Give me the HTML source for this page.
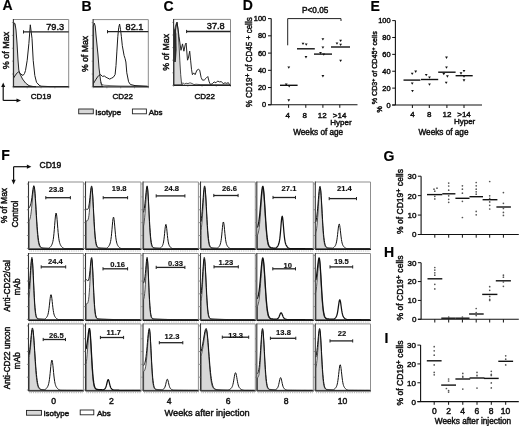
<!DOCTYPE html>
<html><head><meta charset="utf-8"><title>Figure</title>
<style>html,body{margin:0;padding:0;background:#fff;width:520px;height:426px;overflow:hidden}svg{will-change:transform;filter:blur(0.3px)}svg text{font-family:'Liberation Sans',sans-serif;stroke:#111;stroke-width:0.45px}</style>
</head><body>
<svg width="520" height="426" viewBox="0 0 520 426" style="display:block"><text x="2.60" y="10.40" font-size="14" text-anchor="start" font-weight="bold" fill="#000" style="stroke-width:0.2px;">A</text>
<text x="81.60" y="10.60" font-size="14" text-anchor="start" font-weight="bold" fill="#000" style="stroke-width:0.2px;">B</text>
<text x="163.40" y="10.60" font-size="14" text-anchor="start" font-weight="bold" fill="#000" style="stroke-width:0.2px;">C</text>
<text x="242.80" y="10.40" font-size="14" text-anchor="start" font-weight="bold" fill="#000" style="stroke-width:0.2px;">D</text>
<text x="370.60" y="10.70" font-size="14" text-anchor="start" font-weight="bold" fill="#000" style="stroke-width:0.2px;">E</text>
<text x="1.20" y="159.80" font-size="14" text-anchor="start" font-weight="bold" fill="#000" style="stroke-width:0.2px;">F</text>
<text x="383.60" y="160.80" font-size="14" text-anchor="start" font-weight="bold" fill="#000" style="stroke-width:0.2px;">G</text>
<text x="384.00" y="256.60" font-size="14" text-anchor="start" font-weight="bold" fill="#000" style="stroke-width:0.2px;">H</text>
<text x="384.60" y="342.60" font-size="14" text-anchor="start" font-weight="bold" fill="#000" style="stroke-width:0.2px;">I</text>
<path d="M13.60,86.60 L13.60,27.00 L14.10,23.00 L15.00,23.50 L16.00,30.00 L17.00,43.00 L18.00,60.00 L18.80,70.00 L20.00,74.00 L22.50,79.00 L25.50,83.00 L29.00,85.70 L33.00,86.50 L36.00,86.60 Z" fill="#d8d8d8" stroke="#1a1a1a" stroke-width="0.95" stroke-linejoin="round"/>
<path d="M13.60,78.00 L15.50,75.00 L17.50,72.50 L18.80,71.80 L20.50,73.80 L23.00,75.50 L24.50,73.50 L25.50,70.50 L27.20,60.30 L28.90,43.40 L30.30,24.80 L32.00,38.30 L33.20,60.30 L34.80,75.50 L36.50,82.30 L39.10,85.20 L41.00,86.20 L50.00,86.60 L68.00,86.60" fill="none" stroke="#1a1a1a" stroke-width="1.0" stroke-linejoin="round"/>
<line x1="11.90" y1="86.90" x2="13.40" y2="86.90" stroke="#888" stroke-width="0.7"/>
<line x1="11.90" y1="74.02" x2="13.40" y2="74.02" stroke="#888" stroke-width="0.7"/>
<line x1="11.90" y1="61.14" x2="13.40" y2="61.14" stroke="#888" stroke-width="0.7"/>
<line x1="11.90" y1="48.26" x2="13.40" y2="48.26" stroke="#888" stroke-width="0.7"/>
<line x1="11.90" y1="35.38" x2="13.40" y2="35.38" stroke="#888" stroke-width="0.7"/>
<line x1="11.90" y1="22.50" x2="13.40" y2="22.50" stroke="#888" stroke-width="0.7"/>
<line x1="13.40" y1="86.90" x2="13.40" y2="88.40" stroke="#999" stroke-width="0.7"/>
<line x1="27.23" y1="86.90" x2="27.23" y2="88.40" stroke="#999" stroke-width="0.7"/>
<line x1="41.05" y1="86.90" x2="41.05" y2="88.40" stroke="#999" stroke-width="0.7"/>
<line x1="54.88" y1="86.90" x2="54.88" y2="88.40" stroke="#999" stroke-width="0.7"/>
<line x1="68.70" y1="86.90" x2="68.70" y2="88.40" stroke="#999" stroke-width="0.7"/>
<line x1="13.40" y1="19.50" x2="68.70" y2="19.50" stroke="#8a8a8a" stroke-width="1"/>
<line x1="68.70" y1="19.50" x2="68.70" y2="86.90" stroke="#8a8a8a" stroke-width="1"/>
<line x1="13.40" y1="19.00" x2="13.40" y2="86.90" stroke="#333" stroke-width="1.1"/>
<line x1="13.40" y1="86.90" x2="69.20" y2="86.90" stroke="#222" stroke-width="1.2"/>
<line x1="23.50" y1="31.90" x2="68.70" y2="31.90" stroke="#222" stroke-width="1.3"/>
<line x1="23.50" y1="30.30" x2="23.50" y2="33.50" stroke="#222" stroke-width="1"/>
<text x="55.20" y="29.80" font-size="9.2" text-anchor="middle" font-weight="normal" fill="#111">79.3</text>
<path d="M93.30,86.60 L93.30,26.00 L94.30,23.10 L95.20,26.00 L96.00,35.00 L97.00,45.00 L98.00,55.00 L99.00,68.00 L100.50,80.00 L101.50,85.00 L103.00,86.60 Z" fill="#d8d8d8" stroke="#1a1a1a" stroke-width="0.95" stroke-linejoin="round"/>
<path d="M100.50,82.00 L102.00,84.50 L104.00,85.20 L110.00,85.60 L120.00,86.00 L147.60,86.30" fill="none" stroke="#333" stroke-width="0.7" stroke-linejoin="round"/>
<path d="M93.40,83.60 L94.80,81.20 L96.10,79.10 L97.50,77.00 L98.80,75.50 L100.60,74.60 L102.40,76.40 L104.30,76.00 L106.10,77.30 L107.90,78.20 L109.70,79.10 L111.50,78.20 L113.30,77.30 L115.10,74.60 L116.00,65.60 L116.90,51.10 L117.80,36.70 L118.70,27.60 L119.60,24.00 L120.50,29.40 L121.40,36.70 L122.30,45.70 L124.10,55.60 L125.00,58.30 L125.90,62.00 L126.80,72.80 L128.60,81.80 L130.40,84.50 L135.00,85.60 L147.60,86.30" fill="none" stroke="#1a1a1a" stroke-width="1.0" stroke-linejoin="round"/>
<line x1="91.60" y1="86.90" x2="93.10" y2="86.90" stroke="#888" stroke-width="0.7"/>
<line x1="91.60" y1="74.04" x2="93.10" y2="74.04" stroke="#888" stroke-width="0.7"/>
<line x1="91.60" y1="61.18" x2="93.10" y2="61.18" stroke="#888" stroke-width="0.7"/>
<line x1="91.60" y1="48.32" x2="93.10" y2="48.32" stroke="#888" stroke-width="0.7"/>
<line x1="91.60" y1="35.46" x2="93.10" y2="35.46" stroke="#888" stroke-width="0.7"/>
<line x1="91.60" y1="22.60" x2="93.10" y2="22.60" stroke="#888" stroke-width="0.7"/>
<line x1="93.10" y1="86.90" x2="93.10" y2="88.40" stroke="#999" stroke-width="0.7"/>
<line x1="106.90" y1="86.90" x2="106.90" y2="88.40" stroke="#999" stroke-width="0.7"/>
<line x1="120.70" y1="86.90" x2="120.70" y2="88.40" stroke="#999" stroke-width="0.7"/>
<line x1="134.50" y1="86.90" x2="134.50" y2="88.40" stroke="#999" stroke-width="0.7"/>
<line x1="148.30" y1="86.90" x2="148.30" y2="88.40" stroke="#999" stroke-width="0.7"/>
<line x1="93.10" y1="19.60" x2="148.30" y2="19.60" stroke="#8a8a8a" stroke-width="1"/>
<line x1="148.30" y1="19.60" x2="148.30" y2="86.90" stroke="#8a8a8a" stroke-width="1"/>
<line x1="93.10" y1="19.10" x2="93.10" y2="86.90" stroke="#333" stroke-width="1.1"/>
<line x1="93.10" y1="86.90" x2="148.80" y2="86.90" stroke="#222" stroke-width="1.2"/>
<line x1="107.50" y1="31.70" x2="148.30" y2="31.70" stroke="#222" stroke-width="1.3"/>
<line x1="107.50" y1="30.10" x2="107.50" y2="33.30" stroke="#222" stroke-width="1"/>
<text x="134.50" y="29.80" font-size="9.2" text-anchor="middle" font-weight="normal" fill="#111">82.1</text>
<path d="M173.90,85.00 L173.90,36.00 L175.20,27.00 L176.30,23.50 L177.00,22.40 L178.00,29.50 L178.90,42.10 L179.80,60.20 L180.70,74.70 L181.60,83.70 L182.50,84.80 Z" fill="#d8d8d8" stroke="#222" stroke-width="0.8" stroke-linejoin="round"/>
<path d="M173.90,48.00 L174.80,36.00 L175.80,28.00 L177.00,22.20 L178.20,30.00 L179.00,36.50 L179.80,42.10 L181.00,50.30 L182.50,43.90 L183.90,51.20 L185.20,44.80 L186.10,43.00 L187.50,60.20 L188.30,58.40 L189.70,51.20 L190.60,60.20 L191.50,69.30 L192.40,74.70 L193.70,72.90 L195.10,74.70 L196.90,70.20 L198.70,69.30 L199.70,70.20 L201.10,77.40 L202.40,80.10 L204.20,80.10 L206.00,78.30 L207.80,76.50 L209.20,81.90 L210.50,84.60 L212.30,83.70 L214.10,81.90 L215.90,82.80 L217.70,81.00 L219.50,81.90 L221.40,81.60 L223.20,83.70 L225.00,82.80 L226.80,83.40 L228.30,82.60 L229.50,84.60 L230.30,84.90" fill="none" stroke="#1a1a1a" stroke-width="0.95" stroke-linejoin="round"/>
<path d="M181.60,83.70 L183.00,82.90 L184.50,84.00 L186.00,83.20 L188.00,83.60 L190.00,82.80 L192.00,83.50 L194.00,84.60 L196.00,84.20 L200.00,84.60 L230.00,84.80" fill="none" stroke="#222" stroke-width="0.75" stroke-linejoin="round"/>
<path d="M174.10,62.00 L174.10,30.00 L175.20,28.00 L176.30,34.00 L176.60,50.00 L175.80,62.00 Z" fill="#2a2a2a" stroke="none" stroke-width="0" stroke-linejoin="round"/>
<line x1="172.10" y1="85.40" x2="173.60" y2="85.40" stroke="#888" stroke-width="0.7"/>
<line x1="172.10" y1="72.80" x2="173.60" y2="72.80" stroke="#888" stroke-width="0.7"/>
<line x1="172.10" y1="60.20" x2="173.60" y2="60.20" stroke="#888" stroke-width="0.7"/>
<line x1="172.10" y1="47.60" x2="173.60" y2="47.60" stroke="#888" stroke-width="0.7"/>
<line x1="172.10" y1="35.00" x2="173.60" y2="35.00" stroke="#888" stroke-width="0.7"/>
<line x1="172.10" y1="22.40" x2="173.60" y2="22.40" stroke="#888" stroke-width="0.7"/>
<line x1="173.60" y1="85.40" x2="173.60" y2="86.90" stroke="#999" stroke-width="0.7"/>
<line x1="187.82" y1="85.40" x2="187.82" y2="86.90" stroke="#999" stroke-width="0.7"/>
<line x1="202.05" y1="85.40" x2="202.05" y2="86.90" stroke="#999" stroke-width="0.7"/>
<line x1="216.28" y1="85.40" x2="216.28" y2="86.90" stroke="#999" stroke-width="0.7"/>
<line x1="230.50" y1="85.40" x2="230.50" y2="86.90" stroke="#999" stroke-width="0.7"/>
<line x1="173.60" y1="19.40" x2="230.50" y2="19.40" stroke="#8a8a8a" stroke-width="1"/>
<line x1="230.50" y1="19.40" x2="230.50" y2="85.40" stroke="#8a8a8a" stroke-width="1"/>
<line x1="173.60" y1="18.90" x2="173.60" y2="85.40" stroke="#333" stroke-width="1.1"/>
<line x1="173.60" y1="85.40" x2="231.00" y2="85.40" stroke="#222" stroke-width="1.2"/>
<line x1="186.60" y1="31.50" x2="230.50" y2="31.50" stroke="#222" stroke-width="1.3"/>
<line x1="186.60" y1="29.90" x2="186.60" y2="33.10" stroke="#222" stroke-width="1"/>
<text x="215.80" y="28.60" font-size="9.2" text-anchor="middle" font-weight="normal" fill="#111">37.8</text>
<text x="8.60" y="50.40" font-size="9" text-anchor="middle" font-weight="normal" fill="#111" transform="rotate(-90 8.60 50.40)">% of Max</text>
<text x="88.40" y="54.00" font-size="8.7" text-anchor="middle" font-weight="normal" fill="#111" transform="rotate(-90 88.40 54.00)">% of Max</text>
<text x="169.40" y="52.30" font-size="8.8" text-anchor="middle" font-weight="normal" fill="#111" transform="rotate(-90 169.40 52.30)">% of Max</text>
<text x="41.00" y="98.60" font-size="8" text-anchor="middle" font-weight="normal" fill="#111">CD19</text>
<text x="122.70" y="98.60" font-size="8" text-anchor="middle" font-weight="normal" fill="#111">CD22</text>
<text x="204.70" y="98.80" font-size="8" text-anchor="middle" font-weight="normal" fill="#111">CD22</text>
<line x1="3.20" y1="85.50" x2="3.20" y2="100.40" stroke="#111" stroke-width="1.2"/>
<line x1="3.20" y1="100.40" x2="18.00" y2="100.40" stroke="#111" stroke-width="1.2"/>
<path d="M3.20,82.50 L1.20,87.00 L5.20,87.00 Z" fill="#111" stroke="none" stroke-width="0" stroke-linejoin="round"/>
<path d="M21.00,100.40 L16.50,98.40 L16.50,102.40 Z" fill="#111" stroke="none" stroke-width="0" stroke-linejoin="round"/>
<rect x="78.7" y="109" width="14.6" height="4.8" fill="#d8d8d8" stroke="#222" stroke-width="0.9"/>
<text x="95.30" y="114.60" font-size="8" text-anchor="start" font-weight="normal" fill="#111">Isotype</text>
<rect x="132.4" y="109" width="14" height="4.8" fill="#fff" stroke="#222" stroke-width="0.9"/>
<text x="148.70" y="114.60" font-size="8" text-anchor="start" font-weight="normal" fill="#111">Abs</text>
<line x1="271.20" y1="18.60" x2="271.20" y2="104.80" stroke="#111" stroke-width="1.1"/>
<line x1="268.00" y1="104.80" x2="357.50" y2="104.80" stroke="#111" stroke-width="1.1"/>
<line x1="268.00" y1="104.80" x2="271.20" y2="104.80" stroke="#111" stroke-width="1"/>
<text x="266.20" y="107.30" font-size="7.4" text-anchor="end" font-weight="normal" fill="#111">0</text>
<line x1="268.00" y1="87.56" x2="271.20" y2="87.56" stroke="#111" stroke-width="1"/>
<text x="266.20" y="90.06" font-size="7.4" text-anchor="end" font-weight="normal" fill="#111">20</text>
<line x1="268.00" y1="70.32" x2="271.20" y2="70.32" stroke="#111" stroke-width="1"/>
<text x="266.20" y="72.82" font-size="7.4" text-anchor="end" font-weight="normal" fill="#111">40</text>
<line x1="268.00" y1="53.08" x2="271.20" y2="53.08" stroke="#111" stroke-width="1"/>
<text x="266.20" y="55.58" font-size="7.4" text-anchor="end" font-weight="normal" fill="#111">60</text>
<line x1="268.00" y1="35.84" x2="271.20" y2="35.84" stroke="#111" stroke-width="1"/>
<text x="266.20" y="38.34" font-size="7.4" text-anchor="end" font-weight="normal" fill="#111">80</text>
<line x1="268.00" y1="18.60" x2="271.20" y2="18.60" stroke="#111" stroke-width="1"/>
<text x="266.20" y="21.10" font-size="7.4" text-anchor="end" font-weight="normal" fill="#111">100</text>
<line x1="288.60" y1="104.80" x2="288.60" y2="107.80" stroke="#111" stroke-width="1"/>
<line x1="305.80" y1="104.80" x2="305.80" y2="107.80" stroke="#111" stroke-width="1"/>
<line x1="322.90" y1="104.80" x2="322.90" y2="107.80" stroke="#111" stroke-width="1"/>
<line x1="339.80" y1="104.80" x2="339.80" y2="107.80" stroke="#111" stroke-width="1"/>
<line x1="287.70" y1="18.60" x2="341.00" y2="18.60" stroke="#222" stroke-width="1"/>
<line x1="287.70" y1="18.60" x2="287.70" y2="45.30" stroke="#222" stroke-width="1"/>
<line x1="341.00" y1="18.60" x2="341.00" y2="21.00" stroke="#222" stroke-width="1"/>
<text x="315.20" y="13.20" font-size="8.2" text-anchor="middle" font-weight="normal" fill="#111">P&lt;0.05</text>
<path d="M287.40,66.38 L290.20,66.38 L288.80,68.76 Z" fill="#111" stroke="none" stroke-width="0" stroke-linejoin="round"/>
<path d="M284.80,83.48 L287.60,83.48 L286.20,85.86 Z" fill="#111" stroke="none" stroke-width="0" stroke-linejoin="round"/>
<path d="M287.80,85.18 L290.60,85.18 L289.20,87.56 Z" fill="#111" stroke="none" stroke-width="0" stroke-linejoin="round"/>
<path d="M287.40,99.28 L290.20,99.28 L288.80,101.66 Z" fill="#111" stroke="none" stroke-width="0" stroke-linejoin="round"/>
<path d="M301.60,42.68 L304.40,42.68 L303.00,45.06 Z" fill="#111" stroke="none" stroke-width="0" stroke-linejoin="round"/>
<path d="M304.80,43.48 L307.60,43.48 L306.20,45.86 Z" fill="#111" stroke="none" stroke-width="0" stroke-linejoin="round"/>
<path d="M304.60,56.08 L307.40,56.08 L306.00,58.46 Z" fill="#111" stroke="none" stroke-width="0" stroke-linejoin="round"/>
<path d="M321.50,38.18 L324.30,38.18 L322.90,40.56 Z" fill="#111" stroke="none" stroke-width="0" stroke-linejoin="round"/>
<path d="M321.50,46.48 L324.30,46.48 L322.90,48.86 Z" fill="#111" stroke="none" stroke-width="0" stroke-linejoin="round"/>
<path d="M319.10,51.88 L321.90,51.88 L320.50,54.26 Z" fill="#111" stroke="none" stroke-width="0" stroke-linejoin="round"/>
<path d="M322.40,53.48 L325.20,53.48 L323.80,55.86 Z" fill="#111" stroke="none" stroke-width="0" stroke-linejoin="round"/>
<path d="M321.50,75.08 L324.30,75.08 L322.90,77.46 Z" fill="#111" stroke="none" stroke-width="0" stroke-linejoin="round"/>
<path d="M339.20,39.68 L342.00,39.68 L340.60,42.06 Z" fill="#111" stroke="none" stroke-width="0" stroke-linejoin="round"/>
<path d="M335.60,42.38 L338.40,42.38 L337.00,44.76 Z" fill="#111" stroke="none" stroke-width="0" stroke-linejoin="round"/>
<path d="M339.20,43.68 L342.00,43.68 L340.60,46.06 Z" fill="#111" stroke="none" stroke-width="0" stroke-linejoin="round"/>
<path d="M339.20,59.68 L342.00,59.68 L340.60,62.06 Z" fill="#111" stroke="none" stroke-width="0" stroke-linejoin="round"/>
<line x1="280.00" y1="85.30" x2="297.60" y2="85.30" stroke="#111" stroke-width="1.4"/>
<line x1="297.00" y1="48.80" x2="314.80" y2="48.80" stroke="#111" stroke-width="1.4"/>
<line x1="314.00" y1="54.10" x2="332.00" y2="54.10" stroke="#111" stroke-width="1.4"/>
<line x1="331.00" y1="47.00" x2="350.00" y2="47.00" stroke="#111" stroke-width="1.4"/>
<text x="287.80" y="118.20" font-size="8" text-anchor="middle" font-weight="normal" fill="#111">4</text>
<text x="304.70" y="118.20" font-size="8" text-anchor="middle" font-weight="normal" fill="#111">8</text>
<text x="322.20" y="118.20" font-size="8" text-anchor="middle" font-weight="normal" fill="#111">12</text>
<text x="339.60" y="118.20" font-size="8" text-anchor="middle" font-weight="normal" fill="#111">&gt;14</text>
<text x="341.00" y="125.40" font-size="8" text-anchor="middle" font-weight="normal" fill="#111">Hyper</text>
<text x="318.20" y="134.90" font-size="8.2" text-anchor="middle" font-weight="normal" fill="#111">Weeks of age</text>
<text transform="translate(252.2,62.3) rotate(-90)" font-size="8.8" text-anchor="middle" fill="#111" textLength="90" lengthAdjust="spacingAndGlyphs">% CD19<tspan font-size="7.5" dy="-2.6">+</tspan><tspan dy="2.6"> of CD45 </tspan><tspan font-size="7.5" dy="-1.5">+</tspan><tspan dy="1.5"> cells</tspan></text>
<line x1="395.40" y1="20.60" x2="395.40" y2="105.00" stroke="#111" stroke-width="1.1"/>
<line x1="392.20" y1="105.00" x2="482.00" y2="105.00" stroke="#111" stroke-width="1.1"/>
<line x1="392.20" y1="105.00" x2="395.40" y2="105.00" stroke="#111" stroke-width="1"/>
<text x="390.60" y="107.50" font-size="7.4" text-anchor="end" font-weight="normal" fill="#111">0</text>
<line x1="392.20" y1="88.12" x2="395.40" y2="88.12" stroke="#111" stroke-width="1"/>
<text x="390.60" y="90.62" font-size="7.4" text-anchor="end" font-weight="normal" fill="#111">20</text>
<line x1="392.20" y1="71.24" x2="395.40" y2="71.24" stroke="#111" stroke-width="1"/>
<text x="390.60" y="73.74" font-size="7.4" text-anchor="end" font-weight="normal" fill="#111">40</text>
<line x1="392.20" y1="54.36" x2="395.40" y2="54.36" stroke="#111" stroke-width="1"/>
<text x="390.60" y="56.86" font-size="7.4" text-anchor="end" font-weight="normal" fill="#111">60</text>
<line x1="392.20" y1="37.48" x2="395.40" y2="37.48" stroke="#111" stroke-width="1"/>
<text x="390.60" y="39.98" font-size="7.4" text-anchor="end" font-weight="normal" fill="#111">80</text>
<line x1="392.20" y1="20.60" x2="395.40" y2="20.60" stroke="#111" stroke-width="1"/>
<text x="390.60" y="23.10" font-size="7.4" text-anchor="end" font-weight="normal" fill="#111">100</text>
<line x1="412.40" y1="105.00" x2="412.40" y2="108.00" stroke="#111" stroke-width="1"/>
<line x1="429.30" y1="105.00" x2="429.30" y2="108.00" stroke="#111" stroke-width="1"/>
<line x1="446.90" y1="105.00" x2="446.90" y2="108.00" stroke="#111" stroke-width="1"/>
<line x1="464.00" y1="105.00" x2="464.00" y2="108.00" stroke="#111" stroke-width="1"/>
<path d="M410.80,72.68 L413.60,72.68 L412.20,75.06 Z" fill="#111" stroke="none" stroke-width="0" stroke-linejoin="round"/>
<path d="M414.30,70.58 L417.10,70.58 L415.70,72.96 Z" fill="#111" stroke="none" stroke-width="0" stroke-linejoin="round"/>
<path d="M410.80,82.38 L413.60,82.38 L412.20,84.76 Z" fill="#111" stroke="none" stroke-width="0" stroke-linejoin="round"/>
<path d="M411.10,89.88 L413.90,89.88 L412.50,92.26 Z" fill="#111" stroke="none" stroke-width="0" stroke-linejoin="round"/>
<path d="M424.80,73.88 L427.60,73.88 L426.20,76.26 Z" fill="#111" stroke="none" stroke-width="0" stroke-linejoin="round"/>
<path d="M428.10,76.48 L430.90,76.48 L429.50,78.86 Z" fill="#111" stroke="none" stroke-width="0" stroke-linejoin="round"/>
<path d="M428.10,83.48 L430.90,83.48 L429.50,85.86 Z" fill="#111" stroke="none" stroke-width="0" stroke-linejoin="round"/>
<path d="M445.10,56.58 L447.90,56.58 L446.50,58.96 Z" fill="#111" stroke="none" stroke-width="0" stroke-linejoin="round"/>
<path d="M445.10,66.38 L447.90,66.38 L446.50,68.76 Z" fill="#111" stroke="none" stroke-width="0" stroke-linejoin="round"/>
<path d="M442.40,72.98 L445.20,72.98 L443.80,75.36 Z" fill="#111" stroke="none" stroke-width="0" stroke-linejoin="round"/>
<path d="M446.00,75.28 L448.80,75.28 L447.40,77.66 Z" fill="#111" stroke="none" stroke-width="0" stroke-linejoin="round"/>
<path d="M444.80,81.68 L447.60,81.68 L446.20,84.06 Z" fill="#111" stroke="none" stroke-width="0" stroke-linejoin="round"/>
<path d="M459.60,72.28 L462.40,72.28 L461.00,74.66 Z" fill="#111" stroke="none" stroke-width="0" stroke-linejoin="round"/>
<path d="M462.60,69.88 L465.40,69.88 L464.00,72.26 Z" fill="#111" stroke="none" stroke-width="0" stroke-linejoin="round"/>
<path d="M462.60,75.28 L465.40,75.28 L464.00,77.66 Z" fill="#111" stroke="none" stroke-width="0" stroke-linejoin="round"/>
<path d="M462.60,79.28 L465.40,79.28 L464.00,81.66 Z" fill="#111" stroke="none" stroke-width="0" stroke-linejoin="round"/>
<line x1="403.50" y1="80.10" x2="420.40" y2="80.10" stroke="#111" stroke-width="1.4"/>
<line x1="421.00" y1="79.50" x2="438.20" y2="79.50" stroke="#111" stroke-width="1.4"/>
<line x1="438.20" y1="72.20" x2="455.60" y2="72.20" stroke="#111" stroke-width="1.4"/>
<line x1="455.60" y1="75.70" x2="472.70" y2="75.70" stroke="#111" stroke-width="1.4"/>
<text x="412.40" y="116.80" font-size="8" text-anchor="middle" font-weight="normal" fill="#111">4</text>
<text x="429.30" y="116.80" font-size="8" text-anchor="middle" font-weight="normal" fill="#111">8</text>
<text x="446.90" y="116.80" font-size="8" text-anchor="middle" font-weight="normal" fill="#111">12</text>
<text x="464.00" y="116.80" font-size="8" text-anchor="middle" font-weight="normal" fill="#111">&gt;14</text>
<text x="464.60" y="124.20" font-size="8" text-anchor="middle" font-weight="normal" fill="#111">Hyper</text>
<text x="443.50" y="134.60" font-size="8.2" text-anchor="middle" font-weight="normal" fill="#111">Weeks of age</text>
<text transform="translate(377.4,67.8) rotate(-90)" font-size="7.4" text-anchor="middle" fill="#111" textLength="73" lengthAdjust="spacingAndGlyphs">% CD3<tspan font-size="5.5" dy="-2.5">+</tspan><tspan dy="2.5"> of CD45</tspan><tspan font-size="5.5" dy="-2.5">+</tspan><tspan dy="2.5"> cells</tspan></text>
<text transform="translate(382,109.4) rotate(-90)" font-size="7" text-anchor="middle" fill="#111">%</text>
<path d="M29.10,248.80 L29.10,221.10 L29.45,220.30 L29.80,219.35 L30.15,218.14 L30.50,216.56 L30.85,214.49 L31.20,211.88 L31.55,208.70 L31.90,205.02 L32.25,201.00 L32.60,196.92 L32.95,193.11 L33.30,189.96 L33.65,187.85 L34.00,187.10 L34.35,188.03 L34.70,190.74 L35.05,194.98 L35.40,200.38 L35.75,206.50 L36.10,212.89 L36.45,219.15 L36.80,224.95 L37.15,230.08 L37.50,234.41 L37.85,237.93 L38.20,240.69 L38.55,242.79 L38.90,244.33 L39.25,245.45 L39.60,246.24 L39.95,246.80 L40.30,247.20 L40.65,247.50 L41.00,247.72 L41.35,247.89 L41.70,248.03 L42.05,248.14 L42.40,248.24 L42.75,248.33 L43.10,248.40 L43.45,248.47 L43.80,248.52 L44.15,248.57 L44.50,248.61 L44.85,248.65 L45.20,248.67 L45.55,248.70 L45.90,248.72 L46.25,248.74 L46.60,248.75 L46.95,248.76 L47.30,248.77 L47.65,248.78 L48.00,248.78 L48.35,248.79 L48.70,248.79 L49.05,248.79 L49.40,248.79 L49.75,248.80 L50.10,248.80 L50.45,248.80 L50.80,248.80 L51.15,248.80 L51.50,248.80 L51.85,248.80 L52.20,248.80 L52.55,248.80 L52.90,248.80 L53.25,248.80 L53.60,248.80 L53.95,248.80 L54.30,248.80 L54.65,248.80 L55.00,248.80 L55.35,248.80 L55.70,248.80 L56.05,248.80 L56.40,248.80 L56.75,248.80 L57.10,248.80 L57.45,248.80 L57.80,248.80 L58.15,248.80 L58.50,248.80 L58.85,248.80 L59.20,248.80 L59.55,248.80 L59.90,248.80 L60.25,248.80 L60.60,248.80 L60.95,248.80 L61.30,248.80 L61.65,248.80 L62.00,248.80 L62.35,248.80 L62.70,248.80 L63.05,248.80 L63.40,248.80 L63.75,248.80 L64.10,248.80 L64.45,248.80 L64.80,248.80 L65.15,248.80 L65.50,248.80 L65.85,248.80 L66.20,248.80 L66.55,248.80 L66.90,248.80 L67.25,248.80 L67.60,248.80 L67.95,248.80 L68.30,248.80 L68.65,248.80 L69.00,248.80 L69.35,248.80 L69.70,248.80 L70.05,248.80 L70.40,248.80 L70.75,248.80 L71.10,248.80 L71.45,248.80 L71.80,248.80 L72.15,248.80 L72.50,248.80 L72.85,248.80 L73.20,248.80 L73.55,248.80 L73.90,248.80 L74.25,248.80 L74.60,248.80 L74.95,248.80 L75.30,248.80 L75.65,248.80 L76.00,248.80 L76.35,248.80 L76.70,248.80 L77.05,248.80 L77.40,248.80 L77.75,248.80 L78.10,248.80 L78.45,248.80 L78.80,248.80 L79.15,248.80 L79.50,248.80 L79.85,248.80 L80.20,248.80 L80.55,248.80 L80.90,248.80 L81.25,248.80 L81.60,248.80 L81.95,248.80 L82.30,248.80 L82.65,248.80 L82.90,248.80 Z" fill="#d8d8d8" stroke="#2a2a2a" stroke-width="0.8" stroke-linejoin="round"/>
<path d="M29.10,208.09 L29.45,207.37 L29.80,206.68 L30.15,205.91 L30.50,204.96 L30.85,203.72 L31.20,202.08 L31.55,200.02 L31.90,197.57 L32.25,194.83 L32.60,192.01 L32.95,189.37 L33.30,187.23 L33.65,185.90 L34.00,185.66 L34.35,186.87 L34.70,189.54 L35.05,193.46 L35.40,198.36 L35.75,203.91 L36.10,209.77 L36.45,215.63 L36.80,221.22 L37.15,226.34 L37.50,230.84 L37.85,234.68 L38.20,237.85 L38.55,240.39 L38.90,242.37 L39.25,243.89 L39.60,245.02 L39.95,245.85 L40.30,246.47 L40.65,246.92 L41.00,247.25 L41.35,247.50 L41.70,247.70 L42.05,247.84 L42.40,247.87 L42.75,247.89 L43.10,247.92 L43.45,247.94 L43.80,247.97 L44.15,247.99 L44.50,248.02 L44.85,248.04 L45.20,248.06 L45.55,248.08 L45.90,248.10 L46.25,248.12 L46.60,248.14 L46.95,248.16 L47.30,248.18 L47.65,248.20 L48.00,248.21 L48.35,248.23 L48.70,248.21 L49.05,248.04 L49.40,247.82 L49.75,247.56 L50.10,247.25 L50.45,246.88 L50.80,246.45 L51.15,245.96 L51.50,245.38 L51.85,244.69 L52.20,243.85 L52.55,242.77 L52.90,241.35 L53.25,239.45 L53.60,236.91 L53.95,233.66 L54.30,229.73 L54.65,225.33 L55.00,220.89 L55.35,216.97 L55.70,214.19 L56.05,213.02 L56.40,213.68 L56.75,216.04 L57.10,219.69 L57.45,224.05 L57.80,228.51 L58.15,232.60 L58.50,236.06 L58.85,238.79 L59.20,240.86 L59.55,242.41 L59.90,243.57 L60.25,244.47 L60.60,245.19 L60.95,245.80 L61.30,246.32 L61.65,246.77 L62.00,247.15 L62.35,247.48 L62.70,247.75 L63.05,247.98 L63.40,248.17 L63.75,248.32 L64.10,248.44 L64.45,248.53 L64.80,248.60 L65.15,248.66 L65.50,248.66 L65.85,248.67 L66.20,248.67 L66.55,248.68 L66.90,248.68 L67.25,248.68 L67.60,248.69 L67.95,248.69 L68.30,248.69 L68.65,248.70 L69.00,248.70 L69.35,248.70 L69.70,248.70 L70.05,248.71 L70.40,248.71 L70.75,248.71 L71.10,248.71 L71.45,248.72 L71.80,248.72 L72.15,248.72 L72.50,248.72 L72.85,248.73 L73.20,248.73 L73.55,248.73 L73.90,248.73 L74.25,248.73 L74.60,248.74 L74.95,248.74 L75.30,248.74 L75.65,248.74 L76.00,248.74 L76.35,248.74 L76.70,248.75 L77.05,248.75 L77.40,248.75 L77.75,248.75 L78.10,248.75 L78.45,248.75 L78.80,248.76 L79.15,248.76 L79.50,248.76 L79.85,248.76 L80.20,248.76 L80.55,248.76 L80.90,248.76 L81.25,248.76 L81.60,248.76 L81.95,248.77 L82.30,248.77 L82.65,248.77" fill="none" stroke="#111" stroke-width="1.0" stroke-linejoin="round"/>
<line x1="28.50" y1="182.00" x2="83.40" y2="182.00" stroke="#8f8f8f" stroke-width="1"/>
<line x1="83.40" y1="182.00" x2="83.40" y2="249.40" stroke="#8f8f8f" stroke-width="1"/>
<line x1="28.50" y1="181.50" x2="28.50" y2="249.40" stroke="#333" stroke-width="1.1"/>
<line x1="28.50" y1="249.40" x2="83.90" y2="249.40" stroke="#1a1a1a" stroke-width="1.2"/>
<line x1="26.90" y1="248.40" x2="28.50" y2="248.40" stroke="#777" stroke-width="0.8"/>
<line x1="26.90" y1="235.52" x2="28.50" y2="235.52" stroke="#777" stroke-width="0.8"/>
<line x1="26.90" y1="222.64" x2="28.50" y2="222.64" stroke="#777" stroke-width="0.8"/>
<line x1="26.90" y1="209.76" x2="28.50" y2="209.76" stroke="#777" stroke-width="0.8"/>
<line x1="26.90" y1="196.88" x2="28.50" y2="196.88" stroke="#777" stroke-width="0.8"/>
<line x1="26.90" y1="184.00" x2="28.50" y2="184.00" stroke="#777" stroke-width="0.8"/>
<line x1="29.50" y1="251.00" x2="83.40" y2="251.00" stroke="#aaa" stroke-width="1.1" stroke-dasharray="0.8 1.0"/>
<line x1="45.80" y1="197.70" x2="70.40" y2="197.70" stroke="#222" stroke-width="1.3"/>
<line x1="45.80" y1="196.10" x2="45.80" y2="199.30" stroke="#222" stroke-width="1"/>
<line x1="70.40" y1="196.10" x2="70.40" y2="199.30" stroke="#222" stroke-width="1"/>
<text x="56.20" y="192.00" font-size="7.6" text-anchor="middle" font-weight="bold" fill="#111" style="stroke-width:0.15px;">23.8</text>
<path d="M86.10,248.80 L86.10,220.96 L86.45,220.87 L86.80,220.84 L87.15,220.79 L87.50,220.61 L87.85,220.16 L88.20,219.28 L88.55,217.80 L88.90,215.58 L89.25,212.54 L89.60,208.71 L89.95,204.25 L90.30,199.50 L90.65,194.90 L91.00,191.00 L91.35,188.35 L91.70,187.40 L92.05,188.59 L92.40,192.04 L92.75,197.32 L93.10,203.88 L93.45,211.04 L93.80,218.19 L94.15,224.82 L94.50,230.59 L94.85,235.35 L95.20,239.07 L95.55,241.85 L95.90,243.85 L96.25,245.24 L96.60,246.19 L96.95,246.83 L97.30,247.27 L97.65,247.58 L98.00,247.80 L98.35,247.98 L98.70,248.12 L99.05,248.23 L99.40,248.33 L99.75,248.41 L100.10,248.48 L100.45,248.54 L100.80,248.59 L101.15,248.64 L101.50,248.67 L101.85,248.70 L102.20,248.72 L102.55,248.74 L102.90,248.75 L103.25,248.76 L103.60,248.77 L103.95,248.78 L104.30,248.79 L104.65,248.79 L105.00,248.79 L105.35,248.79 L105.70,248.80 L106.05,248.80 L106.40,248.80 L106.75,248.80 L107.10,248.80 L107.45,248.80 L107.80,248.80 L108.15,248.80 L108.50,248.80 L108.85,248.80 L109.20,248.80 L109.55,248.80 L109.90,248.80 L110.25,248.80 L110.60,248.80 L110.95,248.80 L111.30,248.80 L111.65,248.80 L112.00,248.80 L112.35,248.80 L112.70,248.80 L113.05,248.80 L113.40,248.80 L113.75,248.80 L114.10,248.80 L114.45,248.80 L114.80,248.80 L115.15,248.80 L115.50,248.80 L115.85,248.80 L116.20,248.80 L116.55,248.80 L116.90,248.80 L117.25,248.80 L117.60,248.80 L117.95,248.80 L118.30,248.80 L118.65,248.80 L119.00,248.80 L119.35,248.80 L119.70,248.80 L120.05,248.80 L120.40,248.80 L120.75,248.80 L121.10,248.80 L121.45,248.80 L121.80,248.80 L122.15,248.80 L122.50,248.80 L122.85,248.80 L123.20,248.80 L123.55,248.80 L123.90,248.80 L124.25,248.80 L124.60,248.80 L124.95,248.80 L125.30,248.80 L125.65,248.80 L126.00,248.80 L126.35,248.80 L126.70,248.80 L127.05,248.80 L127.40,248.80 L127.75,248.80 L128.10,248.80 L128.45,248.80 L128.80,248.80 L129.15,248.80 L129.50,248.80 L129.85,248.80 L130.20,248.80 L130.55,248.80 L130.90,248.80 L131.25,248.80 L131.60,248.80 L131.95,248.80 L132.30,248.80 L132.65,248.80 L133.00,248.80 L133.35,248.80 L133.70,248.80 L134.05,248.80 L134.40,248.80 L134.75,248.80 L135.10,248.80 L135.45,248.80 L135.80,248.80 L136.15,248.80 L136.50,248.80 L136.85,248.80 L137.20,248.80 L137.55,248.80 L137.90,248.80 L138.25,248.80 L138.60,248.80 L138.95,248.80 L139.30,248.80 L139.65,248.80 L140.00,248.80 L140.35,248.80 L140.40,248.80 Z" fill="#d8d8d8" stroke="#2a2a2a" stroke-width="0.8" stroke-linejoin="round"/>
<path d="M86.10,209.42 L86.45,209.30 L86.80,209.31 L87.15,209.36 L87.50,209.35 L87.85,209.16 L88.20,208.63 L88.55,207.62 L88.90,206.02 L89.25,203.78 L89.60,200.92 L89.95,197.59 L90.30,194.07 L90.65,190.73 L91.00,187.99 L91.35,186.29 L91.70,185.98 L92.05,187.53 L92.40,190.91 L92.75,195.80 L93.10,201.77 L93.45,208.31 L93.80,214.97 L94.15,221.32 L94.50,227.06 L94.85,232.01 L95.20,236.10 L95.55,239.34 L95.90,241.82 L96.25,243.66 L96.60,244.99 L96.95,245.93 L97.30,246.59 L97.65,247.06 L98.00,247.39 L98.35,247.64 L98.70,247.76 L99.05,247.79 L99.40,247.81 L99.75,247.84 L100.10,247.87 L100.45,247.90 L100.80,247.92 L101.15,247.95 L101.50,247.97 L101.85,248.00 L102.20,248.02 L102.55,248.04 L102.90,248.06 L103.25,248.09 L103.60,248.11 L103.95,248.13 L104.30,248.15 L104.65,248.16 L105.00,248.18 L105.35,248.20 L105.70,248.22 L106.05,248.23 L106.40,248.25 L106.75,248.11 L107.10,247.90 L107.45,247.65 L107.80,247.36 L108.15,247.00 L108.50,246.59 L108.85,246.11 L109.20,245.55 L109.55,244.87 L109.90,244.01 L110.25,242.88 L110.60,241.36 L110.95,239.30 L111.30,236.58 L111.65,233.18 L112.00,229.24 L112.35,225.12 L112.70,221.35 L113.05,218.53 L113.40,217.17 L113.75,217.55 L114.10,219.58 L114.45,222.89 L114.80,226.88 L115.15,230.98 L115.50,234.71 L115.85,237.83 L116.20,240.26 L116.55,242.07 L116.90,243.40 L117.25,244.40 L117.60,245.18 L117.95,245.80 L118.30,246.33 L118.65,246.78 L119.00,247.16 L119.35,247.49 L119.70,247.77 L120.05,247.99 L120.40,248.18 L120.75,248.33 L121.10,248.45 L121.45,248.54 L121.80,248.61 L122.15,248.65 L122.50,248.66 L122.85,248.66 L123.20,248.66 L123.55,248.67 L123.90,248.67 L124.25,248.68 L124.60,248.68 L124.95,248.68 L125.30,248.69 L125.65,248.69 L126.00,248.69 L126.35,248.70 L126.70,248.70 L127.05,248.70 L127.40,248.70 L127.75,248.71 L128.10,248.71 L128.45,248.71 L128.80,248.71 L129.15,248.72 L129.50,248.72 L129.85,248.72 L130.20,248.72 L130.55,248.73 L130.90,248.73 L131.25,248.73 L131.60,248.73 L131.95,248.73 L132.30,248.74 L132.65,248.74 L133.00,248.74 L133.35,248.74 L133.70,248.74 L134.05,248.75 L134.40,248.75 L134.75,248.75 L135.10,248.75 L135.45,248.75 L135.80,248.75 L136.15,248.75 L136.50,248.76 L136.85,248.76 L137.20,248.76 L137.55,248.76 L137.90,248.76 L138.25,248.76 L138.60,248.76 L138.95,248.76 L139.30,248.76 L139.65,248.77 L140.00,248.77 L140.35,248.77" fill="none" stroke="#111" stroke-width="1.0" stroke-linejoin="round"/>
<line x1="85.50" y1="182.00" x2="140.90" y2="182.00" stroke="#8f8f8f" stroke-width="1"/>
<line x1="140.90" y1="182.00" x2="140.90" y2="249.40" stroke="#8f8f8f" stroke-width="1"/>
<line x1="85.50" y1="181.50" x2="85.50" y2="249.40" stroke="#333" stroke-width="1.1"/>
<line x1="85.50" y1="249.40" x2="141.40" y2="249.40" stroke="#1a1a1a" stroke-width="1.2"/>
<line x1="83.90" y1="248.40" x2="85.50" y2="248.40" stroke="#777" stroke-width="0.8"/>
<line x1="83.90" y1="235.52" x2="85.50" y2="235.52" stroke="#777" stroke-width="0.8"/>
<line x1="83.90" y1="222.64" x2="85.50" y2="222.64" stroke="#777" stroke-width="0.8"/>
<line x1="83.90" y1="209.76" x2="85.50" y2="209.76" stroke="#777" stroke-width="0.8"/>
<line x1="83.90" y1="196.88" x2="85.50" y2="196.88" stroke="#777" stroke-width="0.8"/>
<line x1="83.90" y1="184.00" x2="85.50" y2="184.00" stroke="#777" stroke-width="0.8"/>
<line x1="86.50" y1="251.00" x2="140.90" y2="251.00" stroke="#aaa" stroke-width="1.1" stroke-dasharray="0.8 1.0"/>
<line x1="103.20" y1="197.70" x2="127.60" y2="197.70" stroke="#222" stroke-width="1.3"/>
<line x1="103.20" y1="196.10" x2="103.20" y2="199.30" stroke="#222" stroke-width="1"/>
<line x1="127.60" y1="196.10" x2="127.60" y2="199.30" stroke="#222" stroke-width="1"/>
<text x="119.10" y="191.30" font-size="7.6" text-anchor="middle" font-weight="bold" fill="#111" style="stroke-width:0.15px;">19.8</text>
<path d="M143.60,248.80 L143.60,226.04 L143.95,223.88 L144.30,221.15 L144.65,217.70 L145.00,213.46 L145.35,208.51 L145.70,203.10 L146.05,197.67 L146.40,192.82 L146.75,189.23 L147.10,187.49 L147.45,188.07 L147.80,191.17 L148.15,196.40 L148.50,203.12 L148.85,210.59 L149.20,218.09 L149.55,225.03 L149.90,231.02 L150.25,235.89 L150.60,239.63 L150.95,242.36 L151.30,244.28 L151.65,245.59 L152.00,246.46 L152.35,247.04 L152.70,247.43 L153.05,247.70 L153.40,247.90 L153.75,248.06 L154.10,248.19 L154.45,248.30 L154.80,248.39 L155.15,248.47 L155.50,248.53 L155.85,248.59 L156.20,248.63 L156.55,248.67 L156.90,248.70 L157.25,248.72 L157.60,248.74 L157.95,248.76 L158.30,248.77 L158.65,248.78 L159.00,248.78 L159.35,248.79 L159.70,248.79 L160.05,248.79 L160.40,248.80 L160.75,248.80 L161.10,248.80 L161.45,248.80 L161.80,248.80 L162.15,248.80 L162.50,248.80 L162.85,248.80 L163.20,248.80 L163.55,248.80 L163.90,248.80 L164.25,248.80 L164.60,248.80 L164.95,248.80 L165.30,248.80 L165.65,248.80 L166.00,248.80 L166.35,248.80 L166.70,248.80 L167.05,248.80 L167.40,248.80 L167.75,248.80 L168.10,248.80 L168.45,248.80 L168.80,248.80 L169.15,248.80 L169.50,248.80 L169.85,248.80 L170.20,248.80 L170.55,248.80 L170.90,248.80 L171.25,248.80 L171.60,248.80 L171.95,248.80 L172.30,248.80 L172.65,248.80 L173.00,248.80 L173.35,248.80 L173.70,248.80 L174.05,248.80 L174.40,248.80 L174.75,248.80 L175.10,248.80 L175.45,248.80 L175.80,248.80 L176.15,248.80 L176.50,248.80 L176.85,248.80 L177.20,248.80 L177.55,248.80 L177.90,248.80 L178.25,248.80 L178.60,248.80 L178.95,248.80 L179.30,248.80 L179.65,248.80 L180.00,248.80 L180.35,248.80 L180.70,248.80 L181.05,248.80 L181.40,248.80 L181.75,248.80 L182.10,248.80 L182.45,248.80 L182.80,248.80 L183.15,248.80 L183.50,248.80 L183.85,248.80 L184.20,248.80 L184.55,248.80 L184.90,248.80 L185.25,248.80 L185.60,248.80 L185.95,248.80 L186.30,248.80 L186.65,248.80 L187.00,248.80 L187.35,248.80 L187.70,248.80 L188.05,248.80 L188.40,248.80 L188.75,248.80 L189.10,248.80 L189.45,248.80 L189.80,248.80 L190.15,248.80 L190.50,248.80 L190.85,248.80 L191.20,248.80 L191.55,248.80 L191.90,248.80 L192.25,248.80 L192.60,248.80 L192.95,248.80 L193.30,248.80 L193.65,248.80 L194.00,248.80 L194.35,248.80 L194.70,248.80 L195.05,248.80 L195.40,248.80 L195.75,248.80 L196.10,248.80 L196.45,248.80 L196.80,248.80 L197.15,248.80 L197.50,248.80 L197.85,248.80 L197.90,248.80 Z" fill="#d8d8d8" stroke="#2a2a2a" stroke-width="0.8" stroke-linejoin="round"/>
<path d="M143.60,212.33 L143.95,210.45 L144.30,208.39 L144.65,205.99 L145.00,203.12 L145.35,199.78 L145.70,196.09 L146.05,192.38 L146.40,189.09 L146.75,186.77 L147.10,185.90 L147.45,186.99 L147.80,190.14 L148.15,195.03 L148.50,201.17 L148.85,208.00 L149.20,214.97 L149.55,221.61 L149.90,227.57 L150.25,232.65 L150.60,236.78 L150.95,239.99 L151.30,242.40 L151.65,244.15 L152.00,245.38 L152.35,246.24 L152.70,246.83 L153.05,247.24 L153.40,247.54 L153.75,247.72 L154.10,247.75 L154.45,247.78 L154.80,247.81 L155.15,247.84 L155.50,247.86 L155.85,247.89 L156.20,247.92 L156.55,247.94 L156.90,247.97 L157.25,247.99 L157.60,248.01 L157.95,248.04 L158.30,248.06 L158.65,248.08 L159.00,248.10 L159.35,248.12 L159.70,248.14 L160.05,248.16 L160.40,248.01 L160.75,247.77 L161.10,247.48 L161.45,247.12 L161.80,246.71 L162.15,246.20 L162.50,245.57 L162.85,244.75 L163.20,243.60 L163.55,241.99 L163.90,239.76 L164.25,236.85 L164.60,233.41 L164.95,229.83 L165.30,226.72 L165.65,224.74 L166.00,224.37 L166.35,225.70 L166.70,228.40 L167.05,231.86 L167.40,235.42 L167.75,238.59 L168.10,241.12 L168.45,242.98 L168.80,244.31 L169.15,245.25 L169.50,245.95 L169.85,246.50 L170.20,246.95 L170.55,247.33 L170.90,247.65 L171.25,247.91 L171.60,248.13 L171.95,248.30 L172.30,248.43 L172.65,248.54 L173.00,248.58 L173.35,248.59 L173.70,248.59 L174.05,248.60 L174.40,248.61 L174.75,248.61 L175.10,248.62 L175.45,248.62 L175.80,248.63 L176.15,248.63 L176.50,248.64 L176.85,248.64 L177.20,248.65 L177.55,248.65 L177.90,248.66 L178.25,248.66 L178.60,248.66 L178.95,248.67 L179.30,248.67 L179.65,248.67 L180.00,248.68 L180.35,248.68 L180.70,248.69 L181.05,248.69 L181.40,248.69 L181.75,248.69 L182.10,248.70 L182.45,248.70 L182.80,248.70 L183.15,248.71 L183.50,248.71 L183.85,248.71 L184.20,248.71 L184.55,248.72 L184.90,248.72 L185.25,248.72 L185.60,248.72 L185.95,248.73 L186.30,248.73 L186.65,248.73 L187.00,248.73 L187.35,248.73 L187.70,248.74 L188.05,248.74 L188.40,248.74 L188.75,248.74 L189.10,248.74 L189.45,248.74 L189.80,248.75 L190.15,248.75 L190.50,248.75 L190.85,248.75 L191.20,248.75 L191.55,248.75 L191.90,248.75 L192.25,248.76 L192.60,248.76 L192.95,248.76 L193.30,248.76 L193.65,248.76 L194.00,248.76 L194.35,248.76 L194.70,248.76 L195.05,248.77 L195.40,248.77 L195.75,248.77 L196.10,248.77 L196.45,248.77 L196.80,248.77 L197.15,248.77 L197.50,248.77 L197.85,248.77" fill="none" stroke="#111" stroke-width="1.0" stroke-linejoin="round"/>
<line x1="143.00" y1="182.00" x2="198.40" y2="182.00" stroke="#8f8f8f" stroke-width="1"/>
<line x1="198.40" y1="182.00" x2="198.40" y2="249.40" stroke="#8f8f8f" stroke-width="1"/>
<line x1="143.00" y1="181.50" x2="143.00" y2="249.40" stroke="#333" stroke-width="1.1"/>
<line x1="143.00" y1="249.40" x2="198.90" y2="249.40" stroke="#1a1a1a" stroke-width="1.2"/>
<line x1="141.40" y1="248.40" x2="143.00" y2="248.40" stroke="#777" stroke-width="0.8"/>
<line x1="141.40" y1="235.52" x2="143.00" y2="235.52" stroke="#777" stroke-width="0.8"/>
<line x1="141.40" y1="222.64" x2="143.00" y2="222.64" stroke="#777" stroke-width="0.8"/>
<line x1="141.40" y1="209.76" x2="143.00" y2="209.76" stroke="#777" stroke-width="0.8"/>
<line x1="141.40" y1="196.88" x2="143.00" y2="196.88" stroke="#777" stroke-width="0.8"/>
<line x1="141.40" y1="184.00" x2="143.00" y2="184.00" stroke="#777" stroke-width="0.8"/>
<line x1="144.00" y1="251.00" x2="198.40" y2="251.00" stroke="#aaa" stroke-width="1.1" stroke-dasharray="0.8 1.0"/>
<line x1="156.20" y1="195.90" x2="184.90" y2="195.90" stroke="#222" stroke-width="1.3"/>
<line x1="156.20" y1="194.30" x2="156.20" y2="197.50" stroke="#222" stroke-width="1"/>
<line x1="184.90" y1="194.30" x2="184.90" y2="197.50" stroke="#222" stroke-width="1"/>
<text x="171.70" y="191.20" font-size="7.6" text-anchor="middle" font-weight="bold" fill="#111" style="stroke-width:0.15px;">24.8</text>
<path d="M201.10,248.80 L201.10,230.44 L201.45,227.66 L201.80,224.17 L202.15,219.89 L202.50,214.85 L202.85,209.22 L203.20,203.32 L203.55,197.63 L203.90,192.72 L204.25,189.17 L204.60,187.49 L204.95,188.01 L205.30,190.84 L205.65,195.66 L206.00,201.91 L206.35,208.97 L206.70,216.18 L207.05,223.00 L207.40,229.04 L207.75,234.10 L208.10,238.11 L208.45,241.14 L208.80,243.35 L209.15,244.90 L209.50,245.96 L209.85,246.68 L210.20,247.16 L210.55,247.50 L210.90,247.74 L211.25,247.93 L211.60,248.08 L211.95,248.20 L212.30,248.30 L212.65,248.39 L213.00,248.46 L213.35,248.53 L213.70,248.58 L214.05,248.62 L214.40,248.66 L214.75,248.69 L215.10,248.71 L215.45,248.73 L215.80,248.75 L216.15,248.76 L216.50,248.77 L216.85,248.78 L217.20,248.78 L217.55,248.79 L217.90,248.79 L218.25,248.79 L218.60,248.80 L218.95,248.80 L219.30,248.80 L219.65,248.80 L220.00,248.80 L220.35,248.80 L220.70,248.80 L221.05,248.80 L221.40,248.80 L221.75,248.80 L222.10,248.80 L222.45,248.80 L222.80,248.80 L223.15,248.80 L223.50,248.80 L223.85,248.80 L224.20,248.80 L224.55,248.80 L224.90,248.80 L225.25,248.80 L225.60,248.80 L225.95,248.80 L226.30,248.80 L226.65,248.80 L227.00,248.80 L227.35,248.80 L227.70,248.80 L228.05,248.80 L228.40,248.80 L228.75,248.80 L229.10,248.80 L229.45,248.80 L229.80,248.80 L230.15,248.80 L230.50,248.80 L230.85,248.80 L231.20,248.80 L231.55,248.80 L231.90,248.80 L232.25,248.80 L232.60,248.80 L232.95,248.80 L233.30,248.80 L233.65,248.80 L234.00,248.80 L234.35,248.80 L234.70,248.80 L235.05,248.80 L235.40,248.80 L235.75,248.80 L236.10,248.80 L236.45,248.80 L236.80,248.80 L237.15,248.80 L237.50,248.80 L237.85,248.80 L238.20,248.80 L238.55,248.80 L238.90,248.80 L239.25,248.80 L239.60,248.80 L239.95,248.80 L240.30,248.80 L240.65,248.80 L241.00,248.80 L241.35,248.80 L241.70,248.80 L242.05,248.80 L242.40,248.80 L242.75,248.80 L243.10,248.80 L243.45,248.80 L243.80,248.80 L244.15,248.80 L244.50,248.80 L244.85,248.80 L245.20,248.80 L245.55,248.80 L245.90,248.80 L246.25,248.80 L246.60,248.80 L246.95,248.80 L247.30,248.80 L247.65,248.80 L248.00,248.80 L248.35,248.80 L248.70,248.80 L249.05,248.80 L249.40,248.80 L249.75,248.80 L250.10,248.80 L250.45,248.80 L250.80,248.80 L251.15,248.80 L251.50,248.80 L251.85,248.80 L252.20,248.80 L252.55,248.80 L252.90,248.80 L253.25,248.80 L253.60,248.80 L253.95,248.80 L254.30,248.80 L254.65,248.80 L254.80,248.80 Z" fill="#d8d8d8" stroke="#2a2a2a" stroke-width="0.8" stroke-linejoin="round"/>
<path d="M201.10,221.66 L201.45,218.69 L201.80,215.26 L202.15,211.33 L202.50,206.94 L202.85,202.23 L203.20,197.45 L203.55,192.98 L203.90,189.28 L204.25,186.79 L204.60,185.90 L204.95,186.89 L205.30,189.78 L205.65,194.28 L206.00,199.98 L206.35,206.41 L206.70,213.08 L207.05,219.55 L207.40,225.49 L207.75,230.68 L208.10,235.02 L208.45,238.50 L208.80,241.18 L209.15,243.19 L209.50,244.65 L209.85,245.69 L210.20,246.42 L210.55,246.94 L210.90,247.31 L211.25,247.57 L211.60,247.75 L211.95,247.78 L212.30,247.81 L212.65,247.84 L213.00,247.86 L213.35,247.89 L213.70,247.92 L214.05,247.94 L214.40,247.97 L214.75,247.99 L215.10,248.01 L215.45,248.04 L215.80,248.06 L216.15,248.08 L216.50,248.10 L216.85,248.12 L217.20,248.14 L217.55,248.00 L217.90,247.77 L218.25,247.48 L218.60,247.13 L218.95,246.73 L219.30,246.24 L219.65,245.66 L220.00,244.92 L220.35,243.94 L220.70,242.59 L221.05,240.71 L221.40,238.18 L221.75,234.97 L222.10,231.29 L222.45,227.54 L222.80,224.35 L223.15,222.35 L223.50,221.97 L223.85,223.31 L224.20,226.07 L224.55,229.66 L224.90,233.43 L225.25,236.88 L225.60,239.71 L225.95,241.86 L226.30,243.42 L226.65,244.54 L227.00,245.37 L227.35,246.01 L227.70,246.53 L228.05,246.97 L228.40,247.34 L228.75,247.65 L229.10,247.91 L229.45,248.12 L229.80,248.29 L230.15,248.42 L230.50,248.52 L230.85,248.59 L231.20,248.59 L231.55,248.60 L231.90,248.61 L232.25,248.61 L232.60,248.62 L232.95,248.62 L233.30,248.63 L233.65,248.63 L234.00,248.64 L234.35,248.64 L234.70,248.65 L235.05,248.65 L235.40,248.66 L235.75,248.66 L236.10,248.66 L236.45,248.67 L236.80,248.67 L237.15,248.67 L237.50,248.68 L237.85,248.68 L238.20,248.69 L238.55,248.69 L238.90,248.69 L239.25,248.69 L239.60,248.70 L239.95,248.70 L240.30,248.70 L240.65,248.71 L241.00,248.71 L241.35,248.71 L241.70,248.71 L242.05,248.72 L242.40,248.72 L242.75,248.72 L243.10,248.72 L243.45,248.73 L243.80,248.73 L244.15,248.73 L244.50,248.73 L244.85,248.73 L245.20,248.74 L245.55,248.74 L245.90,248.74 L246.25,248.74 L246.60,248.74 L246.95,248.74 L247.30,248.75 L247.65,248.75 L248.00,248.75 L248.35,248.75 L248.70,248.75 L249.05,248.75 L249.40,248.75 L249.75,248.76 L250.10,248.76 L250.45,248.76 L250.80,248.76 L251.15,248.76 L251.50,248.76 L251.85,248.76 L252.20,248.76 L252.55,248.77 L252.90,248.77 L253.25,248.77 L253.60,248.77 L253.95,248.77 L254.30,248.77 L254.65,248.77" fill="none" stroke="#111" stroke-width="1.0" stroke-linejoin="round"/>
<line x1="200.50" y1="182.00" x2="255.30" y2="182.00" stroke="#8f8f8f" stroke-width="1"/>
<line x1="255.30" y1="182.00" x2="255.30" y2="249.40" stroke="#8f8f8f" stroke-width="1"/>
<line x1="200.50" y1="181.50" x2="200.50" y2="249.40" stroke="#333" stroke-width="1.1"/>
<line x1="200.50" y1="249.40" x2="255.80" y2="249.40" stroke="#1a1a1a" stroke-width="1.2"/>
<line x1="198.90" y1="248.40" x2="200.50" y2="248.40" stroke="#777" stroke-width="0.8"/>
<line x1="198.90" y1="235.52" x2="200.50" y2="235.52" stroke="#777" stroke-width="0.8"/>
<line x1="198.90" y1="222.64" x2="200.50" y2="222.64" stroke="#777" stroke-width="0.8"/>
<line x1="198.90" y1="209.76" x2="200.50" y2="209.76" stroke="#777" stroke-width="0.8"/>
<line x1="198.90" y1="196.88" x2="200.50" y2="196.88" stroke="#777" stroke-width="0.8"/>
<line x1="198.90" y1="184.00" x2="200.50" y2="184.00" stroke="#777" stroke-width="0.8"/>
<line x1="201.50" y1="251.00" x2="255.30" y2="251.00" stroke="#aaa" stroke-width="1.1" stroke-dasharray="0.8 1.0"/>
<line x1="213.80" y1="195.50" x2="238.10" y2="195.50" stroke="#222" stroke-width="1.3"/>
<line x1="213.80" y1="193.90" x2="213.80" y2="197.10" stroke="#222" stroke-width="1"/>
<line x1="238.10" y1="193.90" x2="238.10" y2="197.10" stroke="#222" stroke-width="1"/>
<text x="229.50" y="191.20" font-size="7.6" text-anchor="middle" font-weight="bold" fill="#111" style="stroke-width:0.15px;">26.6</text>
<path d="M257.40,248.80 L257.40,235.09 L257.75,234.33 L258.10,233.32 L258.45,231.96 L258.80,230.15 L259.15,227.79 L259.50,224.81 L259.85,221.18 L260.20,216.94 L260.55,212.20 L260.90,207.15 L261.25,202.05 L261.60,197.24 L261.95,193.09 L262.30,189.94 L262.65,188.10 L263.00,187.77 L263.35,189.10 L263.70,192.03 L264.05,196.29 L264.40,201.55 L264.75,207.43 L265.10,213.52 L265.45,219.47 L265.80,225.00 L266.15,229.92 L266.50,234.12 L266.85,237.57 L267.20,240.32 L267.55,242.43 L267.90,244.02 L268.25,245.19 L268.60,246.03 L268.95,246.63 L269.30,247.07 L269.65,247.39 L270.00,247.63 L270.35,247.81 L270.70,247.96 L271.05,248.08 L271.40,248.19 L271.75,248.28 L272.10,248.35 L272.45,248.42 L272.80,248.48 L273.15,248.53 L273.50,248.58 L273.85,248.62 L274.20,248.65 L274.55,248.68 L274.90,248.70 L275.25,248.72 L275.60,248.73 L275.95,248.75 L276.30,248.76 L276.65,248.77 L277.00,248.77 L277.35,248.78 L277.70,248.78 L278.05,248.79 L278.40,248.79 L278.75,248.79 L279.10,248.79 L279.45,248.80 L279.80,248.80 L280.15,248.80 L280.50,248.80 L280.85,248.80 L281.20,248.80 L281.55,248.80 L281.90,248.80 L282.25,248.80 L282.60,248.80 L282.95,248.80 L283.30,248.80 L283.65,248.80 L284.00,248.80 L284.35,248.80 L284.70,248.80 L285.05,248.80 L285.40,248.80 L285.75,248.80 L286.10,248.80 L286.45,248.80 L286.80,248.80 L287.15,248.80 L287.50,248.80 L287.85,248.80 L288.20,248.80 L288.55,248.80 L288.90,248.80 L289.25,248.80 L289.60,248.80 L289.95,248.80 L290.30,248.80 L290.65,248.80 L291.00,248.80 L291.35,248.80 L291.70,248.80 L292.05,248.80 L292.40,248.80 L292.75,248.80 L293.10,248.80 L293.45,248.80 L293.80,248.80 L294.15,248.80 L294.50,248.80 L294.85,248.80 L295.20,248.80 L295.55,248.80 L295.90,248.80 L296.25,248.80 L296.60,248.80 L296.95,248.80 L297.30,248.80 L297.65,248.80 L298.00,248.80 L298.35,248.80 L298.70,248.80 L299.05,248.80 L299.40,248.80 L299.75,248.80 L300.10,248.80 L300.45,248.80 L300.80,248.80 L301.15,248.80 L301.50,248.80 L301.85,248.80 L302.20,248.80 L302.55,248.80 L302.90,248.80 L303.25,248.80 L303.60,248.80 L303.95,248.80 L304.30,248.80 L304.65,248.80 L305.00,248.80 L305.35,248.80 L305.70,248.80 L306.05,248.80 L306.40,248.80 L306.75,248.80 L307.10,248.80 L307.45,248.80 L307.80,248.80 L308.15,248.80 L308.50,248.80 L308.85,248.80 L309.20,248.80 L309.55,248.80 L309.90,248.80 L310.25,248.80 L310.60,248.80 L310.95,248.80 L311.30,248.80 L311.65,248.80 L312.00,248.80 L312.35,248.80 L312.70,248.80 L312.80,248.80 Z" fill="#d8d8d8" stroke="#2a2a2a" stroke-width="0.8" stroke-linejoin="round"/>
<path d="M257.40,227.48 L257.75,226.46 L258.10,225.21 L258.45,223.65 L258.80,221.71 L259.15,219.32 L259.50,216.45 L259.85,213.10 L260.20,209.31 L260.55,205.21 L260.90,200.97 L261.25,196.80 L261.60,192.98 L261.95,189.79 L262.30,187.49 L262.65,186.32 L263.00,186.43 L263.35,187.94 L263.70,190.74 L264.05,194.65 L264.40,199.41 L264.75,204.74 L265.10,210.33 L265.45,215.91 L265.80,221.25 L266.15,226.15 L266.50,230.51 L266.85,234.26 L267.20,237.39 L267.55,239.93 L267.90,241.95 L268.25,243.51 L268.60,244.70 L268.95,245.59 L269.30,246.25 L269.65,246.74 L270.00,247.11 L270.35,247.39 L270.70,247.60 L271.05,247.77 L271.40,247.88 L271.75,247.91 L272.10,247.93 L272.45,247.96 L272.80,247.98 L273.15,248.01 L273.50,248.03 L273.85,248.05 L274.20,248.07 L274.55,248.09 L274.90,248.11 L275.25,248.13 L275.60,248.15 L275.95,247.94 L276.30,247.69 L276.65,247.38 L277.00,247.02 L277.35,246.59 L277.70,246.08 L278.05,245.48 L278.40,244.76 L278.75,243.84 L279.10,242.61 L279.45,240.94 L279.80,238.64 L280.15,235.60 L280.50,231.83 L280.85,227.52 L281.20,223.16 L281.55,219.40 L281.90,216.92 L282.25,216.22 L282.60,217.46 L282.95,220.37 L283.30,224.38 L283.65,228.78 L284.00,232.97 L284.35,236.55 L284.70,239.37 L285.05,241.47 L285.40,243.00 L285.75,244.13 L286.10,244.98 L286.45,245.67 L286.80,246.24 L287.15,246.72 L287.50,247.13 L287.85,247.48 L288.20,247.77 L288.55,248.00 L288.90,248.20 L289.25,248.35 L289.60,248.47 L289.95,248.56 L290.30,248.61 L290.65,248.62 L291.00,248.62 L291.35,248.63 L291.70,248.63 L292.05,248.64 L292.40,248.64 L292.75,248.65 L293.10,248.65 L293.45,248.65 L293.80,248.66 L294.15,248.66 L294.50,248.67 L294.85,248.67 L295.20,248.67 L295.55,248.68 L295.90,248.68 L296.25,248.68 L296.60,248.69 L296.95,248.69 L297.30,248.69 L297.65,248.70 L298.00,248.70 L298.35,248.70 L298.70,248.71 L299.05,248.71 L299.40,248.71 L299.75,248.71 L300.10,248.72 L300.45,248.72 L300.80,248.72 L301.15,248.72 L301.50,248.73 L301.85,248.73 L302.20,248.73 L302.55,248.73 L302.90,248.73 L303.25,248.74 L303.60,248.74 L303.95,248.74 L304.30,248.74 L304.65,248.74 L305.00,248.74 L305.35,248.75 L305.70,248.75 L306.05,248.75 L306.40,248.75 L306.75,248.75 L307.10,248.75 L307.45,248.75 L307.80,248.76 L308.15,248.76 L308.50,248.76 L308.85,248.76 L309.20,248.76 L309.55,248.76 L309.90,248.76 L310.25,248.76 L310.60,248.77 L310.95,248.77 L311.30,248.77 L311.65,248.77 L312.00,248.77 L312.35,248.77 L312.70,248.77" fill="none" stroke="#111" stroke-width="1.25" stroke-linejoin="round"/>
<line x1="256.80" y1="182.00" x2="313.30" y2="182.00" stroke="#8f8f8f" stroke-width="1"/>
<line x1="313.30" y1="182.00" x2="313.30" y2="249.40" stroke="#8f8f8f" stroke-width="1"/>
<line x1="256.80" y1="181.50" x2="256.80" y2="249.40" stroke="#333" stroke-width="1.1"/>
<line x1="256.80" y1="249.40" x2="313.80" y2="249.40" stroke="#1a1a1a" stroke-width="1.2"/>
<line x1="255.20" y1="248.40" x2="256.80" y2="248.40" stroke="#777" stroke-width="0.8"/>
<line x1="255.20" y1="235.52" x2="256.80" y2="235.52" stroke="#777" stroke-width="0.8"/>
<line x1="255.20" y1="222.64" x2="256.80" y2="222.64" stroke="#777" stroke-width="0.8"/>
<line x1="255.20" y1="209.76" x2="256.80" y2="209.76" stroke="#777" stroke-width="0.8"/>
<line x1="255.20" y1="196.88" x2="256.80" y2="196.88" stroke="#777" stroke-width="0.8"/>
<line x1="255.20" y1="184.00" x2="256.80" y2="184.00" stroke="#777" stroke-width="0.8"/>
<line x1="257.80" y1="251.00" x2="313.30" y2="251.00" stroke="#aaa" stroke-width="1.1" stroke-dasharray="0.8 1.0"/>
<line x1="273.00" y1="197.50" x2="295.50" y2="197.50" stroke="#222" stroke-width="1.3"/>
<line x1="273.00" y1="195.90" x2="273.00" y2="199.10" stroke="#222" stroke-width="1"/>
<line x1="295.50" y1="195.90" x2="295.50" y2="199.10" stroke="#222" stroke-width="1"/>
<text x="289.00" y="191.30" font-size="7.6" text-anchor="middle" font-weight="bold" fill="#111" style="stroke-width:0.15px;">27.1</text>
<path d="M315.90,248.80 L315.90,232.96 L316.25,231.16 L316.60,228.81 L316.95,225.78 L317.30,221.99 L317.65,217.45 L318.00,212.24 L318.35,206.63 L318.70,200.98 L319.05,195.76 L319.40,191.50 L319.75,188.69 L320.10,187.70 L320.45,188.79 L320.80,191.94 L321.15,196.80 L321.50,202.90 L321.85,209.65 L322.20,216.51 L322.55,223.01 L322.90,228.79 L323.25,233.69 L323.60,237.63 L323.95,240.67 L324.30,242.92 L324.65,244.54 L325.00,245.68 L325.35,246.46 L325.70,246.99 L326.05,247.37 L326.40,247.64 L326.75,247.84 L327.10,248.00 L327.45,248.13 L327.80,248.24 L328.15,248.33 L328.50,248.41 L328.85,248.48 L329.20,248.54 L329.55,248.59 L329.90,248.63 L330.25,248.66 L330.60,248.69 L330.95,248.71 L331.30,248.73 L331.65,248.75 L332.00,248.76 L332.35,248.77 L332.70,248.78 L333.05,248.78 L333.40,248.79 L333.75,248.79 L334.10,248.79 L334.45,248.79 L334.80,248.80 L335.15,248.80 L335.50,248.80 L335.85,248.80 L336.20,248.80 L336.55,248.80 L336.90,248.80 L337.25,248.80 L337.60,248.80 L337.95,248.80 L338.30,248.80 L338.65,248.80 L339.00,248.80 L339.35,248.80 L339.70,248.80 L340.05,248.80 L340.40,248.80 L340.75,248.80 L341.10,248.80 L341.45,248.80 L341.80,248.80 L342.15,248.80 L342.50,248.80 L342.85,248.80 L343.20,248.80 L343.55,248.80 L343.90,248.80 L344.25,248.80 L344.60,248.80 L344.95,248.80 L345.30,248.80 L345.65,248.80 L346.00,248.80 L346.35,248.80 L346.70,248.80 L347.05,248.80 L347.40,248.80 L347.75,248.80 L348.10,248.80 L348.45,248.80 L348.80,248.80 L349.15,248.80 L349.50,248.80 L349.85,248.80 L350.20,248.80 L350.55,248.80 L350.90,248.80 L351.25,248.80 L351.60,248.80 L351.95,248.80 L352.30,248.80 L352.65,248.80 L353.00,248.80 L353.35,248.80 L353.70,248.80 L354.05,248.80 L354.40,248.80 L354.75,248.80 L355.10,248.80 L355.45,248.80 L355.80,248.80 L356.15,248.80 L356.50,248.80 L356.85,248.80 L357.20,248.80 L357.55,248.80 L357.90,248.80 L358.25,248.80 L358.60,248.80 L358.95,248.80 L359.30,248.80 L359.65,248.80 L360.00,248.80 L360.35,248.80 L360.70,248.80 L361.05,248.80 L361.40,248.80 L361.75,248.80 L362.10,248.80 L362.45,248.80 L362.80,248.80 L363.15,248.80 L363.50,248.80 L363.85,248.80 L364.20,248.80 L364.55,248.80 L364.90,248.80 L365.25,248.80 L365.60,248.80 L365.95,248.80 L366.30,248.80 L366.65,248.80 L367.00,248.80 L367.35,248.80 L367.70,248.80 L368.05,248.80 L368.40,248.80 L368.75,248.80 L369.10,248.80 L369.45,248.80 L369.80,248.80 L370.00,248.80 Z" fill="#d8d8d8" stroke="#2a2a2a" stroke-width="0.8" stroke-linejoin="round"/>
<path d="M315.90,221.90 L316.25,219.98 L316.60,217.71 L316.95,215.01 L317.30,211.81 L317.65,208.11 L318.00,203.99 L318.35,199.64 L318.70,195.36 L319.05,191.49 L319.40,188.45 L319.75,186.61 L320.10,186.27 L320.45,187.69 L320.80,190.78 L321.15,195.28 L321.50,200.83 L321.85,206.98 L322.20,213.33 L322.55,219.50 L322.90,225.19 L323.25,230.20 L323.60,234.45 L323.95,237.90 L324.30,240.62 L324.65,242.70 L325.00,244.24 L325.35,245.36 L325.70,246.16 L326.05,246.73 L326.40,247.14 L326.75,247.44 L327.10,247.67 L327.45,247.79 L327.80,247.82 L328.15,247.85 L328.50,247.88 L328.85,247.90 L329.20,247.93 L329.55,247.95 L329.90,247.98 L330.25,248.00 L330.60,248.02 L330.95,248.05 L331.30,248.07 L331.65,248.09 L332.00,248.11 L332.35,248.13 L332.70,248.15 L333.05,247.96 L333.40,247.74 L333.75,247.48 L334.10,247.17 L334.45,246.81 L334.80,246.39 L335.15,245.89 L335.50,245.26 L335.85,244.45 L336.20,243.36 L336.55,241.88 L336.90,239.90 L337.25,237.39 L337.60,234.41 L337.95,231.19 L338.30,228.11 L338.65,225.65 L339.00,224.23 L339.35,224.13 L339.70,225.37 L340.05,227.71 L340.40,230.73 L340.75,233.96 L341.10,236.99 L341.45,239.58 L341.80,241.63 L342.15,243.17 L342.50,244.31 L342.85,245.16 L343.20,245.81 L343.55,246.32 L343.90,246.76 L344.25,247.12 L344.60,247.44 L344.95,247.71 L345.30,247.93 L345.65,248.12 L346.00,248.28 L346.35,248.40 L346.70,248.50 L347.05,248.58 L347.40,248.61 L347.75,248.61 L348.10,248.62 L348.45,248.62 L348.80,248.63 L349.15,248.63 L349.50,248.64 L349.85,248.64 L350.20,248.65 L350.55,248.65 L350.90,248.66 L351.25,248.66 L351.60,248.67 L351.95,248.67 L352.30,248.67 L352.65,248.68 L353.00,248.68 L353.35,248.68 L353.70,248.69 L354.05,248.69 L354.40,248.69 L354.75,248.70 L355.10,248.70 L355.45,248.70 L355.80,248.70 L356.15,248.71 L356.50,248.71 L356.85,248.71 L357.20,248.72 L357.55,248.72 L357.90,248.72 L358.25,248.72 L358.60,248.72 L358.95,248.73 L359.30,248.73 L359.65,248.73 L360.00,248.73 L360.35,248.73 L360.70,248.74 L361.05,248.74 L361.40,248.74 L361.75,248.74 L362.10,248.74 L362.45,248.75 L362.80,248.75 L363.15,248.75 L363.50,248.75 L363.85,248.75 L364.20,248.75 L364.55,248.75 L364.90,248.76 L365.25,248.76 L365.60,248.76 L365.95,248.76 L366.30,248.76 L366.65,248.76 L367.00,248.76 L367.35,248.76 L367.70,248.76 L368.05,248.77 L368.40,248.77 L368.75,248.77 L369.10,248.77 L369.45,248.77 L369.80,248.77" fill="none" stroke="#111" stroke-width="1.0" stroke-linejoin="round"/>
<line x1="315.30" y1="182.00" x2="370.50" y2="182.00" stroke="#8f8f8f" stroke-width="1"/>
<line x1="370.50" y1="182.00" x2="370.50" y2="249.40" stroke="#8f8f8f" stroke-width="1"/>
<line x1="315.30" y1="181.50" x2="315.30" y2="249.40" stroke="#333" stroke-width="1.1"/>
<line x1="315.30" y1="249.40" x2="371.00" y2="249.40" stroke="#1a1a1a" stroke-width="1.2"/>
<line x1="313.70" y1="248.40" x2="315.30" y2="248.40" stroke="#777" stroke-width="0.8"/>
<line x1="313.70" y1="235.52" x2="315.30" y2="235.52" stroke="#777" stroke-width="0.8"/>
<line x1="313.70" y1="222.64" x2="315.30" y2="222.64" stroke="#777" stroke-width="0.8"/>
<line x1="313.70" y1="209.76" x2="315.30" y2="209.76" stroke="#777" stroke-width="0.8"/>
<line x1="313.70" y1="196.88" x2="315.30" y2="196.88" stroke="#777" stroke-width="0.8"/>
<line x1="313.70" y1="184.00" x2="315.30" y2="184.00" stroke="#777" stroke-width="0.8"/>
<line x1="316.30" y1="251.00" x2="370.50" y2="251.00" stroke="#aaa" stroke-width="1.1" stroke-dasharray="0.8 1.0"/>
<line x1="329.20" y1="198.60" x2="356.50" y2="198.60" stroke="#222" stroke-width="1.3"/>
<line x1="329.20" y1="197.00" x2="329.20" y2="200.20" stroke="#222" stroke-width="1"/>
<line x1="356.50" y1="197.00" x2="356.50" y2="200.20" stroke="#222" stroke-width="1"/>
<text x="344.40" y="191.20" font-size="7.6" text-anchor="middle" font-weight="bold" fill="#111" style="stroke-width:0.15px;">21.4</text>
<path d="M29.10,319.80 L29.10,298.18 L29.45,294.03 L29.80,289.05 L30.15,283.29 L30.50,277.02 L30.85,270.75 L31.20,265.15 L31.55,261.01 L31.90,259.01 L32.25,259.71 L32.60,263.43 L32.95,269.61 L33.30,277.34 L33.65,285.63 L34.00,293.58 L34.35,300.54 L34.70,306.17 L35.05,310.43 L35.40,313.47 L35.75,315.52 L36.10,316.85 L36.45,317.70 L36.80,318.24 L37.15,318.60 L37.50,318.85 L37.85,319.04 L38.20,319.18 L38.55,319.30 L38.90,319.40 L39.25,319.49 L39.60,319.55 L39.95,319.61 L40.30,319.65 L40.65,319.69 L41.00,319.72 L41.35,319.74 L41.70,319.75 L42.05,319.77 L42.40,319.78 L42.75,319.78 L43.10,319.79 L43.45,319.79 L43.80,319.79 L44.15,319.80 L44.50,319.80 L44.85,319.80 L45.20,319.80 L45.55,319.80 L45.90,319.80 L46.25,319.80 L46.60,319.80 L46.95,319.80 L47.30,319.80 L47.65,319.80 L48.00,319.80 L48.35,319.80 L48.70,319.80 L49.05,319.80 L49.40,319.80 L49.75,319.80 L50.10,319.80 L50.45,319.80 L50.80,319.80 L51.15,319.80 L51.50,319.80 L51.85,319.80 L52.20,319.80 L52.55,319.80 L52.90,319.80 L53.25,319.80 L53.60,319.80 L53.95,319.80 L54.30,319.80 L54.65,319.80 L55.00,319.80 L55.35,319.80 L55.70,319.80 L56.05,319.80 L56.40,319.80 L56.75,319.80 L57.10,319.80 L57.45,319.80 L57.80,319.80 L58.15,319.80 L58.50,319.80 L58.85,319.80 L59.20,319.80 L59.55,319.80 L59.90,319.80 L60.25,319.80 L60.60,319.80 L60.95,319.80 L61.30,319.80 L61.65,319.80 L62.00,319.80 L62.35,319.80 L62.70,319.80 L63.05,319.80 L63.40,319.80 L63.75,319.80 L64.10,319.80 L64.45,319.80 L64.80,319.80 L65.15,319.80 L65.50,319.80 L65.85,319.80 L66.20,319.80 L66.55,319.80 L66.90,319.80 L67.25,319.80 L67.60,319.80 L67.95,319.80 L68.30,319.80 L68.65,319.80 L69.00,319.80 L69.35,319.80 L69.70,319.80 L70.05,319.80 L70.40,319.80 L70.75,319.80 L71.10,319.80 L71.45,319.80 L71.80,319.80 L72.15,319.80 L72.50,319.80 L72.85,319.80 L73.20,319.80 L73.55,319.80 L73.90,319.80 L74.25,319.80 L74.60,319.80 L74.95,319.80 L75.30,319.80 L75.65,319.80 L76.00,319.80 L76.35,319.80 L76.70,319.80 L77.05,319.80 L77.40,319.80 L77.75,319.80 L78.10,319.80 L78.45,319.80 L78.80,319.80 L79.15,319.80 L79.50,319.80 L79.85,319.80 L80.20,319.80 L80.55,319.80 L80.90,319.80 L81.25,319.80 L81.60,319.80 L81.95,319.80 L82.30,319.80 L82.65,319.80 L82.90,319.80 Z" fill="#d8d8d8" stroke="#2a2a2a" stroke-width="0.8" stroke-linejoin="round"/>
<path d="M29.10,289.11 L29.45,285.03 L29.80,280.52 L30.15,275.61 L30.50,270.51 L30.85,265.59 L31.20,261.37 L31.55,258.46 L31.90,257.40 L32.25,258.72 L32.60,262.50 L32.95,268.27 L33.30,275.35 L33.65,282.97 L34.00,290.46 L34.35,297.26 L34.70,303.04 L35.05,307.68 L35.40,311.21 L35.75,313.77 L36.10,315.55 L36.45,316.76 L36.80,317.56 L37.15,318.10 L37.50,318.47 L37.85,318.66 L38.20,318.69 L38.55,318.72 L38.90,318.76 L39.25,318.79 L39.60,318.81 L39.95,318.84 L40.30,318.87 L40.65,318.90 L41.00,318.92 L41.35,318.95 L41.70,318.97 L42.05,319.00 L42.40,319.02 L42.75,319.04 L43.10,319.06 L43.45,319.09 L43.80,319.11 L44.15,319.13 L44.50,319.14 L44.85,318.95 L45.20,318.72 L45.55,318.46 L45.90,318.14 L46.25,317.78 L46.60,317.35 L46.95,316.84 L47.30,316.20 L47.65,315.38 L48.00,314.27 L48.35,312.76 L48.70,310.76 L49.05,308.21 L49.40,305.18 L49.75,301.91 L50.10,298.78 L50.45,296.27 L50.80,294.83 L51.15,294.73 L51.50,295.99 L51.85,298.37 L52.20,301.44 L52.55,304.72 L52.90,307.80 L53.25,310.43 L53.60,312.51 L53.95,314.08 L54.30,315.24 L54.65,316.10 L55.00,316.76 L55.35,317.28 L55.70,317.72 L56.05,318.10 L56.40,318.42 L56.75,318.69 L57.10,318.92 L57.45,319.11 L57.80,319.27 L58.15,319.40 L58.50,319.50 L58.85,319.58 L59.20,319.61 L59.55,319.61 L59.90,319.62 L60.25,319.62 L60.60,319.63 L60.95,319.63 L61.30,319.64 L61.65,319.64 L62.00,319.65 L62.35,319.65 L62.70,319.66 L63.05,319.66 L63.40,319.66 L63.75,319.67 L64.10,319.67 L64.45,319.68 L64.80,319.68 L65.15,319.68 L65.50,319.69 L65.85,319.69 L66.20,319.69 L66.55,319.70 L66.90,319.70 L67.25,319.70 L67.60,319.70 L67.95,319.71 L68.30,319.71 L68.65,319.71 L69.00,319.71 L69.35,319.72 L69.70,319.72 L70.05,319.72 L70.40,319.72 L70.75,319.73 L71.10,319.73 L71.45,319.73 L71.80,319.73 L72.15,319.73 L72.50,319.74 L72.85,319.74 L73.20,319.74 L73.55,319.74 L73.90,319.74 L74.25,319.75 L74.60,319.75 L74.95,319.75 L75.30,319.75 L75.65,319.75 L76.00,319.75 L76.35,319.75 L76.70,319.76 L77.05,319.76 L77.40,319.76 L77.75,319.76 L78.10,319.76 L78.45,319.76 L78.80,319.76 L79.15,319.76 L79.50,319.76 L79.85,319.77 L80.20,319.77 L80.55,319.77 L80.90,319.77 L81.25,319.77 L81.60,319.77 L81.95,319.77 L82.30,319.77 L82.65,319.77" fill="none" stroke="#111" stroke-width="1.0" stroke-linejoin="round"/>
<line x1="28.50" y1="253.50" x2="83.40" y2="253.50" stroke="#8f8f8f" stroke-width="1"/>
<line x1="83.40" y1="253.50" x2="83.40" y2="320.40" stroke="#8f8f8f" stroke-width="1"/>
<line x1="28.50" y1="253.00" x2="28.50" y2="320.40" stroke="#333" stroke-width="1.1"/>
<line x1="28.50" y1="320.40" x2="83.90" y2="320.40" stroke="#1a1a1a" stroke-width="1.2"/>
<line x1="26.90" y1="319.40" x2="28.50" y2="319.40" stroke="#777" stroke-width="0.8"/>
<line x1="26.90" y1="306.62" x2="28.50" y2="306.62" stroke="#777" stroke-width="0.8"/>
<line x1="26.90" y1="293.84" x2="28.50" y2="293.84" stroke="#777" stroke-width="0.8"/>
<line x1="26.90" y1="281.06" x2="28.50" y2="281.06" stroke="#777" stroke-width="0.8"/>
<line x1="26.90" y1="268.28" x2="28.50" y2="268.28" stroke="#777" stroke-width="0.8"/>
<line x1="26.90" y1="255.50" x2="28.50" y2="255.50" stroke="#777" stroke-width="0.8"/>
<line x1="29.50" y1="322.00" x2="83.40" y2="322.00" stroke="#aaa" stroke-width="1.1" stroke-dasharray="0.8 1.0"/>
<line x1="41.20" y1="266.90" x2="65.70" y2="266.90" stroke="#222" stroke-width="1.3"/>
<line x1="41.20" y1="265.30" x2="41.20" y2="268.50" stroke="#222" stroke-width="1"/>
<line x1="65.70" y1="265.30" x2="65.70" y2="268.50" stroke="#222" stroke-width="1"/>
<text x="55.40" y="263.60" font-size="7.6" text-anchor="middle" font-weight="bold" fill="#111" style="stroke-width:0.15px;">24.4</text>
<path d="M86.10,319.80 L86.10,303.87 L86.45,303.81 L86.80,303.77 L87.15,303.65 L87.50,303.35 L87.85,302.71 L88.20,301.53 L88.55,299.58 L88.90,296.68 L89.25,292.67 L89.60,287.58 L89.95,281.62 L90.30,275.20 L90.65,268.98 L91.00,263.72 L91.35,260.17 L91.70,258.90 L92.05,260.48 L92.40,264.98 L92.75,271.70 L93.10,279.70 L93.45,287.97 L93.80,295.69 L94.15,302.29 L94.50,307.53 L94.85,311.42 L95.20,314.14 L95.55,315.96 L95.90,317.13 L96.25,317.88 L96.60,318.36 L96.95,318.68 L97.30,318.91 L97.65,319.08 L98.00,319.22 L98.35,319.33 L98.70,319.43 L99.05,319.51 L99.40,319.57 L99.75,319.62 L100.10,319.66 L100.45,319.70 L100.80,319.72 L101.15,319.74 L101.50,319.76 L101.85,319.77 L102.20,319.78 L102.55,319.78 L102.90,319.79 L103.25,319.79 L103.60,319.80 L103.95,319.80 L104.30,319.80 L104.65,319.80 L105.00,319.80 L105.35,319.80 L105.70,319.80 L106.05,319.80 L106.40,319.80 L106.75,319.80 L107.10,319.80 L107.45,319.80 L107.80,319.80 L108.15,319.80 L108.50,319.80 L108.85,319.80 L109.20,319.80 L109.55,319.80 L109.90,319.80 L110.25,319.80 L110.60,319.80 L110.95,319.80 L111.30,319.80 L111.65,319.80 L112.00,319.80 L112.35,319.80 L112.70,319.80 L113.05,319.80 L113.40,319.80 L113.75,319.80 L114.10,319.80 L114.45,319.80 L114.80,319.80 L115.15,319.80 L115.50,319.80 L115.85,319.80 L116.20,319.80 L116.55,319.80 L116.90,319.80 L117.25,319.80 L117.60,319.80 L117.95,319.80 L118.30,319.80 L118.65,319.80 L119.00,319.80 L119.35,319.80 L119.70,319.80 L120.05,319.80 L120.40,319.80 L120.75,319.80 L121.10,319.80 L121.45,319.80 L121.80,319.80 L122.15,319.80 L122.50,319.80 L122.85,319.80 L123.20,319.80 L123.55,319.80 L123.90,319.80 L124.25,319.80 L124.60,319.80 L124.95,319.80 L125.30,319.80 L125.65,319.80 L126.00,319.80 L126.35,319.80 L126.70,319.80 L127.05,319.80 L127.40,319.80 L127.75,319.80 L128.10,319.80 L128.45,319.80 L128.80,319.80 L129.15,319.80 L129.50,319.80 L129.85,319.80 L130.20,319.80 L130.55,319.80 L130.90,319.80 L131.25,319.80 L131.60,319.80 L131.95,319.80 L132.30,319.80 L132.65,319.80 L133.00,319.80 L133.35,319.80 L133.70,319.80 L134.05,319.80 L134.40,319.80 L134.75,319.80 L135.10,319.80 L135.45,319.80 L135.80,319.80 L136.15,319.80 L136.50,319.80 L136.85,319.80 L137.20,319.80 L137.55,319.80 L137.90,319.80 L138.25,319.80 L138.60,319.80 L138.95,319.80 L139.30,319.80 L139.65,319.80 L140.00,319.80 L140.35,319.80 L140.40,319.80 Z" fill="#d8d8d8" stroke="#2a2a2a" stroke-width="0.8" stroke-linejoin="round"/>
<path d="M86.10,279.71 L86.45,279.72 L86.80,279.92 L87.15,280.24 L87.50,280.56 L87.85,280.76 L88.20,280.67 L88.55,280.10 L88.90,278.88 L89.25,276.88 L89.60,274.10 L89.95,270.64 L90.30,266.80 L90.65,263.03 L91.00,259.86 L91.35,257.86 L91.70,257.51 L92.05,259.56 L92.40,263.97 L92.75,270.19 L93.10,277.50 L93.45,285.15 L93.80,292.49 L94.15,299.03 L94.50,304.49 L94.85,308.80 L95.20,312.03 L95.55,314.35 L95.90,315.95 L96.25,317.02 L96.60,317.74 L96.95,318.22 L97.30,318.55 L97.65,318.67 L98.00,318.70 L98.35,318.73 L98.70,318.76 L99.05,318.79 L99.40,318.82 L99.75,318.85 L100.10,318.88 L100.45,318.90 L100.80,318.93 L101.15,318.96 L101.50,318.98 L101.85,319.00 L102.20,319.03 L102.55,319.05 L102.90,319.07 L103.25,319.09 L103.60,319.11 L103.95,319.13 L104.30,319.15 L104.65,319.17 L105.00,319.19 L105.35,319.20 L105.70,319.22 L106.05,319.24 L106.40,319.25 L106.75,319.27 L107.10,319.29 L107.45,319.30 L107.80,319.31 L108.15,319.33 L108.50,319.34 L108.85,319.36 L109.20,319.37 L109.55,319.38 L109.90,319.39 L110.25,319.40 L110.60,319.42 L110.95,319.43 L111.30,319.44 L111.65,319.45 L112.00,319.46 L112.35,319.47 L112.70,319.48 L113.05,319.49 L113.40,319.50 L113.75,319.50 L114.10,319.51 L114.45,319.52 L114.80,319.53 L115.15,319.54 L115.50,319.54 L115.85,319.55 L116.20,319.56 L116.55,319.57 L116.90,319.57 L117.25,319.58 L117.60,319.59 L117.95,319.59 L118.30,319.60 L118.65,319.60 L119.00,319.61 L119.35,319.61 L119.70,319.62 L120.05,319.63 L120.40,319.63 L120.75,319.64 L121.10,319.64 L121.45,319.64 L121.80,319.65 L122.15,319.65 L122.50,319.66 L122.85,319.66 L123.20,319.67 L123.55,319.67 L123.90,319.67 L124.25,319.68 L124.60,319.68 L124.95,319.68 L125.30,319.69 L125.65,319.69 L126.00,319.69 L126.35,319.70 L126.70,319.70 L127.05,319.70 L127.40,319.71 L127.75,319.71 L128.10,319.71 L128.45,319.71 L128.80,319.72 L129.15,319.72 L129.50,319.72 L129.85,319.72 L130.20,319.72 L130.55,319.73 L130.90,319.73 L131.25,319.73 L131.60,319.73 L131.95,319.74 L132.30,319.74 L132.65,319.74 L133.00,319.74 L133.35,319.74 L133.70,319.74 L134.05,319.75 L134.40,319.75 L134.75,319.75 L135.10,319.75 L135.45,319.75 L135.80,319.75 L136.15,319.75 L136.50,319.76 L136.85,319.76 L137.20,319.76 L137.55,319.76 L137.90,319.76 L138.25,319.76 L138.60,319.76 L138.95,319.76 L139.30,319.76 L139.65,319.77 L140.00,319.77 L140.35,319.77" fill="none" stroke="#111" stroke-width="1.0" stroke-linejoin="round"/>
<line x1="85.50" y1="253.50" x2="140.90" y2="253.50" stroke="#8f8f8f" stroke-width="1"/>
<line x1="140.90" y1="253.50" x2="140.90" y2="320.40" stroke="#8f8f8f" stroke-width="1"/>
<line x1="85.50" y1="253.00" x2="85.50" y2="320.40" stroke="#333" stroke-width="1.1"/>
<line x1="85.50" y1="320.40" x2="141.40" y2="320.40" stroke="#1a1a1a" stroke-width="1.2"/>
<line x1="83.90" y1="319.40" x2="85.50" y2="319.40" stroke="#777" stroke-width="0.8"/>
<line x1="83.90" y1="306.62" x2="85.50" y2="306.62" stroke="#777" stroke-width="0.8"/>
<line x1="83.90" y1="293.84" x2="85.50" y2="293.84" stroke="#777" stroke-width="0.8"/>
<line x1="83.90" y1="281.06" x2="85.50" y2="281.06" stroke="#777" stroke-width="0.8"/>
<line x1="83.90" y1="268.28" x2="85.50" y2="268.28" stroke="#777" stroke-width="0.8"/>
<line x1="83.90" y1="255.50" x2="85.50" y2="255.50" stroke="#777" stroke-width="0.8"/>
<line x1="86.50" y1="322.00" x2="140.90" y2="322.00" stroke="#aaa" stroke-width="1.1" stroke-dasharray="0.8 1.0"/>
<line x1="103.00" y1="268.80" x2="127.60" y2="268.80" stroke="#222" stroke-width="1.3"/>
<line x1="103.00" y1="267.20" x2="103.00" y2="270.40" stroke="#222" stroke-width="1"/>
<line x1="127.60" y1="267.20" x2="127.60" y2="270.40" stroke="#222" stroke-width="1"/>
<text x="117.60" y="266.90" font-size="7.6" text-anchor="middle" font-weight="bold" fill="#111" style="stroke-width:0.15px;">0.16</text>
<path d="M143.60,319.80 L143.60,299.65 L143.95,298.32 L144.30,296.43 L144.65,293.68 L145.00,289.83 L145.35,284.78 L145.70,278.73 L146.05,272.21 L146.40,266.08 L146.75,261.36 L147.10,259.03 L147.45,259.81 L147.80,263.93 L148.15,270.70 L148.50,279.04 L148.85,287.78 L149.20,295.92 L149.55,302.80 L149.90,308.16 L150.25,312.04 L150.60,314.68 L150.95,316.38 L151.30,317.44 L151.65,318.10 L152.00,318.52 L152.35,318.81 L152.70,319.01 L153.05,319.17 L153.40,319.30 L153.75,319.41 L154.10,319.49 L154.45,319.56 L154.80,319.62 L155.15,319.66 L155.50,319.70 L155.85,319.73 L156.20,319.75 L156.55,319.76 L156.90,319.77 L157.25,319.78 L157.60,319.79 L157.95,319.79 L158.30,319.79 L158.65,319.80 L159.00,319.80 L159.35,319.80 L159.70,319.80 L160.05,319.80 L160.40,319.80 L160.75,319.80 L161.10,319.80 L161.45,319.80 L161.80,319.80 L162.15,319.80 L162.50,319.80 L162.85,319.80 L163.20,319.80 L163.55,319.80 L163.90,319.80 L164.25,319.80 L164.60,319.80 L164.95,319.80 L165.30,319.80 L165.65,319.80 L166.00,319.80 L166.35,319.80 L166.70,319.80 L167.05,319.80 L167.40,319.80 L167.75,319.80 L168.10,319.80 L168.45,319.80 L168.80,319.80 L169.15,319.80 L169.50,319.80 L169.85,319.80 L170.20,319.80 L170.55,319.80 L170.90,319.80 L171.25,319.80 L171.60,319.80 L171.95,319.80 L172.30,319.80 L172.65,319.80 L173.00,319.80 L173.35,319.80 L173.70,319.80 L174.05,319.80 L174.40,319.80 L174.75,319.80 L175.10,319.80 L175.45,319.80 L175.80,319.80 L176.15,319.80 L176.50,319.80 L176.85,319.80 L177.20,319.80 L177.55,319.80 L177.90,319.80 L178.25,319.80 L178.60,319.80 L178.95,319.80 L179.30,319.80 L179.65,319.80 L180.00,319.80 L180.35,319.80 L180.70,319.80 L181.05,319.80 L181.40,319.80 L181.75,319.80 L182.10,319.80 L182.45,319.80 L182.80,319.80 L183.15,319.80 L183.50,319.80 L183.85,319.80 L184.20,319.80 L184.55,319.80 L184.90,319.80 L185.25,319.80 L185.60,319.80 L185.95,319.80 L186.30,319.80 L186.65,319.80 L187.00,319.80 L187.35,319.80 L187.70,319.80 L188.05,319.80 L188.40,319.80 L188.75,319.80 L189.10,319.80 L189.45,319.80 L189.80,319.80 L190.15,319.80 L190.50,319.80 L190.85,319.80 L191.20,319.80 L191.55,319.80 L191.90,319.80 L192.25,319.80 L192.60,319.80 L192.95,319.80 L193.30,319.80 L193.65,319.80 L194.00,319.80 L194.35,319.80 L194.70,319.80 L195.05,319.80 L195.40,319.80 L195.75,319.80 L196.10,319.80 L196.45,319.80 L196.80,319.80 L197.15,319.80 L197.50,319.80 L197.85,319.80 L197.90,319.80 Z" fill="#d8d8d8" stroke="#2a2a2a" stroke-width="0.8" stroke-linejoin="round"/>
<path d="M143.60,283.17 L143.95,282.03 L144.30,280.76 L144.65,279.08 L145.00,276.75 L145.35,273.62 L145.70,269.75 L146.05,265.49 L146.40,261.49 L146.75,258.53 L147.10,257.40 L147.45,258.87 L147.80,263.05 L148.15,269.38 L148.50,277.02 L148.85,285.09 L149.20,292.82 L149.55,299.64 L149.90,305.25 L150.25,309.58 L150.60,312.74 L150.95,314.94 L151.30,316.41 L151.65,317.37 L152.00,318.00 L152.35,318.41 L152.70,318.63 L153.05,318.66 L153.40,318.69 L153.75,318.72 L154.10,318.76 L154.45,318.79 L154.80,318.81 L155.15,318.84 L155.50,318.87 L155.85,318.90 L156.20,318.92 L156.55,318.95 L156.90,318.97 L157.25,319.00 L157.60,319.02 L157.95,319.04 L158.30,319.06 L158.65,319.09 L159.00,319.11 L159.35,319.13 L159.70,319.14 L160.05,319.16 L160.40,319.18 L160.75,319.20 L161.10,319.22 L161.45,319.23 L161.80,319.25 L162.15,319.27 L162.50,319.28 L162.85,319.30 L163.20,319.31 L163.55,319.32 L163.90,319.34 L164.25,319.35 L164.60,319.36 L164.95,319.38 L165.30,319.39 L165.65,319.40 L166.00,319.41 L166.35,319.42 L166.70,319.43 L167.05,319.44 L167.40,319.46 L167.75,319.47 L168.10,319.47 L168.45,319.48 L168.80,319.49 L169.15,319.50 L169.50,319.51 L169.85,319.52 L170.20,319.53 L170.55,319.53 L170.90,319.54 L171.25,319.55 L171.60,319.56 L171.95,319.56 L172.30,319.57 L172.65,319.58 L173.00,319.58 L173.35,319.59 L173.70,319.60 L174.05,319.60 L174.40,319.61 L174.75,319.61 L175.10,319.62 L175.45,319.62 L175.80,319.63 L176.15,319.63 L176.50,319.64 L176.85,319.64 L177.20,319.65 L177.55,319.65 L177.90,319.66 L178.25,319.66 L178.60,319.66 L178.95,319.67 L179.30,319.67 L179.65,319.68 L180.00,319.68 L180.35,319.68 L180.70,319.69 L181.05,319.69 L181.40,319.69 L181.75,319.70 L182.10,319.70 L182.45,319.70 L182.80,319.70 L183.15,319.71 L183.50,319.71 L183.85,319.71 L184.20,319.71 L184.55,319.72 L184.90,319.72 L185.25,319.72 L185.60,319.72 L185.95,319.73 L186.30,319.73 L186.65,319.73 L187.00,319.73 L187.35,319.73 L187.70,319.74 L188.05,319.74 L188.40,319.74 L188.75,319.74 L189.10,319.74 L189.45,319.75 L189.80,319.75 L190.15,319.75 L190.50,319.75 L190.85,319.75 L191.20,319.75 L191.55,319.75 L191.90,319.76 L192.25,319.76 L192.60,319.76 L192.95,319.76 L193.30,319.76 L193.65,319.76 L194.00,319.76 L194.35,319.76 L194.70,319.76 L195.05,319.77 L195.40,319.77 L195.75,319.77 L196.10,319.77 L196.45,319.77 L196.80,319.77 L197.15,319.77 L197.50,319.77 L197.85,319.77" fill="none" stroke="#111" stroke-width="1.0" stroke-linejoin="round"/>
<line x1="143.00" y1="253.50" x2="198.40" y2="253.50" stroke="#8f8f8f" stroke-width="1"/>
<line x1="198.40" y1="253.50" x2="198.40" y2="320.40" stroke="#8f8f8f" stroke-width="1"/>
<line x1="143.00" y1="253.00" x2="143.00" y2="320.40" stroke="#333" stroke-width="1.1"/>
<line x1="143.00" y1="320.40" x2="198.90" y2="320.40" stroke="#1a1a1a" stroke-width="1.2"/>
<line x1="141.40" y1="319.40" x2="143.00" y2="319.40" stroke="#777" stroke-width="0.8"/>
<line x1="141.40" y1="306.62" x2="143.00" y2="306.62" stroke="#777" stroke-width="0.8"/>
<line x1="141.40" y1="293.84" x2="143.00" y2="293.84" stroke="#777" stroke-width="0.8"/>
<line x1="141.40" y1="281.06" x2="143.00" y2="281.06" stroke="#777" stroke-width="0.8"/>
<line x1="141.40" y1="268.28" x2="143.00" y2="268.28" stroke="#777" stroke-width="0.8"/>
<line x1="141.40" y1="255.50" x2="143.00" y2="255.50" stroke="#777" stroke-width="0.8"/>
<line x1="144.00" y1="322.00" x2="198.40" y2="322.00" stroke="#aaa" stroke-width="1.1" stroke-dasharray="0.8 1.0"/>
<line x1="156.20" y1="267.40" x2="184.90" y2="267.40" stroke="#222" stroke-width="1.3"/>
<line x1="156.20" y1="265.80" x2="156.20" y2="269.00" stroke="#222" stroke-width="1"/>
<line x1="184.90" y1="265.80" x2="184.90" y2="269.00" stroke="#222" stroke-width="1"/>
<text x="175.50" y="266.40" font-size="7.6" text-anchor="middle" font-weight="bold" fill="#111" style="stroke-width:0.15px;">0.33</text>
<path d="M201.10,319.80 L201.10,301.80 L201.45,298.80 L201.80,294.94 L202.15,290.13 L202.50,284.44 L202.85,278.14 L203.20,271.74 L203.55,265.93 L203.90,261.49 L204.25,259.14 L204.60,259.37 L204.95,262.37 L205.30,267.74 L205.65,274.75 L206.00,282.55 L206.35,290.32 L206.70,297.41 L207.05,303.41 L207.40,308.16 L207.75,311.71 L208.10,314.24 L208.45,315.95 L208.80,317.08 L209.15,317.81 L209.50,318.29 L209.85,318.62 L210.20,318.85 L210.55,319.03 L210.90,319.17 L211.25,319.29 L211.60,319.39 L211.95,319.47 L212.30,319.54 L212.65,319.59 L213.00,319.64 L213.35,319.67 L213.70,319.70 L214.05,319.73 L214.40,319.75 L214.75,319.76 L215.10,319.77 L215.45,319.78 L215.80,319.78 L216.15,319.79 L216.50,319.79 L216.85,319.79 L217.20,319.80 L217.55,319.80 L217.90,319.80 L218.25,319.80 L218.60,319.80 L218.95,319.80 L219.30,319.80 L219.65,319.80 L220.00,319.80 L220.35,319.80 L220.70,319.80 L221.05,319.80 L221.40,319.80 L221.75,319.80 L222.10,319.80 L222.45,319.80 L222.80,319.80 L223.15,319.80 L223.50,319.80 L223.85,319.80 L224.20,319.80 L224.55,319.80 L224.90,319.80 L225.25,319.80 L225.60,319.80 L225.95,319.80 L226.30,319.80 L226.65,319.80 L227.00,319.80 L227.35,319.80 L227.70,319.80 L228.05,319.80 L228.40,319.80 L228.75,319.80 L229.10,319.80 L229.45,319.80 L229.80,319.80 L230.15,319.80 L230.50,319.80 L230.85,319.80 L231.20,319.80 L231.55,319.80 L231.90,319.80 L232.25,319.80 L232.60,319.80 L232.95,319.80 L233.30,319.80 L233.65,319.80 L234.00,319.80 L234.35,319.80 L234.70,319.80 L235.05,319.80 L235.40,319.80 L235.75,319.80 L236.10,319.80 L236.45,319.80 L236.80,319.80 L237.15,319.80 L237.50,319.80 L237.85,319.80 L238.20,319.80 L238.55,319.80 L238.90,319.80 L239.25,319.80 L239.60,319.80 L239.95,319.80 L240.30,319.80 L240.65,319.80 L241.00,319.80 L241.35,319.80 L241.70,319.80 L242.05,319.80 L242.40,319.80 L242.75,319.80 L243.10,319.80 L243.45,319.80 L243.80,319.80 L244.15,319.80 L244.50,319.80 L244.85,319.80 L245.20,319.80 L245.55,319.80 L245.90,319.80 L246.25,319.80 L246.60,319.80 L246.95,319.80 L247.30,319.80 L247.65,319.80 L248.00,319.80 L248.35,319.80 L248.70,319.80 L249.05,319.80 L249.40,319.80 L249.75,319.80 L250.10,319.80 L250.45,319.80 L250.80,319.80 L251.15,319.80 L251.50,319.80 L251.85,319.80 L252.20,319.80 L252.55,319.80 L252.90,319.80 L253.25,319.80 L253.60,319.80 L253.95,319.80 L254.30,319.80 L254.65,319.80 L254.80,319.80 Z" fill="#d8d8d8" stroke="#2a2a2a" stroke-width="0.8" stroke-linejoin="round"/>
<path d="M201.10,294.05 L201.45,290.72 L201.80,286.79 L202.15,282.24 L202.50,277.15 L202.85,271.78 L203.20,266.54 L203.55,262.02 L203.90,258.80 L204.25,257.42 L204.60,258.28 L204.95,261.41 L205.30,266.45 L205.65,272.87 L206.00,280.01 L206.35,287.25 L206.70,294.07 L207.05,300.08 L207.40,305.11 L207.75,309.09 L208.10,312.11 L208.45,314.31 L208.80,315.85 L209.15,316.92 L209.50,317.64 L209.85,318.13 L210.20,318.47 L210.55,318.69 L210.90,318.72 L211.25,318.75 L211.60,318.78 L211.95,318.81 L212.30,318.84 L212.65,318.87 L213.00,318.89 L213.35,318.92 L213.70,318.94 L214.05,318.97 L214.40,318.99 L214.75,319.02 L215.10,319.04 L215.45,319.06 L215.80,319.08 L216.15,319.10 L216.50,319.12 L216.85,319.14 L217.20,319.16 L217.55,319.18 L217.90,319.20 L218.25,319.21 L218.60,319.23 L218.95,319.25 L219.30,319.26 L219.65,319.28 L220.00,319.29 L220.35,319.31 L220.70,319.32 L221.05,319.34 L221.40,319.35 L221.75,319.36 L222.10,319.38 L222.45,319.39 L222.80,319.40 L223.15,319.41 L223.50,319.42 L223.85,319.43 L224.20,319.44 L224.55,319.45 L224.90,319.46 L225.25,319.47 L225.60,319.48 L225.95,319.49 L226.30,319.50 L226.65,319.51 L227.00,319.52 L227.35,319.53 L227.70,319.53 L228.05,319.54 L228.40,319.55 L228.75,319.56 L229.10,319.56 L229.45,319.57 L229.80,319.58 L230.15,319.58 L230.50,319.59 L230.85,319.60 L231.20,319.60 L231.55,319.61 L231.90,319.61 L232.25,319.62 L232.60,319.62 L232.95,319.63 L233.30,319.63 L233.65,319.64 L234.00,319.64 L234.35,319.65 L234.70,319.65 L235.05,319.66 L235.40,319.66 L235.75,319.66 L236.10,319.67 L236.45,319.67 L236.80,319.68 L237.15,319.68 L237.50,319.68 L237.85,319.69 L238.20,319.69 L238.55,319.69 L238.90,319.70 L239.25,319.70 L239.60,319.70 L239.95,319.70 L240.30,319.71 L240.65,319.71 L241.00,319.71 L241.35,319.71 L241.70,319.72 L242.05,319.72 L242.40,319.72 L242.75,319.72 L243.10,319.73 L243.45,319.73 L243.80,319.73 L244.15,319.73 L244.50,319.73 L244.85,319.74 L245.20,319.74 L245.55,319.74 L245.90,319.74 L246.25,319.74 L246.60,319.74 L246.95,319.75 L247.30,319.75 L247.65,319.75 L248.00,319.75 L248.35,319.75 L248.70,319.75 L249.05,319.76 L249.40,319.76 L249.75,319.76 L250.10,319.76 L250.45,319.76 L250.80,319.76 L251.15,319.76 L251.50,319.76 L251.85,319.76 L252.20,319.77 L252.55,319.77 L252.90,319.77 L253.25,319.77 L253.60,319.77 L253.95,319.77 L254.30,319.77 L254.65,319.77" fill="none" stroke="#111" stroke-width="1.0" stroke-linejoin="round"/>
<line x1="200.50" y1="253.50" x2="255.30" y2="253.50" stroke="#8f8f8f" stroke-width="1"/>
<line x1="255.30" y1="253.50" x2="255.30" y2="320.40" stroke="#8f8f8f" stroke-width="1"/>
<line x1="200.50" y1="253.00" x2="200.50" y2="320.40" stroke="#333" stroke-width="1.1"/>
<line x1="200.50" y1="320.40" x2="255.80" y2="320.40" stroke="#1a1a1a" stroke-width="1.2"/>
<line x1="198.90" y1="319.40" x2="200.50" y2="319.40" stroke="#777" stroke-width="0.8"/>
<line x1="198.90" y1="306.62" x2="200.50" y2="306.62" stroke="#777" stroke-width="0.8"/>
<line x1="198.90" y1="293.84" x2="200.50" y2="293.84" stroke="#777" stroke-width="0.8"/>
<line x1="198.90" y1="281.06" x2="200.50" y2="281.06" stroke="#777" stroke-width="0.8"/>
<line x1="198.90" y1="268.28" x2="200.50" y2="268.28" stroke="#777" stroke-width="0.8"/>
<line x1="198.90" y1="255.50" x2="200.50" y2="255.50" stroke="#777" stroke-width="0.8"/>
<line x1="201.50" y1="322.00" x2="255.30" y2="322.00" stroke="#aaa" stroke-width="1.1" stroke-dasharray="0.8 1.0"/>
<line x1="214.00" y1="266.80" x2="238.30" y2="266.80" stroke="#222" stroke-width="1.3"/>
<line x1="214.00" y1="265.20" x2="214.00" y2="268.40" stroke="#222" stroke-width="1"/>
<line x1="238.30" y1="265.20" x2="238.30" y2="268.40" stroke="#222" stroke-width="1"/>
<text x="225.80" y="265.10" font-size="7.6" text-anchor="middle" font-weight="bold" fill="#111" style="stroke-width:0.15px;">1.23</text>
<path d="M257.40,319.80 L257.40,306.23 L257.75,305.48 L258.10,304.48 L258.45,303.13 L258.80,301.33 L259.15,298.99 L259.50,296.04 L259.85,292.45 L260.20,288.26 L260.55,283.56 L260.90,278.55 L261.25,273.51 L261.60,268.75 L261.95,264.63 L262.30,261.52 L262.65,259.70 L263.00,259.37 L263.35,260.69 L263.70,263.58 L264.05,267.80 L264.40,273.02 L264.75,278.83 L265.10,284.87 L265.45,290.76 L265.80,296.24 L266.15,301.11 L266.50,305.26 L266.85,308.68 L267.20,311.40 L267.55,313.49 L267.90,315.07 L268.25,316.22 L268.60,317.06 L268.95,317.66 L269.30,318.09 L269.65,318.40 L270.00,318.64 L270.35,318.82 L270.70,318.97 L271.05,319.09 L271.40,319.19 L271.75,319.28 L272.10,319.36 L272.45,319.43 L272.80,319.48 L273.15,319.54 L273.50,319.58 L273.85,319.62 L274.20,319.65 L274.55,319.68 L274.90,319.70 L275.25,319.72 L275.60,319.73 L275.95,319.75 L276.30,319.76 L276.65,319.77 L277.00,319.77 L277.35,319.78 L277.70,319.78 L278.05,319.79 L278.40,319.79 L278.75,319.79 L279.10,319.79 L279.45,319.80 L279.80,319.80 L280.15,319.80 L280.50,319.80 L280.85,319.80 L281.20,319.80 L281.55,319.80 L281.90,319.80 L282.25,319.80 L282.60,319.80 L282.95,319.80 L283.30,319.80 L283.65,319.80 L284.00,319.80 L284.35,319.80 L284.70,319.80 L285.05,319.80 L285.40,319.80 L285.75,319.80 L286.10,319.80 L286.45,319.80 L286.80,319.80 L287.15,319.80 L287.50,319.80 L287.85,319.80 L288.20,319.80 L288.55,319.80 L288.90,319.80 L289.25,319.80 L289.60,319.80 L289.95,319.80 L290.30,319.80 L290.65,319.80 L291.00,319.80 L291.35,319.80 L291.70,319.80 L292.05,319.80 L292.40,319.80 L292.75,319.80 L293.10,319.80 L293.45,319.80 L293.80,319.80 L294.15,319.80 L294.50,319.80 L294.85,319.80 L295.20,319.80 L295.55,319.80 L295.90,319.80 L296.25,319.80 L296.60,319.80 L296.95,319.80 L297.30,319.80 L297.65,319.80 L298.00,319.80 L298.35,319.80 L298.70,319.80 L299.05,319.80 L299.40,319.80 L299.75,319.80 L300.10,319.80 L300.45,319.80 L300.80,319.80 L301.15,319.80 L301.50,319.80 L301.85,319.80 L302.20,319.80 L302.55,319.80 L302.90,319.80 L303.25,319.80 L303.60,319.80 L303.95,319.80 L304.30,319.80 L304.65,319.80 L305.00,319.80 L305.35,319.80 L305.70,319.80 L306.05,319.80 L306.40,319.80 L306.75,319.80 L307.10,319.80 L307.45,319.80 L307.80,319.80 L308.15,319.80 L308.50,319.80 L308.85,319.80 L309.20,319.80 L309.55,319.80 L309.90,319.80 L310.25,319.80 L310.60,319.80 L310.95,319.80 L311.30,319.80 L311.65,319.80 L312.00,319.80 L312.35,319.80 L312.70,319.80 L312.80,319.80 Z" fill="#d8d8d8" stroke="#2a2a2a" stroke-width="0.8" stroke-linejoin="round"/>
<path d="M257.40,298.69 L257.75,297.67 L258.10,296.43 L258.45,294.89 L258.80,292.97 L259.15,290.60 L259.50,287.76 L259.85,284.44 L260.20,280.69 L260.55,276.63 L260.90,272.42 L261.25,268.30 L261.60,264.51 L261.95,261.35 L262.30,259.08 L262.65,257.92 L263.00,258.03 L263.35,259.52 L263.70,262.30 L264.05,266.17 L264.40,270.89 L264.75,276.16 L265.10,281.70 L265.45,287.23 L265.80,292.51 L266.15,297.37 L266.50,301.68 L266.85,305.40 L267.20,308.50 L267.55,311.01 L267.90,313.01 L268.25,314.56 L268.60,315.74 L268.95,316.62 L269.30,317.28 L269.65,317.76 L270.00,318.13 L270.35,318.40 L270.70,318.61 L271.05,318.78 L271.40,318.89 L271.75,318.92 L272.10,318.94 L272.45,318.97 L272.80,318.99 L273.15,319.01 L273.50,319.04 L273.85,319.06 L274.20,319.08 L274.55,319.10 L274.90,319.12 L275.25,319.14 L275.60,319.16 L275.95,319.18 L276.30,319.20 L276.65,319.14 L277.00,319.00 L277.35,318.83 L277.70,318.61 L278.05,318.31 L278.40,317.91 L278.75,317.38 L279.10,316.69 L279.45,315.86 L279.80,314.96 L280.15,314.08 L280.50,313.35 L280.85,312.90 L281.20,312.82 L281.55,313.12 L281.90,313.74 L282.25,314.57 L282.60,315.48 L282.95,316.35 L283.30,317.10 L283.65,317.70 L284.00,318.16 L284.35,318.49 L284.70,318.74 L285.05,318.93 L285.40,319.08 L285.75,319.21 L286.10,319.31 L286.45,319.40 L286.80,319.48 L287.15,319.55 L287.50,319.56 L287.85,319.57 L288.20,319.58 L288.55,319.58 L288.90,319.59 L289.25,319.59 L289.60,319.60 L289.95,319.61 L290.30,319.61 L290.65,319.62 L291.00,319.62 L291.35,319.63 L291.70,319.63 L292.05,319.64 L292.40,319.64 L292.75,319.65 L293.10,319.65 L293.45,319.66 L293.80,319.66 L294.15,319.66 L294.50,319.67 L294.85,319.67 L295.20,319.67 L295.55,319.68 L295.90,319.68 L296.25,319.69 L296.60,319.69 L296.95,319.69 L297.30,319.70 L297.65,319.70 L298.00,319.70 L298.35,319.70 L298.70,319.71 L299.05,319.71 L299.40,319.71 L299.75,319.71 L300.10,319.72 L300.45,319.72 L300.80,319.72 L301.15,319.72 L301.50,319.73 L301.85,319.73 L302.20,319.73 L302.55,319.73 L302.90,319.73 L303.25,319.74 L303.60,319.74 L303.95,319.74 L304.30,319.74 L304.65,319.74 L305.00,319.74 L305.35,319.75 L305.70,319.75 L306.05,319.75 L306.40,319.75 L306.75,319.75 L307.10,319.75 L307.45,319.75 L307.80,319.76 L308.15,319.76 L308.50,319.76 L308.85,319.76 L309.20,319.76 L309.55,319.76 L309.90,319.76 L310.25,319.76 L310.60,319.77 L310.95,319.77 L311.30,319.77 L311.65,319.77 L312.00,319.77 L312.35,319.77 L312.70,319.77" fill="none" stroke="#111" stroke-width="1.25" stroke-linejoin="round"/>
<line x1="256.80" y1="253.50" x2="313.30" y2="253.50" stroke="#8f8f8f" stroke-width="1"/>
<line x1="313.30" y1="253.50" x2="313.30" y2="320.40" stroke="#8f8f8f" stroke-width="1"/>
<line x1="256.80" y1="253.00" x2="256.80" y2="320.40" stroke="#333" stroke-width="1.1"/>
<line x1="256.80" y1="320.40" x2="313.80" y2="320.40" stroke="#1a1a1a" stroke-width="1.2"/>
<line x1="255.20" y1="319.40" x2="256.80" y2="319.40" stroke="#777" stroke-width="0.8"/>
<line x1="255.20" y1="306.62" x2="256.80" y2="306.62" stroke="#777" stroke-width="0.8"/>
<line x1="255.20" y1="293.84" x2="256.80" y2="293.84" stroke="#777" stroke-width="0.8"/>
<line x1="255.20" y1="281.06" x2="256.80" y2="281.06" stroke="#777" stroke-width="0.8"/>
<line x1="255.20" y1="268.28" x2="256.80" y2="268.28" stroke="#777" stroke-width="0.8"/>
<line x1="255.20" y1="255.50" x2="256.80" y2="255.50" stroke="#777" stroke-width="0.8"/>
<line x1="257.80" y1="322.00" x2="313.30" y2="322.00" stroke="#aaa" stroke-width="1.1" stroke-dasharray="0.8 1.0"/>
<line x1="272.80" y1="268.80" x2="295.50" y2="268.80" stroke="#222" stroke-width="1.3"/>
<line x1="272.80" y1="267.20" x2="272.80" y2="270.40" stroke="#222" stroke-width="1"/>
<line x1="295.50" y1="267.20" x2="295.50" y2="270.40" stroke="#222" stroke-width="1"/>
<text x="287.80" y="267.50" font-size="7.6" text-anchor="middle" font-weight="bold" fill="#111" style="stroke-width:0.15px;">10</text>
<path d="M315.90,319.80 L315.90,293.16 L316.25,290.05 L316.60,286.48 L316.95,282.41 L317.30,277.90 L317.65,273.14 L318.00,268.46 L318.35,264.29 L318.70,261.14 L319.05,259.47 L319.40,259.63 L319.75,261.72 L320.10,265.55 L320.45,270.75 L320.80,276.85 L321.15,283.36 L321.50,289.80 L321.85,295.80 L322.20,301.11 L322.55,305.58 L322.90,309.18 L323.25,311.98 L323.60,314.07 L323.95,315.59 L324.30,316.67 L324.65,317.43 L325.00,317.96 L325.35,318.33 L325.70,318.60 L326.05,318.81 L326.40,318.97 L326.75,319.10 L327.10,319.21 L327.45,319.30 L327.80,319.38 L328.15,319.45 L328.50,319.51 L328.85,319.56 L329.20,319.61 L329.55,319.64 L329.90,319.67 L330.25,319.70 L330.60,319.72 L330.95,319.74 L331.30,319.75 L331.65,319.76 L332.00,319.77 L332.35,319.78 L332.70,319.78 L333.05,319.79 L333.40,319.79 L333.75,319.79 L334.10,319.79 L334.45,319.80 L334.80,319.80 L335.15,319.80 L335.50,319.80 L335.85,319.80 L336.20,319.80 L336.55,319.80 L336.90,319.80 L337.25,319.80 L337.60,319.80 L337.95,319.80 L338.30,319.80 L338.65,319.80 L339.00,319.80 L339.35,319.80 L339.70,319.80 L340.05,319.80 L340.40,319.80 L340.75,319.80 L341.10,319.80 L341.45,319.80 L341.80,319.80 L342.15,319.80 L342.50,319.80 L342.85,319.80 L343.20,319.80 L343.55,319.80 L343.90,319.80 L344.25,319.80 L344.60,319.80 L344.95,319.80 L345.30,319.80 L345.65,319.80 L346.00,319.80 L346.35,319.80 L346.70,319.80 L347.05,319.80 L347.40,319.80 L347.75,319.80 L348.10,319.80 L348.45,319.80 L348.80,319.80 L349.15,319.80 L349.50,319.80 L349.85,319.80 L350.20,319.80 L350.55,319.80 L350.90,319.80 L351.25,319.80 L351.60,319.80 L351.95,319.80 L352.30,319.80 L352.65,319.80 L353.00,319.80 L353.35,319.80 L353.70,319.80 L354.05,319.80 L354.40,319.80 L354.75,319.80 L355.10,319.80 L355.45,319.80 L355.80,319.80 L356.15,319.80 L356.50,319.80 L356.85,319.80 L357.20,319.80 L357.55,319.80 L357.90,319.80 L358.25,319.80 L358.60,319.80 L358.95,319.80 L359.30,319.80 L359.65,319.80 L360.00,319.80 L360.35,319.80 L360.70,319.80 L361.05,319.80 L361.40,319.80 L361.75,319.80 L362.10,319.80 L362.45,319.80 L362.80,319.80 L363.15,319.80 L363.50,319.80 L363.85,319.80 L364.20,319.80 L364.55,319.80 L364.90,319.80 L365.25,319.80 L365.60,319.80 L365.95,319.80 L366.30,319.80 L366.65,319.80 L367.00,319.80 L367.35,319.80 L367.70,319.80 L368.05,319.80 L368.40,319.80 L368.75,319.80 L369.10,319.80 L369.45,319.80 L369.80,319.80 L370.00,319.80 Z" fill="#d8d8d8" stroke="#2a2a2a" stroke-width="0.8" stroke-linejoin="round"/>
<path d="M315.90,280.17 L316.25,277.77 L316.60,275.30 L316.95,272.64 L317.30,269.73 L317.65,266.63 L318.00,263.53 L318.35,260.76 L318.70,258.72 L319.05,257.82 L319.40,258.41 L319.75,260.59 L320.10,264.20 L320.45,268.95 L320.80,274.49 L321.15,280.44 L321.50,286.45 L321.85,292.21 L322.20,297.48 L322.55,302.11 L322.90,306.03 L323.25,309.24 L323.60,311.78 L323.95,313.74 L324.30,315.22 L324.65,316.30 L325.00,317.09 L325.35,317.67 L325.70,318.08 L326.05,318.39 L326.40,318.62 L326.75,318.80 L327.10,318.85 L327.45,318.87 L327.80,318.90 L328.15,318.93 L328.50,318.95 L328.85,318.97 L329.20,319.00 L329.55,319.02 L329.90,319.04 L330.25,319.07 L330.60,319.09 L330.95,319.11 L331.30,319.13 L331.65,319.15 L332.00,319.17 L332.35,319.18 L332.70,319.20 L333.05,319.22 L333.40,319.23 L333.75,319.08 L334.10,318.89 L334.45,318.67 L334.80,318.41 L335.15,318.10 L335.50,317.75 L335.85,317.32 L336.20,316.78 L336.55,316.07 L336.90,315.11 L337.25,313.80 L337.60,312.09 L337.95,309.94 L338.30,307.46 L338.65,304.86 L339.00,302.48 L339.35,300.70 L339.70,299.85 L340.05,300.08 L340.40,301.37 L340.75,303.45 L341.10,305.97 L341.45,308.56 L341.80,310.91 L342.15,312.88 L342.50,314.41 L342.85,315.55 L343.20,316.40 L343.55,317.02 L343.90,317.51 L344.25,317.91 L344.60,318.24 L344.95,318.52 L345.30,318.77 L345.65,318.97 L346.00,319.15 L346.35,319.29 L346.70,319.41 L347.05,319.50 L347.40,319.58 L347.75,319.63 L348.10,319.63 L348.45,319.64 L348.80,319.64 L349.15,319.65 L349.50,319.65 L349.85,319.66 L350.20,319.66 L350.55,319.66 L350.90,319.67 L351.25,319.67 L351.60,319.68 L351.95,319.68 L352.30,319.68 L352.65,319.69 L353.00,319.69 L353.35,319.69 L353.70,319.70 L354.05,319.70 L354.40,319.70 L354.75,319.70 L355.10,319.71 L355.45,319.71 L355.80,319.71 L356.15,319.72 L356.50,319.72 L356.85,319.72 L357.20,319.72 L357.55,319.72 L357.90,319.73 L358.25,319.73 L358.60,319.73 L358.95,319.73 L359.30,319.73 L359.65,319.74 L360.00,319.74 L360.35,319.74 L360.70,319.74 L361.05,319.74 L361.40,319.75 L361.75,319.75 L362.10,319.75 L362.45,319.75 L362.80,319.75 L363.15,319.75 L363.50,319.75 L363.85,319.76 L364.20,319.76 L364.55,319.76 L364.90,319.76 L365.25,319.76 L365.60,319.76 L365.95,319.76 L366.30,319.76 L366.65,319.76 L367.00,319.77 L367.35,319.77 L367.70,319.77 L368.05,319.77 L368.40,319.77 L368.75,319.77 L369.10,319.77 L369.45,319.77 L369.80,319.77" fill="none" stroke="#111" stroke-width="1.25" stroke-linejoin="round"/>
<line x1="315.30" y1="253.50" x2="370.50" y2="253.50" stroke="#8f8f8f" stroke-width="1"/>
<line x1="370.50" y1="253.50" x2="370.50" y2="320.40" stroke="#8f8f8f" stroke-width="1"/>
<line x1="315.30" y1="253.00" x2="315.30" y2="320.40" stroke="#333" stroke-width="1.1"/>
<line x1="315.30" y1="320.40" x2="371.00" y2="320.40" stroke="#1a1a1a" stroke-width="1.2"/>
<line x1="313.70" y1="319.40" x2="315.30" y2="319.40" stroke="#777" stroke-width="0.8"/>
<line x1="313.70" y1="306.62" x2="315.30" y2="306.62" stroke="#777" stroke-width="0.8"/>
<line x1="313.70" y1="293.84" x2="315.30" y2="293.84" stroke="#777" stroke-width="0.8"/>
<line x1="313.70" y1="281.06" x2="315.30" y2="281.06" stroke="#777" stroke-width="0.8"/>
<line x1="313.70" y1="268.28" x2="315.30" y2="268.28" stroke="#777" stroke-width="0.8"/>
<line x1="313.70" y1="255.50" x2="315.30" y2="255.50" stroke="#777" stroke-width="0.8"/>
<line x1="316.30" y1="322.00" x2="370.50" y2="322.00" stroke="#aaa" stroke-width="1.1" stroke-dasharray="0.8 1.0"/>
<line x1="330.00" y1="266.90" x2="352.70" y2="266.90" stroke="#222" stroke-width="1.3"/>
<line x1="330.00" y1="265.30" x2="330.00" y2="268.50" stroke="#222" stroke-width="1"/>
<line x1="352.70" y1="265.30" x2="352.70" y2="268.50" stroke="#222" stroke-width="1"/>
<text x="341.30" y="263.60" font-size="7.6" text-anchor="middle" font-weight="bold" fill="#111" style="stroke-width:0.15px;">19.5</text>
<path d="M29.10,390.40 L29.10,357.75 L29.45,355.66 L29.80,353.30 L30.15,350.50 L30.50,347.17 L30.85,343.37 L31.20,339.29 L31.55,335.32 L31.90,331.99 L32.25,329.88 L32.60,329.46 L32.95,330.70 L33.30,333.42 L33.65,337.40 L34.00,342.35 L34.35,347.92 L34.70,353.76 L35.05,359.55 L35.40,365.01 L35.75,369.94 L36.10,374.24 L36.45,377.84 L36.80,380.77 L37.15,383.08 L37.50,384.85 L37.85,386.18 L38.20,387.16 L38.55,387.87 L38.90,388.39 L39.25,388.77 L39.60,389.05 L39.95,389.27 L40.30,389.44 L40.65,389.58 L41.00,389.69 L41.35,389.79 L41.70,389.88 L42.05,389.95 L42.40,390.02 L42.75,390.08 L43.10,390.13 L43.45,390.17 L43.80,390.21 L44.15,390.24 L44.50,390.27 L44.85,390.29 L45.20,390.31 L45.55,390.33 L45.90,390.34 L46.25,390.35 L46.60,390.36 L46.95,390.37 L47.30,390.38 L47.65,390.38 L48.00,390.39 L48.35,390.39 L48.70,390.39 L49.05,390.39 L49.40,390.40 L49.75,390.40 L50.10,390.40 L50.45,390.40 L50.80,390.40 L51.15,390.40 L51.50,390.40 L51.85,390.40 L52.20,390.40 L52.55,390.40 L52.90,390.40 L53.25,390.40 L53.60,390.40 L53.95,390.40 L54.30,390.40 L54.65,390.40 L55.00,390.40 L55.35,390.40 L55.70,390.40 L56.05,390.40 L56.40,390.40 L56.75,390.40 L57.10,390.40 L57.45,390.40 L57.80,390.40 L58.15,390.40 L58.50,390.40 L58.85,390.40 L59.20,390.40 L59.55,390.40 L59.90,390.40 L60.25,390.40 L60.60,390.40 L60.95,390.40 L61.30,390.40 L61.65,390.40 L62.00,390.40 L62.35,390.40 L62.70,390.40 L63.05,390.40 L63.40,390.40 L63.75,390.40 L64.10,390.40 L64.45,390.40 L64.80,390.40 L65.15,390.40 L65.50,390.40 L65.85,390.40 L66.20,390.40 L66.55,390.40 L66.90,390.40 L67.25,390.40 L67.60,390.40 L67.95,390.40 L68.30,390.40 L68.65,390.40 L69.00,390.40 L69.35,390.40 L69.70,390.40 L70.05,390.40 L70.40,390.40 L70.75,390.40 L71.10,390.40 L71.45,390.40 L71.80,390.40 L72.15,390.40 L72.50,390.40 L72.85,390.40 L73.20,390.40 L73.55,390.40 L73.90,390.40 L74.25,390.40 L74.60,390.40 L74.95,390.40 L75.30,390.40 L75.65,390.40 L76.00,390.40 L76.35,390.40 L76.70,390.40 L77.05,390.40 L77.40,390.40 L77.75,390.40 L78.10,390.40 L78.45,390.40 L78.80,390.40 L79.15,390.40 L79.50,390.40 L79.85,390.40 L80.20,390.40 L80.55,390.40 L80.90,390.40 L81.25,390.40 L81.60,390.40 L81.95,390.40 L82.30,390.40 L82.65,390.40 L82.90,390.40 Z" fill="#d8d8d8" stroke="#2a2a2a" stroke-width="0.8" stroke-linejoin="round"/>
<path d="M29.10,354.50 L29.45,351.99 L29.80,349.28 L30.15,346.26 L30.50,342.89 L30.85,339.25 L31.20,335.55 L31.55,332.15 L31.90,329.50 L32.25,328.05 L32.60,328.12 L32.95,329.51 L33.30,332.11 L33.65,335.76 L34.00,340.24 L34.35,345.28 L34.70,350.63 L35.05,356.02 L35.40,361.24 L35.75,366.11 L36.10,370.51 L36.45,374.35 L36.80,377.62 L37.15,380.34 L37.50,382.53 L37.85,384.27 L38.20,385.62 L38.55,386.65 L38.90,387.42 L39.25,388.01 L39.60,388.44 L39.95,388.77 L40.30,389.03 L40.65,389.23 L41.00,389.39 L41.35,389.51 L41.70,389.54 L42.05,389.56 L42.40,389.59 L42.75,389.61 L43.10,389.63 L43.45,389.65 L43.80,389.67 L44.15,389.70 L44.50,389.72 L44.85,389.63 L45.20,389.43 L45.55,389.19 L45.90,388.90 L46.25,388.57 L46.60,388.19 L46.95,387.76 L47.30,387.24 L47.65,386.63 L48.00,385.88 L48.35,384.90 L48.70,383.62 L49.05,381.92 L49.40,379.69 L49.75,376.90 L50.10,373.60 L50.45,369.97 L50.80,366.37 L51.15,363.24 L51.50,361.04 L51.85,360.11 L52.20,360.63 L52.55,362.50 L52.90,365.41 L53.25,368.93 L53.60,372.58 L53.95,376.00 L54.30,378.95 L54.65,381.34 L55.00,383.18 L55.35,384.57 L55.70,385.62 L56.05,386.43 L56.40,387.08 L56.75,387.62 L57.10,388.07 L57.45,388.47 L57.80,388.81 L58.15,389.11 L58.50,389.36 L58.85,389.57 L59.20,389.75 L59.55,389.90 L59.90,390.01 L60.25,390.11 L60.60,390.18 L60.95,390.23 L61.30,390.23 L61.65,390.24 L62.00,390.24 L62.35,390.25 L62.70,390.25 L63.05,390.25 L63.40,390.26 L63.75,390.26 L64.10,390.27 L64.45,390.27 L64.80,390.27 L65.15,390.28 L65.50,390.28 L65.85,390.28 L66.20,390.29 L66.55,390.29 L66.90,390.29 L67.25,390.30 L67.60,390.30 L67.95,390.30 L68.30,390.31 L68.65,390.31 L69.00,390.31 L69.35,390.31 L69.70,390.32 L70.05,390.32 L70.40,390.32 L70.75,390.32 L71.10,390.33 L71.45,390.33 L71.80,390.33 L72.15,390.33 L72.50,390.33 L72.85,390.34 L73.20,390.34 L73.55,390.34 L73.90,390.34 L74.25,390.34 L74.60,390.34 L74.95,390.35 L75.30,390.35 L75.65,390.35 L76.00,390.35 L76.35,390.35 L76.70,390.35 L77.05,390.35 L77.40,390.36 L77.75,390.36 L78.10,390.36 L78.45,390.36 L78.80,390.36 L79.15,390.36 L79.50,390.36 L79.85,390.36 L80.20,390.37 L80.55,390.37 L80.90,390.37 L81.25,390.37 L81.60,390.37 L81.95,390.37 L82.30,390.37 L82.65,390.37" fill="none" stroke="#111" stroke-width="1.0" stroke-linejoin="round"/>
<line x1="28.50" y1="323.90" x2="83.40" y2="323.90" stroke="#8f8f8f" stroke-width="1"/>
<line x1="83.40" y1="323.90" x2="83.40" y2="391.00" stroke="#8f8f8f" stroke-width="1"/>
<line x1="28.50" y1="323.40" x2="28.50" y2="391.00" stroke="#333" stroke-width="1.1"/>
<line x1="28.50" y1="391.00" x2="83.90" y2="391.00" stroke="#1a1a1a" stroke-width="1.2"/>
<line x1="26.90" y1="390.00" x2="28.50" y2="390.00" stroke="#777" stroke-width="0.8"/>
<line x1="26.90" y1="377.18" x2="28.50" y2="377.18" stroke="#777" stroke-width="0.8"/>
<line x1="26.90" y1="364.36" x2="28.50" y2="364.36" stroke="#777" stroke-width="0.8"/>
<line x1="26.90" y1="351.54" x2="28.50" y2="351.54" stroke="#777" stroke-width="0.8"/>
<line x1="26.90" y1="338.72" x2="28.50" y2="338.72" stroke="#777" stroke-width="0.8"/>
<line x1="26.90" y1="325.90" x2="28.50" y2="325.90" stroke="#777" stroke-width="0.8"/>
<line x1="29.50" y1="392.60" x2="83.40" y2="392.60" stroke="#aaa" stroke-width="1.1" stroke-dasharray="0.8 1.0"/>
<line x1="43.20" y1="339.50" x2="65.50" y2="339.50" stroke="#222" stroke-width="1.3"/>
<line x1="43.20" y1="337.90" x2="43.20" y2="341.10" stroke="#222" stroke-width="1"/>
<line x1="65.50" y1="337.90" x2="65.50" y2="341.10" stroke="#222" stroke-width="1"/>
<text x="56.30" y="338.30" font-size="7.6" text-anchor="middle" font-weight="bold" fill="#111" style="stroke-width:0.15px;">26.5</text>
<path d="M86.10,390.40 L86.10,364.56 L86.45,361.64 L86.80,358.25 L87.15,354.32 L87.50,349.91 L87.85,345.17 L88.20,340.40 L88.55,336.02 L88.90,332.52 L89.25,330.38 L89.60,329.99 L89.95,331.67 L90.30,335.32 L90.65,340.54 L91.00,346.82 L91.35,353.59 L91.70,360.32 L92.05,366.58 L92.40,372.07 L92.75,376.65 L93.10,380.29 L93.45,383.06 L93.80,385.10 L94.15,386.55 L94.50,387.56 L94.85,388.25 L95.20,388.73 L95.55,389.07 L95.90,389.31 L96.25,389.50 L96.60,389.65 L96.95,389.77 L97.30,389.87 L97.65,389.96 L98.00,390.04 L98.35,390.10 L98.70,390.15 L99.05,390.20 L99.40,390.24 L99.75,390.27 L100.10,390.30 L100.45,390.32 L100.80,390.34 L101.15,390.35 L101.50,390.36 L101.85,390.37 L102.20,390.38 L102.55,390.38 L102.90,390.39 L103.25,390.39 L103.60,390.39 L103.95,390.40 L104.30,390.40 L104.65,390.40 L105.00,390.40 L105.35,390.40 L105.70,390.40 L106.05,390.40 L106.40,390.40 L106.75,390.40 L107.10,390.40 L107.45,390.40 L107.80,390.40 L108.15,390.40 L108.50,390.40 L108.85,390.40 L109.20,390.40 L109.55,390.40 L109.90,390.40 L110.25,390.40 L110.60,390.40 L110.95,390.40 L111.30,390.40 L111.65,390.40 L112.00,390.40 L112.35,390.40 L112.70,390.40 L113.05,390.40 L113.40,390.40 L113.75,390.40 L114.10,390.40 L114.45,390.40 L114.80,390.40 L115.15,390.40 L115.50,390.40 L115.85,390.40 L116.20,390.40 L116.55,390.40 L116.90,390.40 L117.25,390.40 L117.60,390.40 L117.95,390.40 L118.30,390.40 L118.65,390.40 L119.00,390.40 L119.35,390.40 L119.70,390.40 L120.05,390.40 L120.40,390.40 L120.75,390.40 L121.10,390.40 L121.45,390.40 L121.80,390.40 L122.15,390.40 L122.50,390.40 L122.85,390.40 L123.20,390.40 L123.55,390.40 L123.90,390.40 L124.25,390.40 L124.60,390.40 L124.95,390.40 L125.30,390.40 L125.65,390.40 L126.00,390.40 L126.35,390.40 L126.70,390.40 L127.05,390.40 L127.40,390.40 L127.75,390.40 L128.10,390.40 L128.45,390.40 L128.80,390.40 L129.15,390.40 L129.50,390.40 L129.85,390.40 L130.20,390.40 L130.55,390.40 L130.90,390.40 L131.25,390.40 L131.60,390.40 L131.95,390.40 L132.30,390.40 L132.65,390.40 L133.00,390.40 L133.35,390.40 L133.70,390.40 L134.05,390.40 L134.40,390.40 L134.75,390.40 L135.10,390.40 L135.45,390.40 L135.80,390.40 L136.15,390.40 L136.50,390.40 L136.85,390.40 L137.20,390.40 L137.55,390.40 L137.90,390.40 L138.25,390.40 L138.60,390.40 L138.95,390.40 L139.30,390.40 L139.65,390.40 L140.00,390.40 L140.35,390.40 L140.40,390.40 Z" fill="#d8d8d8" stroke="#2a2a2a" stroke-width="0.8" stroke-linejoin="round"/>
<path d="M86.10,349.14 L86.45,347.11 L86.80,345.07 L87.15,342.85 L87.50,340.35 L87.85,337.59 L88.20,334.69 L88.55,331.95 L88.90,329.75 L89.25,328.53 L89.60,328.69 L89.95,330.59 L90.30,334.08 L90.65,338.88 L91.00,344.58 L91.35,350.78 L91.70,357.05 L92.05,363.05 L92.40,368.51 L92.75,373.26 L93.10,377.24 L93.45,380.45 L93.80,382.95 L94.15,384.84 L94.50,386.23 L94.85,387.24 L95.20,387.97 L95.55,388.48 L95.90,388.85 L96.25,389.13 L96.60,389.33 L96.95,389.41 L97.30,389.44 L97.65,389.46 L98.00,389.49 L98.35,389.52 L98.70,389.54 L99.05,389.57 L99.40,389.59 L99.75,389.61 L100.10,389.64 L100.45,389.66 L100.80,389.68 L101.15,389.70 L101.50,389.72 L101.85,389.74 L102.20,389.76 L102.55,389.78 L102.90,389.80 L103.25,389.79 L103.60,389.64 L103.95,389.46 L104.30,389.25 L104.65,388.98 L105.00,388.63 L105.35,388.16 L105.70,387.51 L106.05,386.61 L106.40,385.43 L106.75,384.02 L107.10,382.50 L107.45,381.09 L107.80,380.05 L108.15,379.61 L108.50,379.86 L108.85,380.74 L109.20,382.07 L109.55,383.59 L109.90,385.05 L110.25,386.30 L110.60,387.28 L110.95,388.00 L111.30,388.51 L111.65,388.89 L112.00,389.18 L112.35,389.40 L112.70,389.59 L113.05,389.75 L113.40,389.89 L113.75,390.00 L114.10,390.09 L114.45,390.17 L114.80,390.18 L115.15,390.18 L115.50,390.19 L115.85,390.19 L116.20,390.20 L116.55,390.21 L116.90,390.21 L117.25,390.22 L117.60,390.22 L117.95,390.23 L118.30,390.23 L118.65,390.24 L119.00,390.24 L119.35,390.25 L119.70,390.25 L120.05,390.26 L120.40,390.26 L120.75,390.26 L121.10,390.27 L121.45,390.27 L121.80,390.27 L122.15,390.28 L122.50,390.28 L122.85,390.29 L123.20,390.29 L123.55,390.29 L123.90,390.30 L124.25,390.30 L124.60,390.30 L124.95,390.30 L125.30,390.31 L125.65,390.31 L126.00,390.31 L126.35,390.31 L126.70,390.32 L127.05,390.32 L127.40,390.32 L127.75,390.32 L128.10,390.33 L128.45,390.33 L128.80,390.33 L129.15,390.33 L129.50,390.33 L129.85,390.34 L130.20,390.34 L130.55,390.34 L130.90,390.34 L131.25,390.34 L131.60,390.34 L131.95,390.35 L132.30,390.35 L132.65,390.35 L133.00,390.35 L133.35,390.35 L133.70,390.35 L134.05,390.35 L134.40,390.36 L134.75,390.36 L135.10,390.36 L135.45,390.36 L135.80,390.36 L136.15,390.36 L136.50,390.36 L136.85,390.36 L137.20,390.37 L137.55,390.37 L137.90,390.37 L138.25,390.37 L138.60,390.37 L138.95,390.37 L139.30,390.37 L139.65,390.37 L140.00,390.37 L140.35,390.37" fill="none" stroke="#111" stroke-width="1.25" stroke-linejoin="round"/>
<line x1="85.50" y1="323.90" x2="140.90" y2="323.90" stroke="#8f8f8f" stroke-width="1"/>
<line x1="140.90" y1="323.90" x2="140.90" y2="391.00" stroke="#8f8f8f" stroke-width="1"/>
<line x1="85.50" y1="323.40" x2="85.50" y2="391.00" stroke="#333" stroke-width="1.1"/>
<line x1="85.50" y1="391.00" x2="141.40" y2="391.00" stroke="#1a1a1a" stroke-width="1.2"/>
<line x1="83.90" y1="390.00" x2="85.50" y2="390.00" stroke="#777" stroke-width="0.8"/>
<line x1="83.90" y1="377.18" x2="85.50" y2="377.18" stroke="#777" stroke-width="0.8"/>
<line x1="83.90" y1="364.36" x2="85.50" y2="364.36" stroke="#777" stroke-width="0.8"/>
<line x1="83.90" y1="351.54" x2="85.50" y2="351.54" stroke="#777" stroke-width="0.8"/>
<line x1="83.90" y1="338.72" x2="85.50" y2="338.72" stroke="#777" stroke-width="0.8"/>
<line x1="83.90" y1="325.90" x2="85.50" y2="325.90" stroke="#777" stroke-width="0.8"/>
<line x1="86.50" y1="392.60" x2="140.90" y2="392.60" stroke="#aaa" stroke-width="1.1" stroke-dasharray="0.8 1.0"/>
<line x1="100.40" y1="337.50" x2="123.60" y2="337.50" stroke="#222" stroke-width="1.3"/>
<line x1="100.40" y1="335.90" x2="100.40" y2="339.10" stroke="#222" stroke-width="1"/>
<line x1="123.60" y1="335.90" x2="123.60" y2="339.10" stroke="#222" stroke-width="1"/>
<text x="113.80" y="334.90" font-size="7.6" text-anchor="middle" font-weight="bold" fill="#111" style="stroke-width:0.15px;">11.7</text>
<path d="M143.60,390.40 L143.60,371.62 L143.95,371.27 L144.30,370.83 L144.65,370.21 L145.00,369.31 L145.35,368.02 L145.70,366.22 L146.05,363.83 L146.40,360.78 L146.75,357.07 L147.10,352.80 L147.45,348.13 L147.80,343.34 L148.15,338.76 L148.50,334.79 L148.85,331.82 L149.20,330.16 L149.55,330.14 L149.90,332.50 L150.25,337.11 L150.60,343.39 L150.95,350.62 L151.30,358.07 L151.65,365.11 L152.00,371.30 L152.35,376.42 L152.70,380.42 L153.05,383.38 L153.40,385.48 L153.75,386.92 L154.10,387.88 L154.45,388.52 L154.80,388.95 L155.15,389.25 L155.50,389.47 L155.85,389.63 L156.20,389.77 L156.55,389.88 L156.90,389.98 L157.25,390.05 L157.60,390.12 L157.95,390.18 L158.30,390.22 L158.65,390.26 L159.00,390.29 L159.35,390.32 L159.70,390.34 L160.05,390.35 L160.40,390.36 L160.75,390.37 L161.10,390.38 L161.45,390.39 L161.80,390.39 L162.15,390.39 L162.50,390.39 L162.85,390.40 L163.20,390.40 L163.55,390.40 L163.90,390.40 L164.25,390.40 L164.60,390.40 L164.95,390.40 L165.30,390.40 L165.65,390.40 L166.00,390.40 L166.35,390.40 L166.70,390.40 L167.05,390.40 L167.40,390.40 L167.75,390.40 L168.10,390.40 L168.45,390.40 L168.80,390.40 L169.15,390.40 L169.50,390.40 L169.85,390.40 L170.20,390.40 L170.55,390.40 L170.90,390.40 L171.25,390.40 L171.60,390.40 L171.95,390.40 L172.30,390.40 L172.65,390.40 L173.00,390.40 L173.35,390.40 L173.70,390.40 L174.05,390.40 L174.40,390.40 L174.75,390.40 L175.10,390.40 L175.45,390.40 L175.80,390.40 L176.15,390.40 L176.50,390.40 L176.85,390.40 L177.20,390.40 L177.55,390.40 L177.90,390.40 L178.25,390.40 L178.60,390.40 L178.95,390.40 L179.30,390.40 L179.65,390.40 L180.00,390.40 L180.35,390.40 L180.70,390.40 L181.05,390.40 L181.40,390.40 L181.75,390.40 L182.10,390.40 L182.45,390.40 L182.80,390.40 L183.15,390.40 L183.50,390.40 L183.85,390.40 L184.20,390.40 L184.55,390.40 L184.90,390.40 L185.25,390.40 L185.60,390.40 L185.95,390.40 L186.30,390.40 L186.65,390.40 L187.00,390.40 L187.35,390.40 L187.70,390.40 L188.05,390.40 L188.40,390.40 L188.75,390.40 L189.10,390.40 L189.45,390.40 L189.80,390.40 L190.15,390.40 L190.50,390.40 L190.85,390.40 L191.20,390.40 L191.55,390.40 L191.90,390.40 L192.25,390.40 L192.60,390.40 L192.95,390.40 L193.30,390.40 L193.65,390.40 L194.00,390.40 L194.35,390.40 L194.70,390.40 L195.05,390.40 L195.40,390.40 L195.75,390.40 L196.10,390.40 L196.45,390.40 L196.80,390.40 L197.15,390.40 L197.50,390.40 L197.85,390.40 L197.90,390.40 Z" fill="#d8d8d8" stroke="#2a2a2a" stroke-width="0.8" stroke-linejoin="round"/>
<path d="M143.60,365.60 L143.95,365.05 L144.30,364.39 L144.65,363.56 L145.00,362.45 L145.35,360.98 L145.70,359.07 L146.05,356.65 L146.40,353.72 L146.75,350.29 L147.10,346.48 L147.45,342.45 L147.80,338.44 L148.15,334.74 L148.50,331.66 L148.85,329.48 L149.20,328.45 L149.55,328.95 L149.90,331.50 L150.25,335.87 L150.60,341.62 L150.95,348.22 L151.30,355.10 L151.65,361.78 L152.00,367.88 L152.35,373.14 L152.70,377.48 L153.05,380.90 L153.40,383.49 L153.75,385.38 L154.10,386.73 L154.45,387.67 L154.80,388.31 L155.15,388.76 L155.50,389.08 L155.85,389.32 L156.20,389.35 L156.55,389.38 L156.90,389.41 L157.25,389.44 L157.60,389.47 L157.95,389.50 L158.30,389.52 L158.65,389.55 L159.00,389.57 L159.35,389.60 L159.70,389.62 L160.05,389.64 L160.40,389.66 L160.75,389.68 L161.10,389.70 L161.45,389.72 L161.80,389.74 L162.15,389.76 L162.50,389.71 L162.85,389.54 L163.20,389.34 L163.55,389.09 L163.90,388.79 L164.25,388.38 L164.60,387.82 L164.95,387.03 L165.30,385.98 L165.65,384.64 L166.00,383.11 L166.35,381.55 L166.70,380.22 L167.05,379.39 L167.40,379.23 L167.75,379.79 L168.10,380.94 L168.45,382.43 L168.80,384.00 L169.15,385.44 L169.50,386.62 L169.85,387.51 L170.20,388.16 L170.55,388.63 L170.90,388.97 L171.25,389.24 L171.60,389.46 L171.95,389.64 L172.30,389.79 L172.65,389.92 L173.00,390.03 L173.35,390.12 L173.70,390.16 L174.05,390.16 L174.40,390.17 L174.75,390.18 L175.10,390.18 L175.45,390.19 L175.80,390.20 L176.15,390.20 L176.50,390.21 L176.85,390.21 L177.20,390.22 L177.55,390.22 L177.90,390.23 L178.25,390.23 L178.60,390.24 L178.95,390.24 L179.30,390.25 L179.65,390.25 L180.00,390.26 L180.35,390.26 L180.70,390.26 L181.05,390.27 L181.40,390.27 L181.75,390.28 L182.10,390.28 L182.45,390.28 L182.80,390.29 L183.15,390.29 L183.50,390.29 L183.85,390.30 L184.20,390.30 L184.55,390.30 L184.90,390.30 L185.25,390.31 L185.60,390.31 L185.95,390.31 L186.30,390.31 L186.65,390.32 L187.00,390.32 L187.35,390.32 L187.70,390.32 L188.05,390.33 L188.40,390.33 L188.75,390.33 L189.10,390.33 L189.45,390.33 L189.80,390.34 L190.15,390.34 L190.50,390.34 L190.85,390.34 L191.20,390.34 L191.55,390.34 L191.90,390.35 L192.25,390.35 L192.60,390.35 L192.95,390.35 L193.30,390.35 L193.65,390.35 L194.00,390.36 L194.35,390.36 L194.70,390.36 L195.05,390.36 L195.40,390.36 L195.75,390.36 L196.10,390.36 L196.45,390.36 L196.80,390.36 L197.15,390.37 L197.50,390.37 L197.85,390.37" fill="none" stroke="#111" stroke-width="1.0" stroke-linejoin="round"/>
<line x1="143.00" y1="323.90" x2="198.40" y2="323.90" stroke="#8f8f8f" stroke-width="1"/>
<line x1="198.40" y1="323.90" x2="198.40" y2="391.00" stroke="#8f8f8f" stroke-width="1"/>
<line x1="143.00" y1="323.40" x2="143.00" y2="391.00" stroke="#333" stroke-width="1.1"/>
<line x1="143.00" y1="391.00" x2="198.90" y2="391.00" stroke="#1a1a1a" stroke-width="1.2"/>
<line x1="141.40" y1="390.00" x2="143.00" y2="390.00" stroke="#777" stroke-width="0.8"/>
<line x1="141.40" y1="377.18" x2="143.00" y2="377.18" stroke="#777" stroke-width="0.8"/>
<line x1="141.40" y1="364.36" x2="143.00" y2="364.36" stroke="#777" stroke-width="0.8"/>
<line x1="141.40" y1="351.54" x2="143.00" y2="351.54" stroke="#777" stroke-width="0.8"/>
<line x1="141.40" y1="338.72" x2="143.00" y2="338.72" stroke="#777" stroke-width="0.8"/>
<line x1="141.40" y1="325.90" x2="143.00" y2="325.90" stroke="#777" stroke-width="0.8"/>
<line x1="144.00" y1="392.60" x2="198.40" y2="392.60" stroke="#aaa" stroke-width="1.1" stroke-dasharray="0.8 1.0"/>
<line x1="159.30" y1="342.70" x2="182.80" y2="342.70" stroke="#222" stroke-width="1.3"/>
<line x1="159.30" y1="341.10" x2="159.30" y2="344.30" stroke="#222" stroke-width="1"/>
<line x1="182.80" y1="341.10" x2="182.80" y2="344.30" stroke="#222" stroke-width="1"/>
<text x="172.00" y="339.30" font-size="7.6" text-anchor="middle" font-weight="bold" fill="#111" style="stroke-width:0.15px;">12.3</text>
<path d="M201.10,390.40 L201.10,356.23 L201.45,354.71 L201.80,353.12 L202.15,351.42 L202.50,349.57 L202.85,347.58 L203.20,345.42 L203.55,343.12 L203.90,340.72 L204.25,338.31 L204.60,335.98 L204.95,333.86 L205.30,332.07 L205.65,330.75 L206.00,330.02 L206.35,330.01 L206.70,331.11 L207.05,333.33 L207.40,336.53 L207.75,340.54 L208.10,345.13 L208.45,350.07 L208.80,355.13 L209.15,360.11 L209.50,364.83 L209.85,369.17 L210.20,373.03 L210.55,376.38 L210.90,379.21 L211.25,381.55 L211.60,383.43 L211.95,384.93 L212.30,386.09 L212.65,386.98 L213.00,387.66 L213.35,388.18 L213.70,388.57 L214.05,388.86 L214.40,389.09 L214.75,389.28 L215.10,389.43 L215.45,389.55 L215.80,389.66 L216.15,389.75 L216.50,389.83 L216.85,389.90 L217.20,389.96 L217.55,390.02 L217.90,390.07 L218.25,390.12 L218.60,390.15 L218.95,390.19 L219.30,390.22 L219.65,390.25 L220.00,390.27 L220.35,390.29 L220.70,390.31 L221.05,390.32 L221.40,390.34 L221.75,390.35 L222.10,390.36 L222.45,390.36 L222.80,390.37 L223.15,390.38 L223.50,390.38 L223.85,390.38 L224.20,390.39 L224.55,390.39 L224.90,390.39 L225.25,390.39 L225.60,390.40 L225.95,390.40 L226.30,390.40 L226.65,390.40 L227.00,390.40 L227.35,390.40 L227.70,390.40 L228.05,390.40 L228.40,390.40 L228.75,390.40 L229.10,390.40 L229.45,390.40 L229.80,390.40 L230.15,390.40 L230.50,390.40 L230.85,390.40 L231.20,390.40 L231.55,390.40 L231.90,390.40 L232.25,390.40 L232.60,390.40 L232.95,390.40 L233.30,390.40 L233.65,390.40 L234.00,390.40 L234.35,390.40 L234.70,390.40 L235.05,390.40 L235.40,390.40 L235.75,390.40 L236.10,390.40 L236.45,390.40 L236.80,390.40 L237.15,390.40 L237.50,390.40 L237.85,390.40 L238.20,390.40 L238.55,390.40 L238.90,390.40 L239.25,390.40 L239.60,390.40 L239.95,390.40 L240.30,390.40 L240.65,390.40 L241.00,390.40 L241.35,390.40 L241.70,390.40 L242.05,390.40 L242.40,390.40 L242.75,390.40 L243.10,390.40 L243.45,390.40 L243.80,390.40 L244.15,390.40 L244.50,390.40 L244.85,390.40 L245.20,390.40 L245.55,390.40 L245.90,390.40 L246.25,390.40 L246.60,390.40 L246.95,390.40 L247.30,390.40 L247.65,390.40 L248.00,390.40 L248.35,390.40 L248.70,390.40 L249.05,390.40 L249.40,390.40 L249.75,390.40 L250.10,390.40 L250.45,390.40 L250.80,390.40 L251.15,390.40 L251.50,390.40 L251.85,390.40 L252.20,390.40 L252.55,390.40 L252.90,390.40 L253.25,390.40 L253.60,390.40 L253.95,390.40 L254.30,390.40 L254.65,390.40 L254.80,390.40 Z" fill="#d8d8d8" stroke="#2a2a2a" stroke-width="0.8" stroke-linejoin="round"/>
<path d="M201.10,351.62 L201.45,350.02 L201.80,348.39 L202.15,346.71 L202.50,344.96 L202.85,343.10 L203.20,341.15 L203.55,339.11 L203.90,337.03 L204.25,334.98 L204.60,333.03 L204.95,331.30 L205.30,329.88 L205.65,328.89 L206.00,328.43 L206.35,328.65 L206.70,329.84 L207.05,331.95 L207.40,334.88 L207.75,338.49 L208.10,342.62 L208.45,347.09 L208.80,351.74 L209.15,356.39 L209.50,360.92 L209.85,365.19 L210.20,369.12 L210.55,372.65 L210.90,375.76 L211.25,378.43 L211.60,380.69 L211.95,382.57 L212.30,384.10 L212.65,385.32 L213.00,386.30 L213.35,387.07 L213.70,387.66 L214.05,388.13 L214.40,388.49 L214.75,388.77 L215.10,389.00 L215.45,389.18 L215.80,389.33 L216.15,389.46 L216.50,389.57 L216.85,389.64 L217.20,389.66 L217.55,389.68 L217.90,389.70 L218.25,389.72 L218.60,389.74 L218.95,389.76 L219.30,389.78 L219.65,389.80 L220.00,389.82 L220.35,389.83 L220.70,389.85 L221.05,389.86 L221.40,389.88 L221.75,389.90 L222.10,389.91 L222.45,389.92 L222.80,389.94 L223.15,389.95 L223.50,389.96 L223.85,389.98 L224.20,389.99 L224.55,390.00 L224.90,390.01 L225.25,390.02 L225.60,390.03 L225.95,390.04 L226.30,390.05 L226.65,390.06 L227.00,390.07 L227.35,390.08 L227.70,390.09 L228.05,390.06 L228.40,389.96 L228.75,389.85 L229.10,389.71 L229.45,389.55 L229.80,389.36 L230.15,389.14 L230.50,388.89 L230.85,388.60 L231.20,388.25 L231.55,387.83 L231.90,387.28 L232.25,386.56 L232.60,385.61 L232.95,384.35 L233.30,382.77 L233.65,380.88 L234.00,378.78 L234.35,376.66 L234.70,374.77 L235.05,373.39 L235.40,372.73 L235.75,372.92 L236.10,373.90 L236.45,375.53 L236.80,377.55 L237.15,379.69 L237.50,381.72 L237.85,383.49 L238.20,384.93 L238.55,386.05 L238.90,386.89 L239.25,387.53 L239.60,388.02 L239.95,388.41 L240.30,388.73 L240.65,389.01 L241.00,389.24 L241.35,389.45 L241.70,389.62 L242.05,389.77 L242.40,389.90 L242.75,390.01 L243.10,390.09 L243.45,390.16 L243.80,390.22 L244.15,390.27 L244.50,390.30 L244.85,390.33 L245.20,390.33 L245.55,390.33 L245.90,390.33 L246.25,390.33 L246.60,390.34 L246.95,390.34 L247.30,390.34 L247.65,390.34 L248.00,390.34 L248.35,390.34 L248.70,390.35 L249.05,390.35 L249.40,390.35 L249.75,390.35 L250.10,390.35 L250.45,390.35 L250.80,390.36 L251.15,390.36 L251.50,390.36 L251.85,390.36 L252.20,390.36 L252.55,390.36 L252.90,390.36 L253.25,390.36 L253.60,390.36 L253.95,390.37 L254.30,390.37 L254.65,390.37" fill="none" stroke="#111" stroke-width="1.0" stroke-linejoin="round"/>
<line x1="200.50" y1="323.90" x2="255.30" y2="323.90" stroke="#8f8f8f" stroke-width="1"/>
<line x1="255.30" y1="323.90" x2="255.30" y2="391.00" stroke="#8f8f8f" stroke-width="1"/>
<line x1="200.50" y1="323.40" x2="200.50" y2="391.00" stroke="#333" stroke-width="1.1"/>
<line x1="200.50" y1="391.00" x2="255.80" y2="391.00" stroke="#1a1a1a" stroke-width="1.2"/>
<line x1="198.90" y1="390.00" x2="200.50" y2="390.00" stroke="#777" stroke-width="0.8"/>
<line x1="198.90" y1="377.18" x2="200.50" y2="377.18" stroke="#777" stroke-width="0.8"/>
<line x1="198.90" y1="364.36" x2="200.50" y2="364.36" stroke="#777" stroke-width="0.8"/>
<line x1="198.90" y1="351.54" x2="200.50" y2="351.54" stroke="#777" stroke-width="0.8"/>
<line x1="198.90" y1="338.72" x2="200.50" y2="338.72" stroke="#777" stroke-width="0.8"/>
<line x1="198.90" y1="325.90" x2="200.50" y2="325.90" stroke="#777" stroke-width="0.8"/>
<line x1="201.50" y1="392.60" x2="255.30" y2="392.60" stroke="#aaa" stroke-width="1.1" stroke-dasharray="0.8 1.0"/>
<line x1="222.30" y1="337.20" x2="248.70" y2="337.20" stroke="#222" stroke-width="1.3"/>
<line x1="222.30" y1="335.60" x2="222.30" y2="338.80" stroke="#222" stroke-width="1"/>
<line x1="248.70" y1="335.60" x2="248.70" y2="338.80" stroke="#222" stroke-width="1"/>
<text x="235.70" y="337.50" font-size="7.6" text-anchor="middle" font-weight="bold" fill="#111" style="stroke-width:0.15px;">13.3</text>
<path d="M257.40,390.40 L257.40,377.90 L257.75,377.59 L258.10,377.14 L258.45,376.41 L258.80,375.24 L259.15,373.43 L259.50,370.80 L259.85,367.20 L260.20,362.59 L260.55,357.06 L260.90,350.88 L261.25,344.53 L261.60,338.61 L261.95,333.82 L262.30,330.77 L262.65,329.92 L263.00,331.43 L263.35,335.11 L263.70,340.54 L264.05,347.12 L264.40,354.21 L264.75,361.21 L265.10,367.64 L265.45,373.19 L265.80,377.73 L266.15,381.26 L266.50,383.88 L266.85,385.75 L267.20,387.05 L267.55,387.94 L267.90,388.53 L268.25,388.94 L268.60,389.23 L268.95,389.44 L269.30,389.61 L269.65,389.74 L270.00,389.85 L270.35,389.95 L270.70,390.03 L271.05,390.10 L271.40,390.15 L271.75,390.20 L272.10,390.24 L272.45,390.28 L272.80,390.30 L273.15,390.32 L273.50,390.34 L273.85,390.36 L274.20,390.37 L274.55,390.37 L274.90,390.38 L275.25,390.39 L275.60,390.39 L275.95,390.39 L276.30,390.39 L276.65,390.40 L277.00,390.40 L277.35,390.40 L277.70,390.40 L278.05,390.40 L278.40,390.40 L278.75,390.40 L279.10,390.40 L279.45,390.40 L279.80,390.40 L280.15,390.40 L280.50,390.40 L280.85,390.40 L281.20,390.40 L281.55,390.40 L281.90,390.40 L282.25,390.40 L282.60,390.40 L282.95,390.40 L283.30,390.40 L283.65,390.40 L284.00,390.40 L284.35,390.40 L284.70,390.40 L285.05,390.40 L285.40,390.40 L285.75,390.40 L286.10,390.40 L286.45,390.40 L286.80,390.40 L287.15,390.40 L287.50,390.40 L287.85,390.40 L288.20,390.40 L288.55,390.40 L288.90,390.40 L289.25,390.40 L289.60,390.40 L289.95,390.40 L290.30,390.40 L290.65,390.40 L291.00,390.40 L291.35,390.40 L291.70,390.40 L292.05,390.40 L292.40,390.40 L292.75,390.40 L293.10,390.40 L293.45,390.40 L293.80,390.40 L294.15,390.40 L294.50,390.40 L294.85,390.40 L295.20,390.40 L295.55,390.40 L295.90,390.40 L296.25,390.40 L296.60,390.40 L296.95,390.40 L297.30,390.40 L297.65,390.40 L298.00,390.40 L298.35,390.40 L298.70,390.40 L299.05,390.40 L299.40,390.40 L299.75,390.40 L300.10,390.40 L300.45,390.40 L300.80,390.40 L301.15,390.40 L301.50,390.40 L301.85,390.40 L302.20,390.40 L302.55,390.40 L302.90,390.40 L303.25,390.40 L303.60,390.40 L303.95,390.40 L304.30,390.40 L304.65,390.40 L305.00,390.40 L305.35,390.40 L305.70,390.40 L306.05,390.40 L306.40,390.40 L306.75,390.40 L307.10,390.40 L307.45,390.40 L307.80,390.40 L308.15,390.40 L308.50,390.40 L308.85,390.40 L309.20,390.40 L309.55,390.40 L309.90,390.40 L310.25,390.40 L310.60,390.40 L310.95,390.40 L311.30,390.40 L311.65,390.40 L312.00,390.40 L312.35,390.40 L312.70,390.40 L312.80,390.40 Z" fill="#d8d8d8" stroke="#2a2a2a" stroke-width="0.8" stroke-linejoin="round"/>
<path d="M257.40,373.96 L257.75,373.38 L258.10,372.58 L258.45,371.44 L258.80,369.79 L259.15,367.50 L259.50,364.43 L259.85,360.53 L260.20,355.84 L260.55,350.53 L260.90,344.90 L261.25,339.39 L261.60,334.51 L261.95,330.81 L262.30,328.73 L262.65,328.58 L263.00,330.38 L263.35,333.95 L263.70,338.95 L264.05,344.94 L264.40,351.43 L264.75,357.97 L265.10,364.16 L265.45,369.72 L265.80,374.48 L266.15,378.39 L266.50,381.47 L266.85,383.81 L267.20,385.55 L267.55,386.79 L267.90,387.68 L268.25,388.30 L268.60,388.73 L268.95,389.05 L269.30,389.28 L269.65,389.37 L270.00,389.40 L270.35,389.43 L270.70,389.46 L271.05,389.49 L271.40,389.51 L271.75,389.54 L272.10,389.56 L272.45,389.59 L272.80,389.61 L273.15,389.63 L273.50,389.66 L273.85,389.68 L274.20,389.70 L274.55,389.72 L274.90,389.74 L275.25,389.76 L275.60,389.61 L275.95,389.42 L276.30,389.20 L276.65,388.94 L277.00,388.62 L277.35,388.19 L277.70,387.62 L278.05,386.83 L278.40,385.77 L278.75,384.40 L279.10,382.79 L279.45,381.06 L279.80,379.44 L280.15,378.22 L280.50,377.63 L280.85,377.80 L281.20,378.68 L281.55,380.10 L281.90,381.80 L282.25,383.50 L282.60,385.02 L282.95,386.26 L283.30,387.20 L283.65,387.89 L284.00,388.39 L284.35,388.77 L284.70,389.06 L285.05,389.30 L285.40,389.50 L285.75,389.68 L286.10,389.82 L286.45,389.95 L286.80,390.05 L287.15,390.13 L287.50,390.17 L287.85,390.18 L288.20,390.18 L288.55,390.19 L288.90,390.19 L289.25,390.20 L289.60,390.21 L289.95,390.21 L290.30,390.22 L290.65,390.22 L291.00,390.23 L291.35,390.23 L291.70,390.24 L292.05,390.24 L292.40,390.25 L292.75,390.25 L293.10,390.25 L293.45,390.26 L293.80,390.26 L294.15,390.27 L294.50,390.27 L294.85,390.27 L295.20,390.28 L295.55,390.28 L295.90,390.28 L296.25,390.29 L296.60,390.29 L296.95,390.29 L297.30,390.30 L297.65,390.30 L298.00,390.30 L298.35,390.31 L298.70,390.31 L299.05,390.31 L299.40,390.31 L299.75,390.32 L300.10,390.32 L300.45,390.32 L300.80,390.32 L301.15,390.33 L301.50,390.33 L301.85,390.33 L302.20,390.33 L302.55,390.33 L302.90,390.34 L303.25,390.34 L303.60,390.34 L303.95,390.34 L304.30,390.34 L304.65,390.34 L305.00,390.35 L305.35,390.35 L305.70,390.35 L306.05,390.35 L306.40,390.35 L306.75,390.35 L307.10,390.35 L307.45,390.36 L307.80,390.36 L308.15,390.36 L308.50,390.36 L308.85,390.36 L309.20,390.36 L309.55,390.36 L309.90,390.36 L310.25,390.37 L310.60,390.37 L310.95,390.37 L311.30,390.37 L311.65,390.37 L312.00,390.37 L312.35,390.37 L312.70,390.37" fill="none" stroke="#111" stroke-width="1.0" stroke-linejoin="round"/>
<line x1="256.80" y1="323.90" x2="313.30" y2="323.90" stroke="#8f8f8f" stroke-width="1"/>
<line x1="313.30" y1="323.90" x2="313.30" y2="391.00" stroke="#8f8f8f" stroke-width="1"/>
<line x1="256.80" y1="323.40" x2="256.80" y2="391.00" stroke="#333" stroke-width="1.1"/>
<line x1="256.80" y1="391.00" x2="313.80" y2="391.00" stroke="#1a1a1a" stroke-width="1.2"/>
<line x1="255.20" y1="390.00" x2="256.80" y2="390.00" stroke="#777" stroke-width="0.8"/>
<line x1="255.20" y1="377.18" x2="256.80" y2="377.18" stroke="#777" stroke-width="0.8"/>
<line x1="255.20" y1="364.36" x2="256.80" y2="364.36" stroke="#777" stroke-width="0.8"/>
<line x1="255.20" y1="351.54" x2="256.80" y2="351.54" stroke="#777" stroke-width="0.8"/>
<line x1="255.20" y1="338.72" x2="256.80" y2="338.72" stroke="#777" stroke-width="0.8"/>
<line x1="255.20" y1="325.90" x2="256.80" y2="325.90" stroke="#777" stroke-width="0.8"/>
<line x1="257.80" y1="392.60" x2="313.30" y2="392.60" stroke="#aaa" stroke-width="1.1" stroke-dasharray="0.8 1.0"/>
<line x1="270.40" y1="338.30" x2="295.80" y2="338.30" stroke="#222" stroke-width="1.3"/>
<line x1="270.40" y1="336.70" x2="270.40" y2="339.90" stroke="#222" stroke-width="1"/>
<line x1="295.80" y1="336.70" x2="295.80" y2="339.90" stroke="#222" stroke-width="1"/>
<text x="283.50" y="334.90" font-size="7.6" text-anchor="middle" font-weight="bold" fill="#111" style="stroke-width:0.15px;">13.8</text>
<path d="M315.90,390.40 L315.90,368.12 L316.25,366.15 L316.60,363.68 L316.95,360.58 L317.30,356.77 L317.65,352.28 L318.00,347.28 L318.35,342.11 L318.70,337.24 L319.05,333.24 L319.40,330.65 L319.75,329.92 L320.10,331.43 L320.45,335.11 L320.80,340.54 L321.15,347.12 L321.50,354.21 L321.85,361.21 L322.20,367.64 L322.55,373.19 L322.90,377.73 L323.25,381.26 L323.60,383.88 L323.95,385.75 L324.30,387.05 L324.65,387.94 L325.00,388.53 L325.35,388.94 L325.70,389.23 L326.05,389.44 L326.40,389.61 L326.75,389.74 L327.10,389.85 L327.45,389.95 L327.80,390.03 L328.15,390.10 L328.50,390.15 L328.85,390.20 L329.20,390.24 L329.55,390.28 L329.90,390.30 L330.25,390.32 L330.60,390.34 L330.95,390.36 L331.30,390.37 L331.65,390.37 L332.00,390.38 L332.35,390.39 L332.70,390.39 L333.05,390.39 L333.40,390.39 L333.75,390.40 L334.10,390.40 L334.45,390.40 L334.80,390.40 L335.15,390.40 L335.50,390.40 L335.85,390.40 L336.20,390.40 L336.55,390.40 L336.90,390.40 L337.25,390.40 L337.60,390.40 L337.95,390.40 L338.30,390.40 L338.65,390.40 L339.00,390.40 L339.35,390.40 L339.70,390.40 L340.05,390.40 L340.40,390.40 L340.75,390.40 L341.10,390.40 L341.45,390.40 L341.80,390.40 L342.15,390.40 L342.50,390.40 L342.85,390.40 L343.20,390.40 L343.55,390.40 L343.90,390.40 L344.25,390.40 L344.60,390.40 L344.95,390.40 L345.30,390.40 L345.65,390.40 L346.00,390.40 L346.35,390.40 L346.70,390.40 L347.05,390.40 L347.40,390.40 L347.75,390.40 L348.10,390.40 L348.45,390.40 L348.80,390.40 L349.15,390.40 L349.50,390.40 L349.85,390.40 L350.20,390.40 L350.55,390.40 L350.90,390.40 L351.25,390.40 L351.60,390.40 L351.95,390.40 L352.30,390.40 L352.65,390.40 L353.00,390.40 L353.35,390.40 L353.70,390.40 L354.05,390.40 L354.40,390.40 L354.75,390.40 L355.10,390.40 L355.45,390.40 L355.80,390.40 L356.15,390.40 L356.50,390.40 L356.85,390.40 L357.20,390.40 L357.55,390.40 L357.90,390.40 L358.25,390.40 L358.60,390.40 L358.95,390.40 L359.30,390.40 L359.65,390.40 L360.00,390.40 L360.35,390.40 L360.70,390.40 L361.05,390.40 L361.40,390.40 L361.75,390.40 L362.10,390.40 L362.45,390.40 L362.80,390.40 L363.15,390.40 L363.50,390.40 L363.85,390.40 L364.20,390.40 L364.55,390.40 L364.90,390.40 L365.25,390.40 L365.60,390.40 L365.95,390.40 L366.30,390.40 L366.65,390.40 L367.00,390.40 L367.35,390.40 L367.70,390.40 L368.05,390.40 L368.40,390.40 L368.75,390.40 L369.10,390.40 L369.45,390.40 L369.80,390.40 L370.00,390.40 Z" fill="#d8d8d8" stroke="#2a2a2a" stroke-width="0.8" stroke-linejoin="round"/>
<path d="M315.90,357.24 L316.25,355.30 L316.60,353.13 L316.95,350.61 L317.30,347.65 L317.65,344.24 L318.00,340.50 L318.35,336.68 L318.70,333.13 L319.05,330.32 L319.40,328.67 L319.75,328.58 L320.10,330.38 L320.45,333.95 L320.80,338.95 L321.15,344.94 L321.50,351.43 L321.85,357.97 L322.20,364.16 L322.55,369.72 L322.90,374.48 L323.25,378.39 L323.60,381.47 L323.95,383.81 L324.30,385.55 L324.65,386.79 L325.00,387.68 L325.35,388.30 L325.70,388.73 L326.05,389.05 L326.40,389.28 L326.75,389.37 L327.10,389.40 L327.45,389.43 L327.80,389.46 L328.15,389.49 L328.50,389.51 L328.85,389.54 L329.20,389.56 L329.55,389.59 L329.90,389.61 L330.25,389.63 L330.60,389.66 L330.95,389.68 L331.30,389.70 L331.65,389.72 L332.00,389.74 L332.35,389.76 L332.70,389.78 L333.05,389.79 L333.40,389.75 L333.75,389.57 L334.10,389.35 L334.45,389.10 L334.80,388.81 L335.15,388.47 L335.50,388.07 L335.85,387.60 L336.20,387.03 L336.55,386.32 L336.90,385.38 L337.25,384.12 L337.60,382.44 L337.95,380.25 L338.30,377.56 L338.65,374.47 L339.00,371.26 L339.35,368.29 L339.70,366.02 L340.05,364.82 L340.40,364.92 L340.75,366.29 L341.10,368.68 L341.45,371.71 L341.80,374.93 L342.15,377.97 L342.50,380.60 L342.85,382.71 L343.20,384.32 L343.55,385.53 L343.90,386.43 L344.25,387.12 L344.60,387.67 L344.95,388.13 L345.30,388.52 L345.65,388.85 L346.00,389.14 L346.35,389.39 L346.70,389.60 L347.05,389.77 L347.40,389.91 L347.75,390.03 L348.10,390.12 L348.45,390.19 L348.80,390.24 L349.15,390.24 L349.50,390.25 L349.85,390.25 L350.20,390.25 L350.55,390.26 L350.90,390.26 L351.25,390.27 L351.60,390.27 L351.95,390.27 L352.30,390.28 L352.65,390.28 L353.00,390.28 L353.35,390.29 L353.70,390.29 L354.05,390.29 L354.40,390.30 L354.75,390.30 L355.10,390.30 L355.45,390.31 L355.80,390.31 L356.15,390.31 L356.50,390.31 L356.85,390.32 L357.20,390.32 L357.55,390.32 L357.90,390.32 L358.25,390.33 L358.60,390.33 L358.95,390.33 L359.30,390.33 L359.65,390.33 L360.00,390.34 L360.35,390.34 L360.70,390.34 L361.05,390.34 L361.40,390.34 L361.75,390.34 L362.10,390.35 L362.45,390.35 L362.80,390.35 L363.15,390.35 L363.50,390.35 L363.85,390.35 L364.20,390.35 L364.55,390.36 L364.90,390.36 L365.25,390.36 L365.60,390.36 L365.95,390.36 L366.30,390.36 L366.65,390.36 L367.00,390.36 L367.35,390.37 L367.70,390.37 L368.05,390.37 L368.40,390.37 L368.75,390.37 L369.10,390.37 L369.45,390.37 L369.80,390.37" fill="none" stroke="#111" stroke-width="1.0" stroke-linejoin="round"/>
<line x1="315.30" y1="323.90" x2="370.50" y2="323.90" stroke="#8f8f8f" stroke-width="1"/>
<line x1="370.50" y1="323.90" x2="370.50" y2="391.00" stroke="#8f8f8f" stroke-width="1"/>
<line x1="315.30" y1="323.40" x2="315.30" y2="391.00" stroke="#333" stroke-width="1.1"/>
<line x1="315.30" y1="391.00" x2="371.00" y2="391.00" stroke="#1a1a1a" stroke-width="1.2"/>
<line x1="313.70" y1="390.00" x2="315.30" y2="390.00" stroke="#777" stroke-width="0.8"/>
<line x1="313.70" y1="377.18" x2="315.30" y2="377.18" stroke="#777" stroke-width="0.8"/>
<line x1="313.70" y1="364.36" x2="315.30" y2="364.36" stroke="#777" stroke-width="0.8"/>
<line x1="313.70" y1="351.54" x2="315.30" y2="351.54" stroke="#777" stroke-width="0.8"/>
<line x1="313.70" y1="338.72" x2="315.30" y2="338.72" stroke="#777" stroke-width="0.8"/>
<line x1="313.70" y1="325.90" x2="315.30" y2="325.90" stroke="#777" stroke-width="0.8"/>
<line x1="316.30" y1="392.60" x2="370.50" y2="392.60" stroke="#aaa" stroke-width="1.1" stroke-dasharray="0.8 1.0"/>
<line x1="330.00" y1="340.90" x2="352.70" y2="340.90" stroke="#222" stroke-width="1.3"/>
<line x1="330.00" y1="339.30" x2="330.00" y2="342.50" stroke="#222" stroke-width="1"/>
<line x1="352.70" y1="339.30" x2="352.70" y2="342.50" stroke="#222" stroke-width="1"/>
<text x="342.00" y="336.00" font-size="7.6" text-anchor="middle" font-weight="bold" fill="#111" style="stroke-width:0.15px;">22</text>
<line x1="13.60" y1="166.70" x2="28.50" y2="166.70" stroke="#111" stroke-width="1.2"/>
<line x1="13.60" y1="166.70" x2="13.60" y2="180.50" stroke="#111" stroke-width="1.2"/>
<path d="M31.40,166.70 L26.90,164.60 L26.90,168.80 Z" fill="#111" stroke="none" stroke-width="0" stroke-linejoin="round"/>
<path d="M13.60,184.40 L11.50,179.80 L15.70,179.80 Z" fill="#111" stroke="none" stroke-width="0" stroke-linejoin="round"/>
<text x="39.60" y="168.10" font-size="8.5" text-anchor="start" font-weight="normal" fill="#111">CD19</text>
<text x="7.40" y="205.60" font-size="8.5" text-anchor="middle" font-weight="normal" fill="#111" transform="rotate(-90 7.40 205.60)">% of Max</text>
<text x="17.70" y="214.00" font-size="8.4" text-anchor="middle" font-weight="normal" fill="#111" transform="rotate(-90 17.70 214.00)">Control</text>
<text x="10.40" y="286.00" font-size="8.4" text-anchor="middle" font-weight="normal" fill="#111" transform="rotate(-90 10.40 286.00)">Anti-CD22/cal</text>
<text x="19.90" y="286.80" font-size="8.3" text-anchor="middle" font-weight="normal" fill="#111" transform="rotate(-90 19.90 286.80)">mAb</text>
<text x="10.40" y="358.00" font-size="8.2" text-anchor="middle" font-weight="normal" fill="#111" transform="rotate(-90 10.40 358.00)">Anti-CD22 uncon</text>
<text x="19.90" y="360.60" font-size="8.3" text-anchor="middle" font-weight="normal" fill="#111" transform="rotate(-90 19.90 360.60)">mAb</text>
<text x="53.60" y="403.90" font-size="8.6" text-anchor="middle" font-weight="normal" fill="#111">0</text>
<text x="111.50" y="403.90" font-size="8.6" text-anchor="middle" font-weight="normal" fill="#111">2</text>
<text x="169.20" y="403.90" font-size="8.6" text-anchor="middle" font-weight="normal" fill="#111">4</text>
<text x="228.20" y="403.90" font-size="8.6" text-anchor="middle" font-weight="normal" fill="#111">6</text>
<text x="286.20" y="403.90" font-size="8.6" text-anchor="middle" font-weight="normal" fill="#111">8</text>
<text x="342.50" y="403.90" font-size="8.6" text-anchor="middle" font-weight="normal" fill="#111">10</text>
<rect x="26.5" y="410.4" width="15" height="4.8" fill="#d8d8d8" stroke="#222" stroke-width="0.9"/>
<text x="43.40" y="416.30" font-size="8" text-anchor="start" font-weight="normal" fill="#111">Isotype</text>
<rect x="80.2" y="410" width="13.6" height="4.8" fill="#fff" stroke="#222" stroke-width="0.9"/>
<text x="96.90" y="416.30" font-size="8" text-anchor="start" font-weight="normal" fill="#111">Abs</text>
<text x="164.60" y="416.30" font-size="9.2" text-anchor="start" font-weight="normal" fill="#111">Weeks after injection</text>
<line x1="421.10" y1="176.20" x2="421.10" y2="234.50" stroke="#111" stroke-width="1.1"/>
<line x1="417.90" y1="234.50" x2="518.80" y2="234.50" stroke="#111" stroke-width="1.1"/>
<line x1="417.90" y1="234.50" x2="421.10" y2="234.50" stroke="#111" stroke-width="1"/>
<text x="416.50" y="237.40" font-size="8" text-anchor="end" font-weight="normal" fill="#111">0</text>
<line x1="417.90" y1="215.07" x2="421.10" y2="215.07" stroke="#111" stroke-width="1"/>
<text x="416.50" y="217.97" font-size="8" text-anchor="end" font-weight="normal" fill="#111">10</text>
<line x1="417.90" y1="195.63" x2="421.10" y2="195.63" stroke="#111" stroke-width="1"/>
<text x="416.50" y="198.53" font-size="8" text-anchor="end" font-weight="normal" fill="#111">20</text>
<line x1="417.90" y1="176.20" x2="421.10" y2="176.20" stroke="#111" stroke-width="1"/>
<text x="416.50" y="179.10" font-size="8" text-anchor="end" font-weight="normal" fill="#111">30</text>
<line x1="434.80" y1="234.50" x2="434.80" y2="237.70" stroke="#111" stroke-width="1"/>
<line x1="448.70" y1="234.50" x2="448.70" y2="237.70" stroke="#111" stroke-width="1"/>
<line x1="462.40" y1="234.50" x2="462.40" y2="237.70" stroke="#111" stroke-width="1"/>
<line x1="476.20" y1="234.50" x2="476.20" y2="237.70" stroke="#111" stroke-width="1"/>
<line x1="489.70" y1="234.50" x2="489.70" y2="237.70" stroke="#111" stroke-width="1"/>
<line x1="503.40" y1="234.50" x2="503.40" y2="237.70" stroke="#111" stroke-width="1"/>
<line x1="427.00" y1="194.60" x2="442.30" y2="194.60" stroke="#111" stroke-width="1.4"/>
<line x1="442.30" y1="193.80" x2="455.40" y2="193.80" stroke="#111" stroke-width="1.4"/>
<line x1="455.40" y1="198.30" x2="469.50" y2="198.30" stroke="#111" stroke-width="1.4"/>
<line x1="469.50" y1="196.70" x2="483.00" y2="196.70" stroke="#111" stroke-width="1.4"/>
<line x1="482.60" y1="199.70" x2="497.40" y2="199.70" stroke="#111" stroke-width="1.4"/>
<line x1="496.40" y1="207.00" x2="510.90" y2="207.00" stroke="#111" stroke-width="1.4"/>
<circle cx="434.00" cy="189.20" r="0.85" fill="#555"/>
<circle cx="437.00" cy="188.20" r="0.85" fill="#555"/>
<circle cx="434.80" cy="191.20" r="0.85" fill="#555"/>
<circle cx="434.80" cy="196.30" r="0.85" fill="#555"/>
<circle cx="434.80" cy="198.90" r="0.85" fill="#555"/>
<circle cx="448.70" cy="183.10" r="0.85" fill="#555"/>
<circle cx="448.70" cy="186.00" r="0.85" fill="#555"/>
<circle cx="448.70" cy="190.20" r="0.85" fill="#555"/>
<circle cx="448.70" cy="195.80" r="0.85" fill="#555"/>
<circle cx="448.70" cy="199.30" r="0.85" fill="#555"/>
<circle cx="448.70" cy="202.30" r="0.85" fill="#555"/>
<circle cx="462.40" cy="185.80" r="0.85" fill="#555"/>
<circle cx="462.40" cy="189.20" r="0.85" fill="#555"/>
<circle cx="462.40" cy="193.20" r="0.85" fill="#555"/>
<circle cx="462.40" cy="201.30" r="0.85" fill="#555"/>
<circle cx="462.40" cy="217.50" r="0.85" fill="#555"/>
<circle cx="476.20" cy="182.50" r="0.85" fill="#555"/>
<circle cx="476.20" cy="185.80" r="0.85" fill="#555"/>
<circle cx="476.20" cy="189.20" r="0.85" fill="#555"/>
<circle cx="476.20" cy="191.80" r="0.85" fill="#555"/>
<circle cx="476.20" cy="194.20" r="0.85" fill="#555"/>
<circle cx="476.20" cy="211.40" r="0.85" fill="#555"/>
<circle cx="476.20" cy="214.80" r="0.85" fill="#555"/>
<circle cx="489.70" cy="181.50" r="0.85" fill="#555"/>
<circle cx="489.70" cy="195.80" r="0.85" fill="#555"/>
<circle cx="489.70" cy="198.30" r="0.85" fill="#555"/>
<circle cx="489.70" cy="201.90" r="0.85" fill="#555"/>
<circle cx="489.70" cy="205.30" r="0.85" fill="#555"/>
<circle cx="489.70" cy="209.00" r="0.85" fill="#555"/>
<circle cx="503.40" cy="192.60" r="0.85" fill="#555"/>
<circle cx="503.40" cy="203.30" r="0.85" fill="#555"/>
<circle cx="503.40" cy="208.40" r="0.85" fill="#555"/>
<circle cx="503.40" cy="212.40" r="0.85" fill="#555"/>
<circle cx="503.40" cy="215.40" r="0.85" fill="#555"/>
<text transform="translate(403.2,201.50) rotate(-90)" font-size="8.4" text-anchor="middle" fill="#111" textLength="65" lengthAdjust="spacingAndGlyphs">% of CD19<tspan font-size="7" dy="-2.4">+</tspan><tspan dy="2.4"> cells</tspan></text>
<line x1="421.10" y1="262.70" x2="421.10" y2="319.30" stroke="#111" stroke-width="1.1"/>
<line x1="417.90" y1="319.30" x2="518.80" y2="319.30" stroke="#111" stroke-width="1.1"/>
<line x1="417.90" y1="319.30" x2="421.10" y2="319.30" stroke="#111" stroke-width="1"/>
<text x="416.50" y="322.20" font-size="8" text-anchor="end" font-weight="normal" fill="#111">0</text>
<line x1="417.90" y1="300.43" x2="421.10" y2="300.43" stroke="#111" stroke-width="1"/>
<text x="416.50" y="303.33" font-size="8" text-anchor="end" font-weight="normal" fill="#111">10</text>
<line x1="417.90" y1="281.57" x2="421.10" y2="281.57" stroke="#111" stroke-width="1"/>
<text x="416.50" y="284.47" font-size="8" text-anchor="end" font-weight="normal" fill="#111">20</text>
<line x1="417.90" y1="262.70" x2="421.10" y2="262.70" stroke="#111" stroke-width="1"/>
<text x="416.50" y="265.60" font-size="8" text-anchor="end" font-weight="normal" fill="#111">30</text>
<line x1="434.80" y1="319.30" x2="434.80" y2="322.50" stroke="#111" stroke-width="1"/>
<line x1="448.70" y1="319.30" x2="448.70" y2="322.50" stroke="#111" stroke-width="1"/>
<line x1="462.40" y1="319.30" x2="462.40" y2="322.50" stroke="#111" stroke-width="1"/>
<line x1="476.20" y1="319.30" x2="476.20" y2="322.50" stroke="#111" stroke-width="1"/>
<line x1="489.70" y1="319.30" x2="489.70" y2="322.50" stroke="#111" stroke-width="1"/>
<line x1="503.40" y1="319.30" x2="503.40" y2="322.50" stroke="#111" stroke-width="1"/>
<line x1="427.50" y1="278.80" x2="442.30" y2="278.80" stroke="#111" stroke-width="1.4"/>
<line x1="441.30" y1="318.20" x2="455.40" y2="318.20" stroke="#111" stroke-width="1.4"/>
<line x1="455.40" y1="318.20" x2="469.50" y2="318.20" stroke="#111" stroke-width="1.4"/>
<line x1="469.10" y1="314.00" x2="483.70" y2="314.00" stroke="#111" stroke-width="1.4"/>
<line x1="482.20" y1="294.40" x2="497.40" y2="294.40" stroke="#111" stroke-width="1.4"/>
<line x1="495.80" y1="280.80" x2="510.90" y2="280.80" stroke="#111" stroke-width="1.4"/>
<circle cx="434.80" cy="267.50" r="0.85" fill="#555"/>
<circle cx="434.80" cy="270.10" r="0.85" fill="#555"/>
<circle cx="434.80" cy="272.80" r="0.85" fill="#555"/>
<circle cx="434.80" cy="275.20" r="0.85" fill="#555"/>
<circle cx="434.80" cy="284.30" r="0.85" fill="#555"/>
<circle cx="434.80" cy="288.90" r="0.85" fill="#555"/>
<circle cx="448.70" cy="317.20" r="0.85" fill="#555"/>
<circle cx="462.40" cy="317.20" r="0.85" fill="#555"/>
<circle cx="476.20" cy="308.50" r="0.85" fill="#555"/>
<circle cx="476.20" cy="312.60" r="0.85" fill="#555"/>
<circle cx="476.20" cy="315.60" r="0.85" fill="#555"/>
<circle cx="489.70" cy="286.70" r="0.85" fill="#555"/>
<circle cx="489.70" cy="290.30" r="0.85" fill="#555"/>
<circle cx="489.70" cy="296.40" r="0.85" fill="#555"/>
<circle cx="489.70" cy="299.40" r="0.85" fill="#555"/>
<circle cx="489.70" cy="300.40" r="0.85" fill="#555"/>
<circle cx="503.40" cy="275.20" r="0.85" fill="#555"/>
<circle cx="503.40" cy="277.20" r="0.85" fill="#555"/>
<circle cx="503.40" cy="281.90" r="0.85" fill="#555"/>
<circle cx="503.40" cy="286.30" r="0.85" fill="#555"/>
<text transform="translate(403.2,288.00) rotate(-90)" font-size="8.4" text-anchor="middle" fill="#111" textLength="65" lengthAdjust="spacingAndGlyphs">% of CD19<tspan font-size="7" dy="-2.4">+</tspan><tspan dy="2.4"> cells</tspan></text>
<line x1="420.60" y1="345.10" x2="420.60" y2="401.60" stroke="#111" stroke-width="1.1"/>
<line x1="417.40" y1="401.60" x2="518.80" y2="401.60" stroke="#111" stroke-width="1.1"/>
<line x1="417.40" y1="401.60" x2="420.60" y2="401.60" stroke="#111" stroke-width="1"/>
<text x="416.00" y="404.50" font-size="8" text-anchor="end" font-weight="normal" fill="#111">0</text>
<line x1="417.40" y1="382.77" x2="420.60" y2="382.77" stroke="#111" stroke-width="1"/>
<text x="416.00" y="385.67" font-size="8" text-anchor="end" font-weight="normal" fill="#111">10</text>
<line x1="417.40" y1="363.93" x2="420.60" y2="363.93" stroke="#111" stroke-width="1"/>
<text x="416.00" y="366.83" font-size="8" text-anchor="end" font-weight="normal" fill="#111">20</text>
<line x1="417.40" y1="345.10" x2="420.60" y2="345.10" stroke="#111" stroke-width="1"/>
<text x="416.00" y="348.00" font-size="8" text-anchor="end" font-weight="normal" fill="#111">30</text>
<line x1="434.20" y1="401.60" x2="434.20" y2="404.80" stroke="#111" stroke-width="1"/>
<line x1="448.60" y1="401.60" x2="448.60" y2="404.80" stroke="#111" stroke-width="1"/>
<line x1="462.80" y1="401.60" x2="462.80" y2="404.80" stroke="#111" stroke-width="1"/>
<line x1="477.00" y1="401.60" x2="477.00" y2="404.80" stroke="#111" stroke-width="1"/>
<line x1="491.30" y1="401.60" x2="491.30" y2="404.80" stroke="#111" stroke-width="1"/>
<line x1="505.70" y1="401.60" x2="505.70" y2="404.80" stroke="#111" stroke-width="1"/>
<line x1="426.80" y1="360.80" x2="441.60" y2="360.80" stroke="#111" stroke-width="1.4"/>
<line x1="441.20" y1="385.10" x2="456.00" y2="385.10" stroke="#111" stroke-width="1.4"/>
<line x1="455.40" y1="379.00" x2="470.20" y2="379.00" stroke="#111" stroke-width="1.4"/>
<line x1="469.60" y1="378.00" x2="484.40" y2="378.00" stroke="#111" stroke-width="1.4"/>
<line x1="483.90" y1="378.40" x2="498.70" y2="378.40" stroke="#111" stroke-width="1.4"/>
<line x1="498.30" y1="361.30" x2="513.10" y2="361.30" stroke="#111" stroke-width="1.4"/>
<circle cx="434.20" cy="346.70" r="0.85" fill="#555"/>
<circle cx="434.20" cy="350.80" r="0.85" fill="#555"/>
<circle cx="434.20" cy="355.20" r="0.85" fill="#555"/>
<circle cx="434.20" cy="364.90" r="0.85" fill="#555"/>
<circle cx="434.20" cy="372.40" r="0.85" fill="#555"/>
<circle cx="434.20" cy="374.80" r="0.85" fill="#555"/>
<circle cx="448.60" cy="379.00" r="0.85" fill="#555"/>
<circle cx="448.60" cy="381.00" r="0.85" fill="#555"/>
<circle cx="446.40" cy="388.50" r="0.85" fill="#555"/>
<circle cx="448.60" cy="390.50" r="0.85" fill="#555"/>
<circle cx="448.60" cy="392.10" r="0.85" fill="#555"/>
<circle cx="462.80" cy="373.40" r="0.85" fill="#555"/>
<circle cx="462.80" cy="376.40" r="0.85" fill="#555"/>
<circle cx="462.80" cy="377.80" r="0.85" fill="#555"/>
<circle cx="462.80" cy="389.10" r="0.85" fill="#555"/>
<circle cx="477.00" cy="372.40" r="0.85" fill="#555"/>
<circle cx="477.00" cy="375.40" r="0.85" fill="#555"/>
<circle cx="477.00" cy="377.40" r="0.85" fill="#555"/>
<circle cx="477.00" cy="388.10" r="0.85" fill="#555"/>
<circle cx="491.30" cy="371.30" r="0.85" fill="#555"/>
<circle cx="491.30" cy="374.40" r="0.85" fill="#555"/>
<circle cx="491.30" cy="375.40" r="0.85" fill="#555"/>
<circle cx="491.30" cy="382.90" r="0.85" fill="#555"/>
<circle cx="491.30" cy="387.90" r="0.85" fill="#555"/>
<circle cx="505.70" cy="355.80" r="0.85" fill="#555"/>
<circle cx="505.70" cy="359.20" r="0.85" fill="#555"/>
<circle cx="505.70" cy="364.90" r="0.85" fill="#555"/>
<text transform="translate(403.2,373.00) rotate(-90)" font-size="8.4" text-anchor="middle" fill="#111" textLength="65" lengthAdjust="spacingAndGlyphs">% of CD19<tspan font-size="7" dy="-2.4">+</tspan><tspan dy="2.4"> cells</tspan></text>
<text x="434.40" y="413.90" font-size="8.5" text-anchor="middle" font-weight="normal" fill="#111">0</text>
<text x="448.65" y="413.90" font-size="8.5" text-anchor="middle" font-weight="normal" fill="#111">2</text>
<text x="462.70" y="413.90" font-size="8.5" text-anchor="middle" font-weight="normal" fill="#111">4</text>
<text x="476.80" y="413.90" font-size="8.5" text-anchor="middle" font-weight="normal" fill="#111">6</text>
<text x="491.10" y="413.90" font-size="8.5" text-anchor="middle" font-weight="normal" fill="#111">8</text>
<text x="505.60" y="413.90" font-size="8.5" text-anchor="middle" font-weight="normal" fill="#111">10</text>
<text x="473.00" y="424.40" font-size="8.25" text-anchor="middle" font-weight="normal" fill="#111">Weeks after injection</text></svg>
</body></html>
